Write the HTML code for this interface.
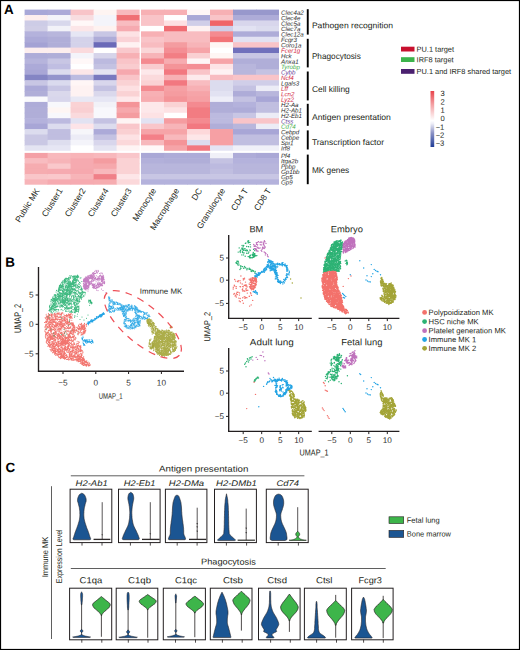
<!DOCTYPE html><html><head><meta charset="utf-8"><style>html,body{margin:0;padding:0;background:#fff;}svg{display:block;}</style></head><body><svg width="520" height="650" viewBox="0 0 520 650" font-family='"Liberation Sans", sans-serif' text-rendering="geometricPrecision">
<rect width="520" height="650" fill="#fff"/>
<g><rect x="24.60" y="9.60" width="23.60" height="6.03" fill="#a8a8d8"/>
<rect x="24.60" y="15.03" width="23.60" height="6.03" fill="#fdeeee"/>
<rect x="24.60" y="20.46" width="23.60" height="6.03" fill="#cdcce6"/>
<rect x="24.60" y="25.89" width="23.60" height="6.03" fill="#d0cee6"/>
<rect x="24.60" y="31.32" width="23.60" height="6.03" fill="#b4b2dc"/>
<rect x="24.60" y="36.75" width="23.60" height="6.03" fill="#acaad8"/>
<rect x="24.60" y="42.18" width="23.60" height="6.03" fill="#a4a2d4"/>
<rect x="24.60" y="47.61" width="23.60" height="6.03" fill="#fdeeee"/>
<rect x="24.60" y="53.04" width="23.60" height="6.03" fill="#aeacd8"/>
<rect x="24.60" y="58.47" width="23.60" height="6.03" fill="#b6b4dc"/>
<rect x="24.60" y="63.90" width="23.60" height="6.03" fill="#acaad8"/>
<rect x="24.60" y="69.33" width="23.60" height="6.03" fill="#a8a6d6"/>
<rect x="24.60" y="74.76" width="23.60" height="6.03" fill="#8485c4"/>
<rect x="24.60" y="80.19" width="23.60" height="6.03" fill="#c8c6e4"/>
<rect x="24.60" y="85.62" width="23.60" height="6.03" fill="#acaad8"/>
<rect x="24.60" y="91.05" width="23.60" height="6.03" fill="#b0aed8"/>
<rect x="24.60" y="96.48" width="23.60" height="6.03" fill="#fafafc"/>
<rect x="24.60" y="101.91" width="23.60" height="6.03" fill="#aeacd8"/>
<rect x="24.60" y="107.34" width="23.60" height="6.03" fill="#b0aed8"/>
<rect x="24.60" y="112.77" width="23.60" height="6.03" fill="#b0aed8"/>
<rect x="24.60" y="118.20" width="23.60" height="6.03" fill="#b4b2dc"/>
<rect x="24.60" y="123.63" width="23.60" height="6.03" fill="#a8a6d6"/>
<rect x="24.60" y="129.06" width="23.60" height="6.03" fill="#dcdcee"/>
<rect x="24.60" y="134.49" width="23.60" height="6.03" fill="#cac8e4"/>
<rect x="24.60" y="139.92" width="23.60" height="6.03" fill="#cac8e4"/>
<rect x="24.60" y="145.35" width="23.60" height="5.43" fill="#e4e4f2"/>
<rect x="24.60" y="152.90" width="23.60" height="5.90" fill="#f4a0a6"/>
<rect x="24.60" y="158.20" width="23.60" height="5.90" fill="#f8bcc0"/>
<rect x="24.60" y="163.50" width="23.60" height="5.90" fill="#f6acb0"/>
<rect x="24.60" y="168.80" width="23.60" height="5.90" fill="#f6acb0"/>
<rect x="24.60" y="174.10" width="23.60" height="5.90" fill="#f9c6c9"/>
<rect x="24.60" y="179.40" width="23.60" height="5.30" fill="#f7b4b8"/>
<rect x="47.60" y="9.60" width="23.60" height="6.03" fill="#acaad8"/>
<rect x="47.60" y="15.03" width="23.60" height="6.03" fill="#f4f4fa"/>
<rect x="47.60" y="20.46" width="23.60" height="6.03" fill="#d8d8ec"/>
<rect x="47.60" y="25.89" width="23.60" height="6.03" fill="#f2f2f8"/>
<rect x="47.60" y="31.32" width="23.60" height="6.03" fill="#b8b6dc"/>
<rect x="47.60" y="36.75" width="23.60" height="6.03" fill="#b0aed8"/>
<rect x="47.60" y="42.18" width="23.60" height="6.03" fill="#b0aed8"/>
<rect x="47.60" y="47.61" width="23.60" height="6.03" fill="#fdeeee"/>
<rect x="47.60" y="53.04" width="23.60" height="6.03" fill="#b0aed8"/>
<rect x="47.60" y="58.47" width="23.60" height="6.03" fill="#c8c6e4"/>
<rect x="47.60" y="63.90" width="23.60" height="6.03" fill="#c0bee2"/>
<rect x="47.60" y="69.33" width="23.60" height="6.03" fill="#dcdcee"/>
<rect x="47.60" y="74.76" width="23.60" height="6.03" fill="#9495cc"/>
<rect x="47.60" y="80.19" width="23.60" height="6.03" fill="#dadaee"/>
<rect x="47.60" y="85.62" width="23.60" height="6.03" fill="#c8c6e4"/>
<rect x="47.60" y="91.05" width="23.60" height="6.03" fill="#dad8ec"/>
<rect x="47.60" y="96.48" width="23.60" height="6.03" fill="#d8d6ec"/>
<rect x="47.60" y="101.91" width="23.60" height="6.03" fill="#f8f8fc"/>
<rect x="47.60" y="107.34" width="23.60" height="6.03" fill="#fef6f4"/>
<rect x="47.60" y="112.77" width="23.60" height="6.03" fill="#f8f8fc"/>
<rect x="47.60" y="118.20" width="23.60" height="6.03" fill="#bcbadf"/>
<rect x="47.60" y="123.63" width="23.60" height="6.03" fill="#dcdcee"/>
<rect x="47.60" y="129.06" width="23.60" height="6.03" fill="#c0bee0"/>
<rect x="47.60" y="134.49" width="23.60" height="6.03" fill="#c0bee0"/>
<rect x="47.60" y="139.92" width="23.60" height="6.03" fill="#dedeef"/>
<rect x="47.60" y="145.35" width="23.60" height="5.43" fill="#e6e6f4"/>
<rect x="47.60" y="152.90" width="23.60" height="5.90" fill="#f8b8bc"/>
<rect x="47.60" y="158.20" width="23.60" height="5.90" fill="#f7b4b8"/>
<rect x="47.60" y="163.50" width="23.60" height="5.90" fill="#fac8cb"/>
<rect x="47.60" y="168.80" width="23.60" height="5.90" fill="#f6aab0"/>
<rect x="47.60" y="174.10" width="23.60" height="5.90" fill="#fac8cb"/>
<rect x="47.60" y="179.40" width="23.60" height="5.30" fill="#f6aab0"/>
<rect x="70.60" y="9.60" width="23.60" height="6.03" fill="#f8c4c8"/>
<rect x="70.60" y="15.03" width="23.60" height="6.03" fill="#f8dde0"/>
<rect x="70.60" y="20.46" width="23.60" height="6.03" fill="#fff8f8"/>
<rect x="70.60" y="25.89" width="23.60" height="6.03" fill="#fce6e8"/>
<rect x="70.60" y="31.32" width="23.60" height="6.03" fill="#e6e6f4"/>
<rect x="70.60" y="36.75" width="23.60" height="6.03" fill="#d4d2ea"/>
<rect x="70.60" y="42.18" width="23.60" height="6.03" fill="#d4d2ea"/>
<rect x="70.60" y="47.61" width="23.60" height="6.03" fill="#fadadd"/>
<rect x="70.60" y="53.04" width="23.60" height="6.03" fill="#f4f4fa"/>
<rect x="70.60" y="58.47" width="23.60" height="6.03" fill="#fff8f8"/>
<rect x="70.60" y="63.90" width="23.60" height="6.03" fill="#ffffff"/>
<rect x="70.60" y="69.33" width="23.60" height="6.03" fill="#fce6e8"/>
<rect x="70.60" y="74.76" width="23.60" height="6.03" fill="#bcbbe0"/>
<rect x="70.60" y="80.19" width="23.60" height="6.03" fill="#fff6f6"/>
<rect x="70.60" y="85.62" width="23.60" height="6.03" fill="#fef2f2"/>
<rect x="70.60" y="91.05" width="23.60" height="6.03" fill="#fef2f2"/>
<rect x="70.60" y="96.48" width="23.60" height="6.03" fill="#e8e8f4"/>
<rect x="70.60" y="101.91" width="23.60" height="6.03" fill="#fad2d4"/>
<rect x="70.60" y="107.34" width="23.60" height="6.03" fill="#f9cfd2"/>
<rect x="70.60" y="112.77" width="23.60" height="6.03" fill="#fadadd"/>
<rect x="70.60" y="118.20" width="23.60" height="6.03" fill="#e2e2f2"/>
<rect x="70.60" y="123.63" width="23.60" height="6.03" fill="#fde4e8"/>
<rect x="70.60" y="129.06" width="23.60" height="6.03" fill="#f6f6fa"/>
<rect x="70.60" y="134.49" width="23.60" height="6.03" fill="#ececf6"/>
<rect x="70.60" y="139.92" width="23.60" height="6.03" fill="#f4f4fa"/>
<rect x="70.60" y="145.35" width="23.60" height="5.43" fill="#ffffff"/>
<rect x="70.60" y="152.90" width="23.60" height="5.90" fill="#f8b4b8"/>
<rect x="70.60" y="158.20" width="23.60" height="5.90" fill="#f6aab0"/>
<rect x="70.60" y="163.50" width="23.60" height="5.90" fill="#f6aab0"/>
<rect x="70.60" y="168.80" width="23.60" height="5.90" fill="#f6a8ae"/>
<rect x="70.60" y="174.10" width="23.60" height="5.90" fill="#f7b4b8"/>
<rect x="70.60" y="179.40" width="23.60" height="5.30" fill="#f6aab0"/>
<rect x="93.60" y="9.60" width="23.60" height="6.03" fill="#fef4f2"/>
<rect x="93.60" y="15.03" width="23.60" height="6.03" fill="#f4f4fa"/>
<rect x="93.60" y="20.46" width="23.60" height="6.03" fill="#f4f4fa"/>
<rect x="93.60" y="25.89" width="23.60" height="6.03" fill="#fef2f0"/>
<rect x="93.60" y="31.32" width="23.60" height="6.03" fill="#c8c6e4"/>
<rect x="93.60" y="36.75" width="23.60" height="6.03" fill="#aeacd8"/>
<rect x="93.60" y="42.18" width="23.60" height="6.03" fill="#6a6ab8"/>
<rect x="93.60" y="47.61" width="23.60" height="6.03" fill="#ffffff"/>
<rect x="93.60" y="53.04" width="23.60" height="6.03" fill="#d6d4ea"/>
<rect x="93.60" y="58.47" width="23.60" height="6.03" fill="#bcbadf"/>
<rect x="93.60" y="63.90" width="23.60" height="6.03" fill="#c4c2e2"/>
<rect x="93.60" y="69.33" width="23.60" height="6.03" fill="#e4e4f2"/>
<rect x="93.60" y="74.76" width="23.60" height="6.03" fill="#7879bf"/>
<rect x="93.60" y="80.19" width="23.60" height="6.03" fill="#d8d6ec"/>
<rect x="93.60" y="85.62" width="23.60" height="6.03" fill="#c4c2e2"/>
<rect x="93.60" y="91.05" width="23.60" height="6.03" fill="#dad8ec"/>
<rect x="93.60" y="96.48" width="23.60" height="6.03" fill="#e6e6f4"/>
<rect x="93.60" y="101.91" width="23.60" height="6.03" fill="#f2f2f8"/>
<rect x="93.60" y="107.34" width="23.60" height="6.03" fill="#f8f8fc"/>
<rect x="93.60" y="112.77" width="23.60" height="6.03" fill="#f8f8fc"/>
<rect x="93.60" y="118.20" width="23.60" height="6.03" fill="#c4c2e2"/>
<rect x="93.60" y="123.63" width="23.60" height="6.03" fill="#dcdcee"/>
<rect x="93.60" y="129.06" width="23.60" height="6.03" fill="#acaad8"/>
<rect x="93.60" y="134.49" width="23.60" height="6.03" fill="#c4c2e2"/>
<rect x="93.60" y="139.92" width="23.60" height="6.03" fill="#d8d6ec"/>
<rect x="93.60" y="145.35" width="23.60" height="5.43" fill="#e4e4f2"/>
<rect x="93.60" y="152.90" width="23.60" height="5.90" fill="#f8b8bc"/>
<rect x="93.60" y="158.20" width="23.60" height="5.90" fill="#f49ca0"/>
<rect x="93.60" y="163.50" width="23.60" height="5.90" fill="#f6a8ac"/>
<rect x="93.60" y="168.80" width="23.60" height="5.90" fill="#f8b8bc"/>
<rect x="93.60" y="174.10" width="23.60" height="5.90" fill="#f08088"/>
<rect x="93.60" y="179.40" width="23.60" height="5.30" fill="#f6acb0"/>
<rect x="116.60" y="9.60" width="23.00" height="6.03" fill="#f8b8bc"/>
<rect x="116.60" y="15.03" width="23.00" height="6.03" fill="#f07074"/>
<rect x="116.60" y="20.46" width="23.00" height="6.03" fill="#f8bcc0"/>
<rect x="116.60" y="25.89" width="23.00" height="6.03" fill="#f6aab0"/>
<rect x="116.60" y="31.32" width="23.00" height="6.03" fill="#fde2e4"/>
<rect x="116.60" y="36.75" width="23.00" height="6.03" fill="#fad2d6"/>
<rect x="116.60" y="42.18" width="23.00" height="6.03" fill="#fef2f2"/>
<rect x="116.60" y="47.61" width="23.00" height="6.03" fill="#f9c8cc"/>
<rect x="116.60" y="53.04" width="23.00" height="6.03" fill="#f7b0b4"/>
<rect x="116.60" y="58.47" width="23.00" height="6.03" fill="#f9c4c8"/>
<rect x="116.60" y="63.90" width="23.00" height="6.03" fill="#f9cccf"/>
<rect x="116.60" y="69.33" width="23.00" height="6.03" fill="#f6a8ae"/>
<rect x="116.60" y="74.76" width="23.00" height="6.03" fill="#f9c4c8"/>
<rect x="116.60" y="80.19" width="23.00" height="6.03" fill="#fad2d4"/>
<rect x="116.60" y="85.62" width="23.00" height="6.03" fill="#fde0e2"/>
<rect x="116.60" y="91.05" width="23.00" height="6.03" fill="#fad2d4"/>
<rect x="116.60" y="96.48" width="23.00" height="6.03" fill="#fee8ea"/>
<rect x="116.60" y="101.91" width="23.00" height="6.03" fill="#f49498"/>
<rect x="116.60" y="107.34" width="23.00" height="6.03" fill="#f6a8ac"/>
<rect x="116.60" y="112.77" width="23.00" height="6.03" fill="#f49ca0"/>
<rect x="116.60" y="118.20" width="23.00" height="6.03" fill="#fef4f4"/>
<rect x="116.60" y="123.63" width="23.00" height="6.03" fill="#f9c6ca"/>
<rect x="116.60" y="129.06" width="23.00" height="6.03" fill="#fad0d2"/>
<rect x="116.60" y="134.49" width="23.00" height="6.03" fill="#fde2e4"/>
<rect x="116.60" y="139.92" width="23.00" height="6.03" fill="#fbd8da"/>
<rect x="116.60" y="145.35" width="23.00" height="5.43" fill="#fef4f4"/>
<rect x="116.60" y="152.90" width="23.00" height="5.90" fill="#f9c6ca"/>
<rect x="116.60" y="158.20" width="23.00" height="5.90" fill="#fad2d4"/>
<rect x="116.60" y="163.50" width="23.00" height="5.90" fill="#fad2d4"/>
<rect x="116.60" y="168.80" width="23.00" height="5.90" fill="#fad2d4"/>
<rect x="116.60" y="174.10" width="23.00" height="5.90" fill="#fde6e8"/>
<rect x="116.60" y="179.40" width="23.00" height="5.30" fill="#fbd8da"/>
<rect x="141.00" y="9.60" width="23.60" height="6.03" fill="#f7b0b4"/>
<rect x="141.00" y="15.03" width="23.60" height="6.03" fill="#f9c4c8"/>
<rect x="141.00" y="20.46" width="23.60" height="6.03" fill="#f9c4c8"/>
<rect x="141.00" y="25.89" width="23.60" height="6.03" fill="#ffffff"/>
<rect x="141.00" y="31.32" width="23.60" height="6.03" fill="#f7b0b4"/>
<rect x="141.00" y="36.75" width="23.60" height="6.03" fill="#f9c4c8"/>
<rect x="141.00" y="42.18" width="23.60" height="6.03" fill="#f8bcc0"/>
<rect x="141.00" y="47.61" width="23.60" height="6.03" fill="#fad6d8"/>
<rect x="141.00" y="53.04" width="23.60" height="6.03" fill="#f7b4b8"/>
<rect x="141.00" y="58.47" width="23.60" height="6.03" fill="#f48a90"/>
<rect x="141.00" y="63.90" width="23.60" height="6.03" fill="#f9cccf"/>
<rect x="141.00" y="69.33" width="23.60" height="6.03" fill="#fde8ea"/>
<rect x="141.00" y="74.76" width="23.60" height="6.03" fill="#fbdadc"/>
<rect x="141.00" y="80.19" width="23.60" height="6.03" fill="#fad2d4"/>
<rect x="141.00" y="85.62" width="23.60" height="6.03" fill="#f48a90"/>
<rect x="141.00" y="91.05" width="23.60" height="6.03" fill="#f7b0b4"/>
<rect x="141.00" y="96.48" width="23.60" height="6.03" fill="#f7acb0"/>
<rect x="141.00" y="101.91" width="23.60" height="6.03" fill="#fde8ea"/>
<rect x="141.00" y="107.34" width="23.60" height="6.03" fill="#fde8ea"/>
<rect x="141.00" y="112.77" width="23.60" height="6.03" fill="#fde2e4"/>
<rect x="141.00" y="118.20" width="23.60" height="6.03" fill="#e2e2f2"/>
<rect x="141.00" y="123.63" width="23.60" height="6.03" fill="#f9c6ca"/>
<rect x="141.00" y="129.06" width="23.60" height="6.03" fill="#f6a4a8"/>
<rect x="141.00" y="134.49" width="23.60" height="6.03" fill="#f48088"/>
<rect x="141.00" y="139.92" width="23.60" height="6.03" fill="#f7b8bc"/>
<rect x="141.00" y="145.35" width="23.60" height="5.43" fill="#fff8f8"/>
<rect x="141.00" y="152.90" width="23.60" height="5.90" fill="#aaa8d6"/>
<rect x="141.00" y="158.20" width="23.60" height="5.90" fill="#b2b0da"/>
<rect x="141.00" y="163.50" width="23.60" height="5.90" fill="#b8b6dc"/>
<rect x="141.00" y="168.80" width="23.60" height="5.90" fill="#b8b6dc"/>
<rect x="141.00" y="174.10" width="23.60" height="5.90" fill="#c8c6e4"/>
<rect x="141.00" y="179.40" width="23.60" height="5.30" fill="#b4b2dc"/>
<rect x="164.00" y="9.60" width="23.60" height="6.03" fill="#f7b0b4"/>
<rect x="164.00" y="15.03" width="23.60" height="6.03" fill="#ffffff"/>
<rect x="164.00" y="20.46" width="23.60" height="6.03" fill="#fde0e2"/>
<rect x="164.00" y="25.89" width="23.60" height="6.03" fill="#f06c72"/>
<rect x="164.00" y="31.32" width="23.60" height="6.03" fill="#f8bcc0"/>
<rect x="164.00" y="36.75" width="23.60" height="6.03" fill="#f8bcc0"/>
<rect x="164.00" y="42.18" width="23.60" height="6.03" fill="#f49ca0"/>
<rect x="164.00" y="47.61" width="23.60" height="6.03" fill="#f48e94"/>
<rect x="164.00" y="53.04" width="23.60" height="6.03" fill="#f27e84"/>
<rect x="164.00" y="58.47" width="23.60" height="6.03" fill="#f7acb0"/>
<rect x="164.00" y="63.90" width="23.60" height="6.03" fill="#f49498"/>
<rect x="164.00" y="69.33" width="23.60" height="6.03" fill="#f27880"/>
<rect x="164.00" y="74.76" width="23.60" height="6.03" fill="#f7b0b4"/>
<rect x="164.00" y="80.19" width="23.60" height="6.03" fill="#f27880"/>
<rect x="164.00" y="85.62" width="23.60" height="6.03" fill="#f6a0a4"/>
<rect x="164.00" y="91.05" width="23.60" height="6.03" fill="#f59ca0"/>
<rect x="164.00" y="96.48" width="23.60" height="6.03" fill="#f49498"/>
<rect x="164.00" y="101.91" width="23.60" height="6.03" fill="#fad2d4"/>
<rect x="164.00" y="107.34" width="23.60" height="6.03" fill="#fde2e4"/>
<rect x="164.00" y="112.77" width="23.60" height="6.03" fill="#ffffff"/>
<rect x="164.00" y="118.20" width="23.60" height="6.03" fill="#f59ca0"/>
<rect x="164.00" y="123.63" width="23.60" height="6.03" fill="#f7b4b8"/>
<rect x="164.00" y="129.06" width="23.60" height="6.03" fill="#f6a4a8"/>
<rect x="164.00" y="134.49" width="23.60" height="6.03" fill="#f8b8bc"/>
<rect x="164.00" y="139.92" width="23.60" height="6.03" fill="#f49498"/>
<rect x="164.00" y="145.35" width="23.60" height="5.43" fill="#f6a4a8"/>
<rect x="164.00" y="152.90" width="23.60" height="5.90" fill="#aeacd8"/>
<rect x="164.00" y="158.20" width="23.60" height="5.90" fill="#b0aed8"/>
<rect x="164.00" y="163.50" width="23.60" height="5.90" fill="#b8b6dc"/>
<rect x="164.00" y="168.80" width="23.60" height="5.90" fill="#b8b6dc"/>
<rect x="164.00" y="174.10" width="23.60" height="5.90" fill="#c8c6e4"/>
<rect x="164.00" y="179.40" width="23.60" height="5.30" fill="#b4b2dc"/>
<rect x="187.00" y="9.60" width="23.60" height="6.03" fill="#fff6f6"/>
<rect x="187.00" y="15.03" width="23.60" height="6.03" fill="#aaa8d6"/>
<rect x="187.00" y="20.46" width="23.60" height="6.03" fill="#d0cee8"/>
<rect x="187.00" y="25.89" width="23.60" height="6.03" fill="#fef2f2"/>
<rect x="187.00" y="31.32" width="23.60" height="6.03" fill="#f8bcc0"/>
<rect x="187.00" y="36.75" width="23.60" height="6.03" fill="#f8bcc0"/>
<rect x="187.00" y="42.18" width="23.60" height="6.03" fill="#f7b4b8"/>
<rect x="187.00" y="47.61" width="23.60" height="6.03" fill="#f6a4a8"/>
<rect x="187.00" y="53.04" width="23.60" height="6.03" fill="#fad0d2"/>
<rect x="187.00" y="58.47" width="23.60" height="6.03" fill="#fef6f6"/>
<rect x="187.00" y="63.90" width="23.60" height="6.03" fill="#f48e94"/>
<rect x="187.00" y="69.33" width="23.60" height="6.03" fill="#f9c4c8"/>
<rect x="187.00" y="74.76" width="23.60" height="6.03" fill="#fdeaec"/>
<rect x="187.00" y="80.19" width="23.60" height="6.03" fill="#f8bcc0"/>
<rect x="187.00" y="85.62" width="23.60" height="6.03" fill="#f7b0b4"/>
<rect x="187.00" y="91.05" width="23.60" height="6.03" fill="#f6a4a8"/>
<rect x="187.00" y="96.48" width="23.60" height="6.03" fill="#f6a0a4"/>
<rect x="187.00" y="101.91" width="23.60" height="6.03" fill="#f48a90"/>
<rect x="187.00" y="107.34" width="23.60" height="6.03" fill="#f27c82"/>
<rect x="187.00" y="112.77" width="23.60" height="6.03" fill="#f27c82"/>
<rect x="187.00" y="118.20" width="23.60" height="6.03" fill="#f48a90"/>
<rect x="187.00" y="123.63" width="23.60" height="6.03" fill="#f27880"/>
<rect x="187.00" y="129.06" width="23.60" height="6.03" fill="#fdd8da"/>
<rect x="187.00" y="134.49" width="23.60" height="6.03" fill="#fde6e8"/>
<rect x="187.00" y="139.92" width="23.60" height="6.03" fill="#dcdcee"/>
<rect x="187.00" y="145.35" width="23.60" height="5.43" fill="#f27880"/>
<rect x="187.00" y="152.90" width="23.60" height="5.90" fill="#aeacd8"/>
<rect x="187.00" y="158.20" width="23.60" height="5.90" fill="#b0aed8"/>
<rect x="187.00" y="163.50" width="23.60" height="5.90" fill="#b8b6dc"/>
<rect x="187.00" y="168.80" width="23.60" height="5.90" fill="#b8b6dc"/>
<rect x="187.00" y="174.10" width="23.60" height="5.90" fill="#c8c6e4"/>
<rect x="187.00" y="179.40" width="23.60" height="5.30" fill="#b4b2dc"/>
<rect x="210.00" y="9.60" width="23.60" height="6.03" fill="#f7b0b4"/>
<rect x="210.00" y="15.03" width="23.60" height="6.03" fill="#f9c4c8"/>
<rect x="210.00" y="20.46" width="23.60" height="6.03" fill="#f06468"/>
<rect x="210.00" y="25.89" width="23.60" height="6.03" fill="#d0cee8"/>
<rect x="210.00" y="31.32" width="23.60" height="6.03" fill="#f48a90"/>
<rect x="210.00" y="36.75" width="23.60" height="6.03" fill="#f27478"/>
<rect x="210.00" y="42.18" width="23.60" height="6.03" fill="#fef6f4"/>
<rect x="210.00" y="47.61" width="23.60" height="6.03" fill="#ffffff"/>
<rect x="210.00" y="53.04" width="23.60" height="6.03" fill="#fef6f4"/>
<rect x="210.00" y="58.47" width="23.60" height="6.03" fill="#f6a4a8"/>
<rect x="210.00" y="63.90" width="23.60" height="6.03" fill="#fde4e6"/>
<rect x="210.00" y="69.33" width="23.60" height="6.03" fill="#fef2f2"/>
<rect x="210.00" y="74.76" width="23.60" height="6.03" fill="#f8bcc0"/>
<rect x="210.00" y="80.19" width="23.60" height="6.03" fill="#dcdcee"/>
<rect x="210.00" y="85.62" width="23.60" height="6.03" fill="#dcdcee"/>
<rect x="210.00" y="91.05" width="23.60" height="6.03" fill="#e2e2f2"/>
<rect x="210.00" y="96.48" width="23.60" height="6.03" fill="#eeeef8"/>
<rect x="210.00" y="101.91" width="23.60" height="6.03" fill="#b0aed8"/>
<rect x="210.00" y="107.34" width="23.60" height="6.03" fill="#b0aed8"/>
<rect x="210.00" y="112.77" width="23.60" height="6.03" fill="#bcbadf"/>
<rect x="210.00" y="118.20" width="23.60" height="6.03" fill="#bcbadf"/>
<rect x="210.00" y="123.63" width="23.60" height="6.03" fill="#b0aed8"/>
<rect x="210.00" y="129.06" width="23.60" height="6.03" fill="#f6a0a4"/>
<rect x="210.00" y="134.49" width="23.60" height="6.03" fill="#f6a0a4"/>
<rect x="210.00" y="139.92" width="23.60" height="6.03" fill="#f6a0a4"/>
<rect x="210.00" y="145.35" width="23.60" height="5.43" fill="#e4e4f4"/>
<rect x="210.00" y="152.90" width="23.60" height="5.90" fill="#f0f0f8"/>
<rect x="210.00" y="158.20" width="23.60" height="5.90" fill="#c4c2e2"/>
<rect x="210.00" y="163.50" width="23.60" height="5.90" fill="#bcbadf"/>
<rect x="210.00" y="168.80" width="23.60" height="5.90" fill="#c0bee0"/>
<rect x="210.00" y="174.10" width="23.60" height="5.90" fill="#c8c6e4"/>
<rect x="210.00" y="179.40" width="23.60" height="5.30" fill="#b4b2dc"/>
<rect x="233.00" y="9.60" width="23.60" height="6.03" fill="#9898cc"/>
<rect x="233.00" y="15.03" width="23.60" height="6.03" fill="#aeacd8"/>
<rect x="233.00" y="20.46" width="23.60" height="6.03" fill="#d8d6ec"/>
<rect x="233.00" y="25.89" width="23.60" height="6.03" fill="#e2e2f2"/>
<rect x="233.00" y="31.32" width="23.60" height="6.03" fill="#aeacd8"/>
<rect x="233.00" y="36.75" width="23.60" height="6.03" fill="#e2e2f2"/>
<rect x="233.00" y="42.18" width="23.60" height="6.03" fill="#f9c4c8"/>
<rect x="233.00" y="47.61" width="23.60" height="6.03" fill="#7070bc"/>
<rect x="233.00" y="53.04" width="23.60" height="6.03" fill="#c8c6e4"/>
<rect x="233.00" y="58.47" width="23.60" height="6.03" fill="#b0aed8"/>
<rect x="233.00" y="63.90" width="23.60" height="6.03" fill="#b8b6dc"/>
<rect x="233.00" y="69.33" width="23.60" height="6.03" fill="#b8b6dc"/>
<rect x="233.00" y="74.76" width="23.60" height="6.03" fill="#f9c4c8"/>
<rect x="233.00" y="80.19" width="23.60" height="6.03" fill="#d0cee8"/>
<rect x="233.00" y="85.62" width="23.60" height="6.03" fill="#c4c2e2"/>
<rect x="233.00" y="91.05" width="23.60" height="6.03" fill="#aeacd8"/>
<rect x="233.00" y="96.48" width="23.60" height="6.03" fill="#c4c2e2"/>
<rect x="233.00" y="101.91" width="23.60" height="6.03" fill="#b4b2dc"/>
<rect x="233.00" y="107.34" width="23.60" height="6.03" fill="#aeacd8"/>
<rect x="233.00" y="112.77" width="23.60" height="6.03" fill="#c8c6e4"/>
<rect x="233.00" y="118.20" width="23.60" height="6.03" fill="#f9c4c8"/>
<rect x="233.00" y="123.63" width="23.60" height="6.03" fill="#b8b6dc"/>
<rect x="233.00" y="129.06" width="23.60" height="6.03" fill="#a8a6d6"/>
<rect x="233.00" y="134.49" width="23.60" height="6.03" fill="#c0bee0"/>
<rect x="233.00" y="139.92" width="23.60" height="6.03" fill="#c0bee0"/>
<rect x="233.00" y="145.35" width="23.60" height="5.43" fill="#f0f0f8"/>
<rect x="233.00" y="152.90" width="23.60" height="5.90" fill="#aeacd8"/>
<rect x="233.00" y="158.20" width="23.60" height="5.90" fill="#b4b2dc"/>
<rect x="233.00" y="163.50" width="23.60" height="5.90" fill="#b8b6dc"/>
<rect x="233.00" y="168.80" width="23.60" height="5.90" fill="#b8b6dc"/>
<rect x="233.00" y="174.10" width="23.60" height="5.90" fill="#c8c6e4"/>
<rect x="233.00" y="179.40" width="23.60" height="5.30" fill="#b4b2dc"/>
<rect x="256.00" y="9.60" width="23.00" height="6.03" fill="#9898cc"/>
<rect x="256.00" y="15.03" width="23.00" height="6.03" fill="#aeacd8"/>
<rect x="256.00" y="20.46" width="23.00" height="6.03" fill="#d8d6ec"/>
<rect x="256.00" y="25.89" width="23.00" height="6.03" fill="#dcdcee"/>
<rect x="256.00" y="31.32" width="23.00" height="6.03" fill="#aeacd8"/>
<rect x="256.00" y="36.75" width="23.00" height="6.03" fill="#e2e2f2"/>
<rect x="256.00" y="42.18" width="23.00" height="6.03" fill="#f9c4c8"/>
<rect x="256.00" y="47.61" width="23.00" height="6.03" fill="#7070bc"/>
<rect x="256.00" y="53.04" width="23.00" height="6.03" fill="#c8c6e4"/>
<rect x="256.00" y="58.47" width="23.00" height="6.03" fill="#b0aed8"/>
<rect x="256.00" y="63.90" width="23.00" height="6.03" fill="#b0aed8"/>
<rect x="256.00" y="69.33" width="23.00" height="6.03" fill="#c4c2e2"/>
<rect x="256.00" y="74.76" width="23.00" height="6.03" fill="#f9c4c8"/>
<rect x="256.00" y="80.19" width="23.00" height="6.03" fill="#d0cee8"/>
<rect x="256.00" y="85.62" width="23.00" height="6.03" fill="#ececf6"/>
<rect x="256.00" y="91.05" width="23.00" height="6.03" fill="#b8b6dc"/>
<rect x="256.00" y="96.48" width="23.00" height="6.03" fill="#a8a6d6"/>
<rect x="256.00" y="101.91" width="23.00" height="6.03" fill="#c0bee0"/>
<rect x="256.00" y="107.34" width="23.00" height="6.03" fill="#c0bee0"/>
<rect x="256.00" y="112.77" width="23.00" height="6.03" fill="#ececf6"/>
<rect x="256.00" y="118.20" width="23.00" height="6.03" fill="#f9c4c8"/>
<rect x="256.00" y="123.63" width="23.00" height="6.03" fill="#ececf6"/>
<rect x="256.00" y="129.06" width="23.00" height="6.03" fill="#a8a6d6"/>
<rect x="256.00" y="134.49" width="23.00" height="6.03" fill="#c0bee0"/>
<rect x="256.00" y="139.92" width="23.00" height="6.03" fill="#c0bee0"/>
<rect x="256.00" y="145.35" width="23.00" height="5.43" fill="#f0f0f8"/>
<rect x="256.00" y="152.90" width="23.00" height="5.90" fill="#aaa8d6"/>
<rect x="256.00" y="158.20" width="23.00" height="5.90" fill="#b4b2dc"/>
<rect x="256.00" y="163.50" width="23.00" height="5.90" fill="#b8b6dc"/>
<rect x="256.00" y="168.80" width="23.00" height="5.90" fill="#b8b6dc"/>
<rect x="256.00" y="174.10" width="23.00" height="5.90" fill="#c8c6e4"/>
<rect x="256.00" y="179.40" width="23.00" height="5.30" fill="#b4b2dc"/></g>
<g font-size="6.2" font-style="italic" transform="rotate(0.05 292 97)"><text transform="rotate(0.05 281 14.81)" x="281" y="14.81" fill="#2a2a2a">Clec4a2</text><text transform="rotate(0.05 281 20.24)" x="281" y="20.24" fill="#2a2a2a">Clec4e</text><text transform="rotate(0.05 281 25.68)" x="281" y="25.68" fill="#2a2a2a">Clec5a</text><text transform="rotate(0.05 281 31.11)" x="281" y="31.11" fill="#2a2a2a">Clec7a</text><text transform="rotate(0.05 281 36.53)" x="281" y="36.53" fill="#2a2a2a">Clec12a</text><text transform="rotate(0.05 281 41.97)" x="281" y="41.97" fill="#2a2a2a">Fcgr3</text><text transform="rotate(0.05 281 47.39)" x="281" y="47.39" fill="#2a2a2a">Coro1a</text><text transform="rotate(0.05 281 52.83)" x="281" y="52.83" fill="#d2233c">Fcer1g</text><text transform="rotate(0.05 281 58.25)" x="281" y="58.25" fill="#2a2a2a">Hck</text><text transform="rotate(0.05 281 63.69)" x="281" y="63.69" fill="#2a2a2a">Anxa1</text><text transform="rotate(0.05 281 69.11)" x="281" y="69.11" fill="#3fae49">Tyrobp</text><text transform="rotate(0.05 281 74.55)" x="281" y="74.55" fill="#643c97">Cybb</text><text transform="rotate(0.05 281 79.97)" x="281" y="79.97" fill="#d2233c">Ncf4</text><text transform="rotate(0.05 281 85.41)" x="281" y="85.41" fill="#2a2a2a">Lgals3</text><text transform="rotate(0.05 281 90.83)" x="281" y="90.83" fill="#d2233c">Ltf</text><text transform="rotate(0.05 281 96.26)" x="281" y="96.26" fill="#d2233c">Lcn2</text><text transform="rotate(0.05 281 101.69)" x="281" y="101.69" fill="#d2233c">Lyz2</text><text transform="rotate(0.05 281 107.12)" x="281" y="107.12" fill="#2a2a2a">H2-Aa</text><text transform="rotate(0.05 281 112.55)" x="281" y="112.55" fill="#2a2a2a">H2-Ab1</text><text transform="rotate(0.05 281 117.98)" x="281" y="117.98" fill="#2a2a2a">H2-Eb1</text><text transform="rotate(0.05 281 123.41)" x="281" y="123.41" fill="#643c97">Ctss</text><text transform="rotate(0.05 281 128.84)" x="281" y="128.84" fill="#3fae49">Cd74</text><text transform="rotate(0.05 281 134.28)" x="281" y="134.28" fill="#2a2a2a">Cebpd</text><text transform="rotate(0.05 281 139.70)" x="281" y="139.70" fill="#2a2a2a">Cebpe</text><text transform="rotate(0.05 281 145.13)" x="281" y="145.13" fill="#2a2a2a">Spi1</text><text transform="rotate(0.05 281 150.56)" x="281" y="150.56" fill="#2a2a2a">Irf8</text><text transform="rotate(0.05 281 158.05)" x="281" y="158.05" fill="#2a2a2a">Pf4</text><text transform="rotate(0.05 281 163.35)" x="281" y="163.35" fill="#2a2a2a">Itga2b</text><text transform="rotate(0.05 281 168.65)" x="281" y="168.65" fill="#2a2a2a">Ppbp</text><text transform="rotate(0.05 281 173.95)" x="281" y="173.95" fill="#2a2a2a">Gp1bb</text><text transform="rotate(0.05 281 179.25)" x="281" y="179.25" fill="#2a2a2a">Gp5</text><text transform="rotate(0.05 281 184.55)" x="281" y="184.55" fill="#2a2a2a">Gp9</text></g>
<g font-size="8.3" fill="#231f20"><rect x="306.8" y="9.2" width="1.9" height="25.4" fill="#000"/><text transform="rotate(0.05 311.9 28.2)" x="311.9" y="28.2" textLength="81.2" lengthAdjust="spacingAndGlyphs">Pathogen recognition</text><rect x="306.8" y="38.8" width="1.9" height="28.6" fill="#000"/><text transform="rotate(0.05 311.9 58.9)" x="311.9" y="58.9" textLength="48.9" lengthAdjust="spacingAndGlyphs">Phagocytosis</text><rect x="306.8" y="71.5" width="1.9" height="28.9" fill="#000"/><text transform="rotate(0.05 311.9 91.9)" x="311.9" y="91.9" textLength="37.9" lengthAdjust="spacingAndGlyphs">Cell killing</text><rect x="306.8" y="103.8" width="1.9" height="22.0" fill="#000"/><text transform="rotate(0.05 311.9 119.9)" x="311.9" y="119.9" textLength="79.0" lengthAdjust="spacingAndGlyphs">Antigen presentation</text><rect x="306.8" y="130.4" width="1.9" height="19.1" fill="#000"/><text transform="rotate(0.05 311.9 145.0)" x="311.9" y="145.0" textLength="72.1" lengthAdjust="spacingAndGlyphs">Transcription factor</text><rect x="306.8" y="154.6" width="1.9" height="29.6" fill="#000"/><text transform="rotate(0.05 311.9 173.0)" x="311.9" y="173.0" textLength="37.3" lengthAdjust="spacingAndGlyphs">MK genes</text></g>
<rect x="401" y="46.7" width="13.5" height="4.8" fill="#c8102e"/>
<rect x="401" y="57.2" width="13.5" height="4.8" fill="#3cb44b"/>
<rect x="401" y="69" width="13.5" height="4.8" fill="#4b2170"/>
<g font-size="7.4" fill="#231f20"><text transform="rotate(0.05 416.6 51.8)" x="416.6" y="51.8">PU.1 target</text><text transform="rotate(0.05 416.6 62.3)" x="416.6" y="62.3">IRF8 target</text><text transform="rotate(0.05 416.6 74)" x="416.6" y="74">PU.1 and IRF8 shared target</text></g>
<defs><linearGradient id="cb" x1="0" y1="0" x2="0" y2="1">
<stop offset="0" stop-color="#e8434b"/><stop offset="0.25" stop-color="#f4a3a6"/><stop offset="0.49" stop-color="#fdf3f3"/>
<stop offset="0.53" stop-color="#ffffff"/><stop offset="0.58" stop-color="#eeeef7"/><stop offset="0.75" stop-color="#8c93c6"/><stop offset="1" stop-color="#1f3c96"/></linearGradient></defs>
<rect x="430.5" y="91" width="3.7" height="56" fill="url(#cb)"/>
<g font-size="7.6" fill="#231f20"><text transform="rotate(0.05 440.6 96.0)" x="440.6" y="96.0">3</text><text transform="rotate(0.05 440.6 104.6)" x="440.6" y="104.6">2</text><text transform="rotate(0.05 440.6 112.7)" x="440.6" y="112.7">1</text><text transform="rotate(0.05 440.6 121.0)" x="440.6" y="121.0">0</text><text transform="rotate(0.05 435.7 129.7)" x="435.7" y="129.7">−1</text><text transform="rotate(0.05 435.7 137.7)" x="435.7" y="137.7">−2</text><text transform="rotate(0.05 435.7 145.7)" x="435.7" y="145.7">−3</text></g>
<g font-size="8.5" fill="#231f20"><text transform="translate(40.1,190.6) rotate(-58)" text-anchor="end">Public MK</text><text transform="translate(63.1,190.6) rotate(-58)" text-anchor="end">Cluster1</text><text transform="translate(86.1,190.6) rotate(-58)" text-anchor="end">Cluster2</text><text transform="translate(109.1,190.6) rotate(-58)" text-anchor="end">Cluster4</text><text transform="translate(132.1,190.6) rotate(-58)" text-anchor="end">Cluster3</text><text transform="translate(156.5,190.6) rotate(-58)" text-anchor="end">Monocyte</text><text transform="translate(179.5,190.6) rotate(-58)" text-anchor="end">Macrophage</text><text transform="translate(202.5,190.6) rotate(-58)" text-anchor="end">DC</text><text transform="translate(225.5,190.6) rotate(-58)" text-anchor="end">Granulocyte</text><text transform="translate(248.5,190.6) rotate(-58)" text-anchor="end">CD4 T</text><text transform="translate(271.5,190.6) rotate(-58)" text-anchor="end">CD8 T</text></g>
<g font-size="13.4" font-weight="bold" fill="#000"><text transform="rotate(0.05 3.9 14.0)" x="3.9" y="14.0">A</text><text transform="rotate(0.05 5.3 266.8)" x="5.3" y="266.8">B</text><text transform="rotate(0.05 5.5 472.0)" x="5.5" y="472.0">C</text></g>
<g><path d="M59.0 312.5h0m3.7 0h0m-14.3 1.1h0m3.3 .1h0m2.6-.1h0m.1 .3h0m.3-.4h0m1.4 .3h0m.2 0h0m1.1-.7h0m.1 .4h0m.7 0h0m.8-.1h0m2.1-.3h0m.5 .9h0m.1-.9h0m.7 .1h0m1.4 .8h0m-17.6 .3h0m2.4-.2h0m.4 .5h0m.6 .1h0m1.2-.7h0m.5 .5h0m.8 .1h0m.7 .1h0m.6 .3h0m.9-.9h0m.2 .1h0m.4-.1h0m0 .3h0m.8 .5h0m.4-.3h0m1.5 .2h0m.7-.3h0m1.4 0h0m.3 .5h0m0-.9h0m.6 .7h0m.8-.6h0m.3-.2h0m4.9 .5h0m1.6 .5h0m-21.9 .8h0m2.6-.4h0m.4 .3h0m.7-.2h0m.9 .2h0m.5-.7h0m.6 .6h0m2.4 .4h0m.2-.5h0m0 .5h0m1.2-.6h0m.1 .2h0m.1-.2h0m5.3-.2h0m.1-.2h0m0 0h0m3 .3h0m.8 .6h0m.5-.3h0m.9-.3h0m0 .5h0m.3-.7h0m.6 .5h0m.6-.1h0m-21.7 .7h0m.3 .4h0m.3 .2h0m.6-.8h0m.2 .2h0m.5-.1h0m.1 .3h0m0-.1h0m.4 .4h0m.2-.1h0m2.6 0h0m.1-.6h0m1.1 .8h0m2.1 .1h0m0-.2h0m.5-.5h0m.3-.2h0m.5 .4h0m.2-.1h0m.4-.1h0m.8-.1h0m.1 .5h0m.2-.3h0m2.1 .6h0m1.7-.1h0m1.4-.4h0m1.1 .4h0m2.4-.4h0m.4-.3h0m.4 .8h0m1.3 0h0m-23.5 .7h0m1.2-.3h0m1 .3h0m.5 .3h0m.4-.8h0m.1 .5h0m.2 0h0m.2-.5h0m.6 .6h0m0-.2h0m.7 .3h0m1 .1h0m1.8-.5h0m.3 .3h0m2.1 .2h0m.8-.6h0m1.9 .4h0m.1 .2h0m.9-.7h0m.1 .2h0m.3-.4h0m.7 .3h0m.6-.2h0m.8 .3h0m.1 .2h0m.5 0h0m1 .3h0m1.1-.7h0m.3 .2h0m.3 .5h0m.6-.2h0m.6 .1h0m.2 .2h0m-20.8 .6h0m1.7 .2h0m0-.5h0m.5 .1h0m.4 .1h0m.4 .3h0m.7-.5h0m.1 .6h0m.1-.2h0m1.7-.3h0m1.4-.3h0m3 0h0m0 .6h0m.3-.7h0m.1 .9h0m.1-.8h0m.2 .7h0m.8-.1h0m4.5 0h0m.3 .1h0m2.2 .1h0m.1-.1h0m1 0h0m0-.3h0m0 .1h0m2.5 .3h0m-20.7 .2h0m.1 .2h0m.4 .2h0m.1 .4h0m0-.4h0m.5-.2h0m0 .7h0m1.7-.6h0m.2 .5h0m.2-.2h0m.6 .3h0m.7-.8h0m.5 .4h0m.4-.1h0m.6-.1h0m.1 .2h0m.7-.6h0m.2 .9h0m.5-.6h0m.3 .6h0m.2 0h0m.4 .1h0m.4-.5h0m0 .3h0m.7-.5h0m.8 .5h0m.8-.4h0m1.1-.2h0m.7 .3h0m.3 .1h0m.2-.2h0m.6-.2h0m.1 .6h0m.8-.8h0m1.4 .9h0m1.6-.3h0m1.4-.4h0m.2 0h0m.5 .1h0m.4-.3h0m.1 .1h0m.1 .3h0m0-.3h0m-21.1 1h0m3.7 .5h0m0-.1h0m.4-.3h0m.1 .4h0m.2-.3h0m.6-.2h0m.6 .2h0m.2-.3h0m.2 1h0m.3 0h0m1.1-1h0m.4 .3h0m3.3-.2h0m2.6 .1h0m2 .7h0m0-.8h0m.7 .3h0m.3 .5h0m1.1-.8h0m.3 .4h0m.1 0h0m.1 .4h0m.2-.5h0m.8 .5h0m.1-.7h0m.2 .8h0m1.4-.9h0m.5 .6h0m1.9-.2h0m.2-.4h0m-24.1 1.3h0m.6-.1h0m.6 .2h0m.2-.3h0m.1 0h0m.3-.2h0m1.3 .5h0m.2 0h0m.2 0h0m1.4 .4h0m.7-.2h0m1.4-.1h0m.2-.1h0m.2-.4h0m.6 .4h0m.3 .2h0m.3 .1h0m0 .2h0m.3-.8h0m1.1 .7h0m2.9-.1h0m0-.3h0m.3 .1h0m.3-.1h0m.3-.5h0m.9 .6h0m.8-.5h0m1.8 .7h0m1.8-.7h0m0 0h0m1.9 .2h0m.7 .1h0m.2 .3h0m1 .2h0m.8 0h0m-24.9 .6h0m.5-.1h0m1.1-.3h0m.2 .4h0m.5-.2h0m1.6 .2h0m.1 .2h0m.7-.2h0m.3 .4h0m.3-.1h0m.2-.6h0m.7 .8h0m.1-.7h0m.7-.1h0m.3 0h0m.9-.2h0m.4 .7h0m.7-.1h0m1.2-.1h0m.6 .3h0m.8-.8h0m1.2 .9h0m.1-.3h0m2.1 .2h0m.4-.6h0m.4-.1h0m.1 .5h0m.8-.4h0m.1-.1h0m.1 .4h0m3.4 .2h0m.4-.4h0m.1 .4h0m.2-.6h0m.1 0h0m.2 .4h0m.8 .2h0m.2 .1h0m.2-.8h0m.3 .8h0m.1-.2h0m.4 0h0m1 .1h0m.2-.5h0m0 .6h0m.1-.1h0m.1-.1h0m-22.3 1.1h0m.2 0h0m.9-.6h0m.7 .9h0m1.7-.7h0m.9-.2h0m.2 0h0m.6 .7h0m3.2-.2h0m1-.4h0m.6 0h0m.1-.2h0m0 .7h0m.4 0h0m.8-.4h0m.5-.1h0m.8 .4h0m.5-.1h0m1-.4h0m.1 .8h0m.1-.2h0m1.1-.5h0m.9 .5h0m.5-.5h0m.4 .8h0m.1 0h0m.6 0h0m1.2 0h0m.2-.7h0m.5 .6h0m.4-.3h0m.4-.1h0m.4 .3h0m1.6 .2h0m.1-.2h0m.3-.7h0m-24.6 1.8h0m.3-.9h0m.5 .7h0m1.3-.5h0m.5-.1h0m1.2 .1h0m.5 .3h0m.1 .1h0m.3 0h0m.2 0h0m0 0h0m.4-.2h0m1.5 .3h0m0 0h0m.2-.3h0m.8 .2h0m.3 .2h0m1.8-.6h0m.4 .7h0m.1-.4h0m.1 .1h0m.1 .1h0m.4-.2h0m.4-.3h0m.4 0h0m.5 .6h0m.2-.2h0m1 0h0m.7-.6h0m.9 .3h0m1.1 .1h0m.4-.3h0m.2 .9h0m.4-1h0m.8 1h0m.3-.7h0m.5-.2h0m3.5 0h0m.8 .2h0m.3 .1h0m.5 .4h0m.4-.3h0m-24.3 1.3h0m.8-.6h0m1.6 .7h0m.1-.4h0m1.2-.5h0m0 .9h0m0-.9h0m.1 .5h0m.1-.5h0m1.9 .1h0m.2 .1h0m.5 .5h0m1.9-.3h0m.1 .3h0m.4-.5h0m.4 .3h0m.8-.2h0m.9 .1h0m.5 .2h0m.6-.1h0m.1 .3h0m1.9-.4h0m.5-.4h0m1 .1h0m.9 .5h0m.6-.1h0m.4 .1h0m.2-.1h0m.2 .4h0m.8-.9h0m0 .3h0m.9 0h0m2.8 .1h0m3.1 .4h0m-26.6 1.2h0m.8-.1h0m1.4-.1h0m.6-.3h0m1.6-.2h0m.3 .1h0m.7 .4h0m.3-.1h0m.7 .1h0m.5 0h0m.3 .1h0m.5-.5h0m.6 .5h0m1.5-.6h0m.1 .2h0m.9 .4h0m0-.4h0m.1 .4h0m.4-.7h0m.2 .1h0m0 .5h0m.4-.2h0m.4 .1h0m1.8-.1h0m.6-.6h0m1.4 .4h0m0 .2h0m.1-.3h0m.6 .3h0m.4 .3h0m.6-.4h0m.4 .2h0m.1-.5h0m.1 .5h0m.1-.3h0m.3 .3h0m3.1-.2h0m1.8-.2h0m.2-.3h0m2.2 .2h0m-24.7 .9h0m1.6 .8h0m.1-.7h0m.2 0h0m.4 .3h0m.8-.3h0m1.2 .1h0m0 .4h0m.1-.4h0m.1 0h0m2.8-.1h0m.1 .2h0m.7 .5h0m.4 0h0m2.5-.1h0m.1-.3h0m1.8 .3h0m2.1-.3h0m.6 .2h0m.4-.2h0m1.8 .3h0m.8-.5h0m1 .6h0m1.7-.3h0m.2 .1h0m.7-.2h0m0-.4h0m1.4 .5h0m.4-.4h0m.7 .1h0m0 .7h0m-24.4 .6h0m0-.5h0m2.9 .7h0m.9-.7h0m.8 .6h0m.2-.3h0m.5 .3h0m2.5-.3h0m1.2 .5h0m1.7 0h0m1.4 0h0m.4-.2h0m.7-.5h0m.4 0h0m.4 .7h0m.3 0h0m.3-.8h0m1.1 .5h0m2.8 .1h0m.1-.6h0m1.2 .8h0m.9-.7h0m.8 .1h0m.3-.3h0m.2 .6h0m.5 .2h0m.8-.3h0m.1-.1h0m-24.4 .7h0m0 .4h0m.9 .3h0m0-.4h0m3.9 0h0m.7-.2h0m.4-.2h0m1.1 .4h0m.5-.2h0m0 0h0m.8 .5h0m.1-.3h0m.6 .5h0m1.2-.5h0m0-.3h0m1.8 .3h0m1.4 .2h0m.6-.5h0m.6 .1h0m.8 .4h0m0-.5h0m3.5 .1h0m0 0h0m7.6 .1h0m-26.9 1.5h0m3.5-.5h0m.1 .6h0m.7-.5h0m.8 .2h0m.4 0h0m0-.6h0m.1 .4h0m.8 .4h0m.1-.3h0m.7-.2h0m2.6 0h0m.2 .3h0m.9 .4h0m1.1-.3h0m.5 .2h0m1.3-.6h0m.2 .3h0m1.1-.4h0m1.8-.1h0m3.3 .1h0m1.3 .7h0m1.1 0h0m.9-.1h0m1.7 .1h0m.8-.1h0m.9-.3h0m.5 .4h0m-27.3 .7h0m.3 0h0m5-.5h0m.5 0h0m.4 .8h0m.2-.5h0m0 .1h0m4.1-.2h0m0 .4h0m.5 .2h0m.9-.9h0m1.8 .3h0m.7 .5h0m.5-.5h0m3.4 .4h0m1.2 .2h0m1.4-.6h0m.1-.1h0m1-.1h0m.8 0h0m.9 .7h0m1 .2h0m.5 0h0m.1-.5h0m.1 .5h0m.7-.7h0m.2 .1h0m-25.5 1.1h0m1 .4h0m.2-.1h0m.2-.6h0m.1-.2h0m.2 .3h0m.1 .4h0m.4 .2h0m.4-.5h0m2.4 .4h0m2.8 .1h0m.6-.6h0m.2-.3h0m1 .4h0m0-.1h0m.2-.1h0m.1-.1h0m.7 .1h0m2.6 .7h0m1.6-.3h0m.6 .2h0m.6-.7h0m.4 .8h0m2.2-.7h0m.4 .2h0m1.5 .4h0m3.9-.1h0m.6-.2h0m.8 .4h0m1.1 0h0m.6-.4h0m-27.6 1.2h0m.3-.1h0m.3-.1h0m.5 .4h0m.4-.5h0m1.1-.3h0m1 .8h0m.6 .1h0m1.8-.6h0m1.1 .2h0m.9-.1h0m.4-.3h0m.4 .1h0m.6 .4h0m.6 .1h0m.1-.3h0m1.1-.1h0m1.4 .3h0m.3-.2h0m.2 .2h0m1.7-.3h0m1.1 .1h0m1.4 .4h0m1.2-.3h0m.1-.4h0m.4 .7h0m2.4-.7h0m2.2 .5h0m.3 .2h0m.2-.7h0m.9-.1h0m0 .3h0m.6-.2h0m.2 .4h0m.5 .3h0m1.6 0h0m.2-.1h0m-28.2 .4h0m.1 .7h0m.1-.2h0m.8 .1h0m1.9 0h0m1.1-.5h0m.8 .5h0m.6 .1h0m1.1-.1h0m1.1-.3h0m.8 .5h0m.4-.1h0m.6-.7h0m.6-.1h0m.1 .6h0m1.1 .2h0m1-.4h0m.1 0h0m.1-.4h0m.3 .5h0m.1-.6h0m0 .5h0m.3 .1h0m.2-.1h0m.2 0h0m.1 0h0m.5 .1h0m2.1-.6h0m0 .2h0m1 .1h0m.1 .7h0m4.9-.6h0m.4-.1h0m1.3-.1h0m.2 .3h0m.1-.2h0m0-.2h0m2.1-.1h0m.5 .7h0m.6-.2h0m-27.7 1.5h0m2-.4h0m0-.3h0m.2 0h0m1.6-.2h0m.3 .6h0m.1-.2h0m.3 .3h0m1-.3h0m1.5 .1h0m1-.2h0m0-.2h0m.6 .8h0m.6-.5h0m0 .3h0m0-.6h0m2.7 .4h0m.1 .1h0m.5-.5h0m.3 .4h0m.4 .3h0m.7 0h0m.3-.3h0m0 0h0m0 0h0m0-.5h0m.2 .3h0m.4 .2h0m.2 0h0m1.9-.3h0m.5 .3h0m.7 .2h0m0-.7h0m.3 0h0m1.3 .6h0m.2 0h0m2.7 .1h0m.5-.3h0m0-.4h0m.2 .5h0m.4-.6h0m.2 .1h0m.5 .7h0m.7 .1h0m4-.6h0m-28.5 .9h0m2 .6h0m.9-.6h0m.9 .3h0m.8-.3h0m.2 .4h0m.3-.1h0m.1 0h0m.5-.3h0m.4-.1h0m.8 .6h0m.2 .1h0m.8 0h0m.4 .1h0m.8 0h0m.6-.3h0m1.8 .3h0m.4-.4h0m.4-.5h0m.4 .2h0m.2 .1h0m0-.2h0m.1 .3h0m.1 .1h0m.5-.3h0m.8 .6h0m.1-.5h0m.1-.3h0m1.1 0h0m.1 .6h0m0-.6h0m1.3 .2h0m.8 .3h0m1.4 .1h0m3.3-.1h0m0 .2h0m.3 .3h0m.6-.7h0m.2 .5h0m.1-.5h0m.8 .5h0m1.7 .1h0m.7-.6h0m.5-.1h0m.2-.1h0m.3 .5h0m.2-.2h0m.2 .3h0m0 0h0m-28.7 .6h0m.3 .7h0m2-.2h0m.2 .2h0m.2-.8h0m.4 .3h0m.8-.2h0m.3 .2h0m.1-.3h0m.7 .4h0m.1-.5h0m.4 .1h0m.6 .7h0m.1-.8h0m.3 .9h0m.7-.4h0m.3-.5h0m1.9 .6h0m.4-.3h0m1 .1h0m1.5-.2h0m1.3-.1h0m.3 .6h0m.1 .1h0m.2-.6h0m.7-.2h0m.5 .1h0m1.1 .2h0m.6 .4h0m1.6-.4h0m1.1 0h0m.4-.1h0m0 .3h0m0 .3h0m.4-.6h0m.2 .2h0m0 .3h0m.7 .1h0m.1-.6h0m.2 0h0m.2-.2h0m.2-.1h0m.2 .1h0m.4 .1h0m0 .4h0m1.2-.1h0m.4-.4h0m.8 .8h0m.2-.6h0m.1 .5h0m.4-.2h0m.4-.5h0m.9 .3h0m.4-.3h0m.3 .7h0m1.9-.5h0m.5 .6h0m-29.9 .4h0m1.2-.2h0m.3 0h0m1.2 .6h0m1.1-.4h0m.4 .1h0m.4 .2h0m.6 .2h0m.3-.1h0m.3-.5h0m.3 .8h0m.1-.5h0m.5-.1h0m.1 .5h0m0-.2h0m.3-.4h0m.4 0h0m.4 .5h0m.7 0h0m0-.2h0m2.2-.6h0m.2 1h0m.6-.8h0m.1 0h0m1 .5h0m.2 0h0m.6-.7h0m.4 .4h0m.4 .3h0m.1-.3h0m1 .3h0m.4-.2h0m.5-.4h0m0 .9h0m.4-.9h0m.3 .5h0m.5 0h0m1.3-.1h0m.4-.3h0m.4 .8h0m.4-.5h0m.1-.1h0m.7 .2h0m.4-.5h0m1-.1h0m0 .8h0m.6 .2h0m.1-.4h0m4.9 .4h0m.4-.8h0m1.3 0h0m.1 .1h0m.4 0h0m-29.1 .8h0m.1 .9h0m0-.8h0m.3 0h0m.1 .1h0m0 .1h0m0 .2h0m.1-.3h0m1.1 .1h0m.1 .2h0m.1 0h0m1.4-.2h0m.1-.1h0m.4-.3h0m.3 .6h0m.2-.2h0m1.4 0h0m1.4 .1h0m.1-.3h0m1.2 .1h0m.1-.1h0m.1 .5h0m2.8-.1h0m2.1 .3h0m.6-.2h0m.3-.2h0m.6 0h0m.8 0h0m.2-.2h0m.1 .5h0m.2-.3h0m.4 0h0m.1-.4h0m.2 .9h0m0-.6h0m.2 .5h0m.4 .1h0m.8-.2h0m.4-.4h0m1.9 .5h0m0-.1h0m0-.2h0m.1 .4h0m1.3-.7h0m.5 .4h0m.1-.5h0m1.5-.1h0m.3 .5h0m3.4 0h0m.7 .2h0m-29 .3h0m.3 .4h0m.9 .4h0m.3-.1h0m1-.8h0m.2 .4h0m.3 .1h0m.1-.4h0m.7 .2h0m3.5 .1h0m.1 .5h0m1-.7h0m0 .7h0m.2 0h0m0-.6h0m.6 0h0m2.1-.3h0m2.2 1h0m2.3-.8h0m.3 .8h0m.1-.7h0m.1 .6h0m0-.3h0m.3 .2h0m.6-.1h0m.1 .3h0m.4-.9h0m.1 .6h0m0 0h0m.3-.5h0m.1-.1h0m.5-.1h0m.1 0h0m0 0h0m0 .9h0m.2-.2h0m.5-.7h0m.3 .5h0m.1 0h0m.8 .5h0m.1-.4h0m.5 0h0m.1-.3h0m.1 .6h0m.4-.5h0m.2-.2h0m.4 .2h0m.1 .2h0m.4-.6h0m.7 .7h0m.6-.2h0m.3-.3h0m.1 .3h0m1-.2h0m.7 0h0m.9-.2h0m-27.6 1.6h0m.4-.1h0m1.3-.5h0m.5 .1h0m1.4 .2h0m2 .2h0m.6 .4h0m.2-.5h0m.1 0h0m.1 .4h0m.2-.5h0m1.3-.4h0m.7 .1h0m1 .9h0m1.6-.1h0m.6-.6h0m0 .1h0m.4 .2h0m.4-.2h0m2-.3h0m.4 0h0m.6 .3h0m.2 .4h0m.2-.2h0m.8 .3h0m.2-.7h0m.3 .3h0m.1 .4h0m0 0h0m0-.3h0m.2-.6h0m.2 .9h0m.6-.2h0m0-.1h0m.3 .1h0m.5-.2h0m.2 .4h0m.9-.5h0m.3-.4h0m.1 1h0m.3-.2h0m.4 .1h0m.5-.3h0m.2 0h0m3.1 .2h0m.9-.3h0m.8-.3h0m3.9 .1h0m1.6 .3h0m-32.6 .5h0m.2 .5h0m2.1-.3h0m.1 .1h0m.5 .1h0m.3 .2h0m.1 0h0m.1-.4h0m1.4 .3h0m1.7-.1h0m.3 .2h0m0 0h0m.2-.3h0m1.6 .2h0m.5-.3h0m1 0h0m1.2-.3h0m.5 1h0m.2-.4h0m.7-.3h0m1.8 .2h0m.6-.2h0m0 .2h0m.1-.4h0m.2-.1h0m.3 .5h0m.3 .2h0m.1-.5h0m.2 .2h0m.6 .5h0m.5-.8h0m.1 .2h0m.4 .4h0m.4 .2h0m.1-.8h0m.2 .3h0m.3-.2h0m0 .4h0m.6-.5h0m.2 .6h0m.3-.5h0m.4-.1h0m.2 .7h0m.3-.2h0m.1 .3h0m.3-.7h0m.7 .7h0m1.4-.5h0m1.6 .5h0m2.5 0h0m0-.1h0m.9 .2h0m4.6-.6h0m-32.1 1.2h0m.4-.4h0m1.8 .8h0m.3-.9h0m.2 .7h0m1.4 0h0m1-.3h0m1 .3h0m.1-.7h0m.2 .3h0m.6 .6h0m.3-.4h0m.1 .3h0m.2-.5h0m1.6 0h0m.3-.3h0m.5 .8h0m1.6-.5h0m.2-.3h0m.4 .4h0m.4 .5h0m.1 0h0m.2-.1h0m.2-.4h0m0 .1h0m0-.6h0m.3 .3h0m.5-.2h0m.4 .3h0m.3 .4h0m0-.3h0m.2-.4h0m.6 .9h0m.1-.2h0m.1-.3h0m.3 .4h0m0-.5h0m.3 .1h0m.1 .3h0m.7 0h0m.1-.6h0m.6 .2h0m.7 .3h0m.7-.5h0m.1-.1h0m.5 .5h0m.5 .2h0m.7-.2h0m.6 0h0m.2-.3h0m1.4 .4h0m.4-.3h0m1.3 .5h0m1.7-.6h0m3.3 .1h0m1-.2h0m.5 .1h0m.1 0h0m-30.3 .9h0m.2 .7h0m.1-.3h0m.1-.2h0m.3 .4h0m1.2 .2h0m.3-.3h0m.5-.7h0m.2 .4h0m.4 .3h0m.5-.4h0m.3-.3h0m1 .9h0m.2 0h0m.3-.2h0m1.2-.5h0m1.1 .1h0m.5 .7h0m0-.2h0m1-.2h0m.9-.5h0m1.4 .1h0m1-.2h0m.1 .1h0m.1 .1h0m.1 0h0m.4-.1h0m.1-.1h0m.4 .6h0m.1-.2h0m0-.4h0m.4 .2h0m.4 .7h0m.4-.1h0m1.4-.7h0m.6 .9h0m.2-.8h0m.1 .2h0m.4-.1h0m2.2 .5h0m.3 .2h0m.7-1h0m.1 .7h0m2.2 .1h0m0-.6h0m.7 .2h0m1.1 .4h0m.2-.1h0m.2-.1h0m.8-.5h0m.2 .3h0m1.7-.2h0m1.7 .7h0m-29.5 .5h0m.9 .3h0m.5 0h0m.5-.5h0m1.4 .7h0m.5-.7h0m.1 .7h0m1.3-.3h0m1.3 .3h0m.3-.2h0m.3 .1h0m.2-.7h0m.7 .3h0m.2 .1h0m1.3-.2h0m.5 .4h0m.6 .3h0m.7-.6h0m.2-.1h0m.2 .5h0m.7-.8h0m.8 .9h0m.2-.1h0m1.7-.1h0m.1-.3h0m.8-.4h0m.8 0h0m2.4 .8h0m.5-.3h0m.1 0h0m.9 .4h0m.1 .1h0m1-.1h0m1.5-.3h0m.2 .2h0m.9 .1h0m2.9 0h0m.1-.1h0m.9 .2h0m.7-.7h0m.5 .2h0m.5 .4h0m1.8-.1h0m.4-.1h0m-33.1 .5h0m1.2-.1h0m.2 .4h0m.1-.4h0m.9 .4h0m1.1 .5h0m1.4-.5h0m.6 .2h0m.2-.5h0m.1 .2h0m.2 0h0m.5 0h0m.4 .4h0m.2-.3h0m.7-.2h0m2-.1h0m.2 0h0m.1 .7h0m.2-.7h0m.5 .3h0m.2 .1h0m.7-.6h0m2.5 .2h0m3 0h0m0 .3h0m0 .3h0m.6-.2h0m1.7 0h0m1.1-.3h0m.1 .5h0m0-.2h0m.3-.3h0m2.3 .5h0m1.1-.8h0m1.2 .2h0m1.4 .7h0m.5-.3h0m1.4-.4h0m.9-.1h0m.2 .8h0m1.7-.5h0m.1-.3h0m.1 .3h0m.3 0h0m.5 0h0m0-.2h0m.3 .5h0m-31 .5h0m0-.1h0m1 .1h0m.4-.1h0m.8 .7h0m.7-.7h0m1 .8h0m.5-.2h0m1.7 .1h0m2.6-.6h0m1.7 .8h0m.7-.9h0m.2 0h0m.6 .2h0m.2 .4h0m.2-.2h0m2 .3h0m.7-.2h0m0-.2h0m.4-.1h0m.4 .6h0m1-.7h0m1 .6h0m.6-.8h0m.1 .4h0m.2 .6h0m1.9-.2h0m.1-.3h0m.1 0h0m.3-.5h0m.6 .2h0m.2 .2h0m0-.3h0m0 .5h0m.6-.5h0m0 .2h0m.9 .4h0m0-.5h0m.8 .7h0m.2-.7h0m.5-.1h0m.9 .5h0m.5-.1h0m1.1-.5h0m.4 .6h0m0-.3h0m.2-.2h0m.2 .8h0m1.9-.1h0m.1-.3h0m.9-.1h0m-29.1 .9h0m.2 .6h0m1.1-.7h0m.2 .4h0m.4-.1h0m.1 .3h0m.1 0h0m0 0h0m.4-.5h0m.1 .5h0m.3-.7h0m.1 0h0m.9 .4h0m.2 .3h0m.5-.8h0m1.8 .3h0m.8 .3h0m.6 .1h0m1.8-.7h0m1.1 .8h0m.2-.7h0m1 .8h0m.4-.9h0m.2 .4h0m.1 0h0m.4 0h0m.2-.3h0m.3 .5h0m.1 .3h0m.2-.7h0m1.4 .5h0m.4-.5h0m.2 .7h0m0-.3h0m.1-.1h0m.2 .2h0m.1 .1h0m0-.6h0m.6 0h0m.5 .4h0m2.9-.5h0m.5 .2h0m2.2 .5h0m2.1-.4h0m1.1 .5h0m.4-.7h0m.1 .5h0m.1-.1h0m1.6 .3h0m.4-.3h0m.3 .3h0m-30.7 .4h0m.8 .4h0m.7 .1h0m.1 .1h0m1-.5h0m.2 .4h0m1.9-.5h0m.8 .5h0m.8-.1h0m.6 .1h0m.6-.5h0m.1 .2h0m1 0h0m.1-.1h0m.4 .2h0m0-.3h0m1.1 .3h0m.2 .2h0m.6-.5h0m1.6 .3h0m.2 .3h0m.2-.2h0m.1-.6h0m.1 .2h0m1.3-.1h0m.2 .6h0m.5-.7h0m.4 .3h0m.3 .5h0m.4-.6h0m1 .2h0m.5 .3h0m1.3 .2h0m.1-.2h0m.1 .1h0m.6-.3h0m0-.5h0m2 .9h0m.9-.6h0m.2-.3h0m.3 0h0m2 .4h0m.1 .1h0m.3 .1h0m0-.6h0m.8 .7h0m.1-.2h0m1.9 0h0m.7-.3h0m1.3 .2h0m.5 .2h0m-30.2 .9h0m1.5 .2h0m.4-.1h0m.4-.3h0m.1 0h0m.2 .5h0m0-.7h0m.2 .5h0m.3-.1h0m.3 .3h0m.3-.9h0m.1 .4h0m0-.2h0m.6 .5h0m.2 .1h0m1.7 .1h0m.2-.7h0m.5 .1h0m.1 .5h0m0-.8h0m.6 .1h0m1.7 .2h0m.5 .7h0m.3-.4h0m.8-.5h0m.7 .3h0m.4-.1h0m1.2 .7h0m.2-.2h0m.4-.6h0m.9-.1h0m.9 0h0m1.2 .9h0m.2-.6h0m.1 .1h0m1.5-.2h0m2.3 .5h0m.6-.1h0m.3 .1h0m.5-.4h0m.5 .4h0m1.2-.7h0m1.8 .3h0m.3 .1h0m1.6 .2h0m.3 .3h0m.7 0h0m0-.5h0m.9-.1h0m.4 .4h0m.4-.6h0m.4 0h0m.7 .5h0m-31.2 .5h0m2.3 .3h0m0 .3h0m.9 .2h0m.4-.2h0m.1-.3h0m.1 0h0m.2 .1h0m.8-.2h0m.8 .2h0m1.2 .3h0m.4-.3h0m.5 .4h0m.3-1h0m0 .7h0m.2 .1h0m.1-.6h0m.5 .1h0m.6 .4h0m.3-.6h0m.3 .2h0m.9 .1h0m0 .3h0m.2-.5h0m.4 0h0m1 .3h0m0 .5h0m.4-.9h0m.3 .8h0m2-.8h0m2.4 .7h0m.2-.5h0m1.1 .4h0m.3-.5h0m.4 .7h0m0-.2h0m.7-.3h0m1.1 .2h0m.1-.1h0m1.6 .2h0m.9 .3h0m.5-.7h0m.9 .5h0m1-.8h0m.6 0h0m.3 .7h0m.4-.4h0m1.2 .5h0m.2 0h0m.2-.8h0m.4 .3h0m.4-.3h0m.2 0h0m1.3 .8h0m-30.4 1h0m.5-.2h0m1.2 .2h0m0-.5h0m1.3 .1h0m1.7 .6h0m1.1-.5h0m.4-.4h0m.2 .5h0m.1-.2h0m0 .6h0m.2-.9h0m.1 .7h0m.9 0h0m.9-.5h0m1.3-.1h0m1.3 .6h0m.5-.5h0m.6 .4h0m0-.5h0m2.3 .1h0m1.1 .1h0m1.2 .5h0m1.2-.2h0m.1 0h0m1.5-.4h0m.7-.2h0m1 .4h0m.9-.4h0m1.2-.1h0m.6 .5h0m.7-.2h0m.9 .4h0m4.7 .1h0m0-.2h0m-28.2 .6h0m.3 .1h0m.1 .7h0m.3-.6h0m.1 .6h0m0-.5h0m.1-.4h0m.7 .4h0m2.5-.1h0m.3 .5h0m1.1-.1h0m.6 .2h0m.2-.7h0m.4-.2h0m.5 .6h0m.1 .1h0m0-.7h0m1.1 .8h0m.8-.7h0m.3-.1h0m0 .5h0m.1 .1h0m.7-.2h0m0 .3h0m.4-.3h0m.4 .5h0m3.5-.4h0m.2 .3h0m.4-.1h0m.1-.6h0m1.5 .5h0m.3-.4h0m1 .6h0m2-.4h0m.6-.3h0m.3 0h0m.1-.2h0m.1 .5h0m.5 .4h0m.1-.6h0m.2 .1h0m.2-.2h0m0 .3h0m3.5 0h0m.1 .3h0m1.2-.5h0m.4 .5h0m-27.5 .5h0m2 .4h0m.1-.1h0m.9-.5h0m.4 .9h0m.1-.3h0m.5 .3h0m.1-.8h0m.1 .3h0m.5 .1h0m.9-.1h0m.6 0h0m.9 .4h0m.1 0h0m1.1 0h0m.6-.3h0m.4 .1h0m.5-.3h0m2.1 .3h0m2.6 .1h0m.4-.4h0m.3 .4h0m.3 0h0m1-.8h0m.1 .4h0m0-.1h0m.6 .3h0m2.8 .2h0m.5-.4h0m.1 0h0m2.5 .1h0m0 .5h0m1.1-.9h0m1 .4h0m1.6 .5h0m.2-.7h0m.4 .5h0m-26.3 .7h0m.5-.4h0m1.4 .5h0m3.2-.3h0m.2 .6h0m0-.5h0m.2-.2h0m.4-.2h0m0 .8h0m.5 .1h0m.9-.5h0m.1-.2h0m0 0h0m.6 .5h0m1 .2h0m.4-.3h0m1-.2h0m.6 0h0m.2-.1h0m.1-.2h0m2.2 .9h0m.4-.4h0m.1-.1h0m.2-.2h0m.2 .2h0m.7-.5h0m.5 .6h0m.7 .3h0m.4-.2h0m1.1-.2h0m.3-.2h0m1-.2h0m.2 .2h0m.1 .2h0m2.2 .1h0m.3 0h0m.3-.2h0m.3 .4h0m.2 .1h0m.2-.6h0m1.1 .4h0m.4 .2h0m1.3-.7h0m.6 .3h0m-23.4 .7h0m.3 .5h0m1.5-.2h0m.3 .4h0m0-.3h0m0-.3h0m.1 .1h0m.5 .4h0m.1-.5h0m0-.1h0m.1 .2h0m.3 .3h0m.7-.4h0m.3 .3h0m.7 0h0m0 .4h0m.1-.7h0m.8 .5h0m.6 .1h0m1.7-.6h0m.2 .4h0m.2 .2h0m.4-.3h0m.5 .4h0m1.9-.4h0m.4-.2h0m.4 .3h0m.6 0h0m.7 .2h0m.1-.6h0m.3-.1h0m0 .3h0m.8-.1h0m.4-.3h0m.6 0h0m.2 .7h0m.4-.2h0m.1 0h0m.2 .1h0m.7-.2h0m1 .1h0m.2-.1h0m.4-.4h0m.6 .1h0m1.2 .3h0m.2 .4h0m.1-.8h0m.3 .3h0m.3-.2h0m.7 .5h0m.1-.1h0m.5-.2h0m.1 .5h0m2.1 0h0m.1-.1h0m-24.7 .8h0m.4-.2h0m.9 .5h0m.6-.7h0m.2 .3h0m.2 .4h0m.1-.3h0m.1 .1h0m.3-.2h0m.2-.2h0m.4 .2h0m.3-.5h0m.6 .7h0m.6-.3h0m.7-.3h0m.5 .8h0m.9-.3h0m.3 .2h0m.1-.3h0m1.6-.3h0m1.1-.1h0m.6 .3h0m3-.4h0m.9 .9h0m.8-.9h0m.3 .2h0m.2 0h0m.7 .2h0m.6 .5h0m.1 0h0m.1-.4h0m.1 .1h0m.1 .3h0m.9-.6h0m1-.3h0m.4 .2h0m0 .4h0m.7-.4h0m1.1 .2h0m.5 .2h0m.6-.1h0m.6 .3h0m.2 0h0m.2 .2h0m-22.5 .3h0m.2 0h0m.1 .3h0m0-.3h0m2.4 0h0m.9 .2h0m.6-.4h0m.6 .5h0m.4 0h0m2.8-.3h0m0 .6h0m2-.5h0m.5 .1h0m.1-.5h0m.1 .7h0m.4 .1h0m.3 .1h0m.4-.6h0m.2-.1h0m.8 .1h0m2.8-.3h0m1.3 .4h0m.4 .3h0m.9-.4h0m.1 .6h0m.4-.1h0m0-.1h0m.2-.7h0m.5 .9h0m.7-.3h0m0-.5h0m.2 .9h0m1.7-.8h0m.2 .6h0m.4 .2h0m.1-.4h0m.6-.2h0m.3-.2h0m-19.2 1h0m1.8 .3h0m.9-.1h0m.8-.1h0m.5 .6h0m1.1-.4h0m0-.5h0m.3 .7h0m1.3-.2h0m.2-.3h0m.6 .1h0m1.5 .1h0m1.4 0h0m1.1-.2h0m.7 .5h0m.3-.3h0m.1-.2h0m.2 .4h0m.9-.2h0m.1 .2h0m0 .3h0m.2-.8h0m.2 .4h0m.3 0h0m.3 .1h0m.1-.5h0m.2 .6h0m1-.4h0m.6 .1h0m.5-.2h0m.1 .8h0m.1-.2h0m0-.4h0m0-.3h0m.2 .6h0m1.1-.5h0m.1 .6h0m.2-.1h0m.1-.2h0m.6-.1h0m-12.7 .8h0m.1-.1h0m1 .1h0m.9 .1h0m.6-.2h0m1.6 0h0m.9 .8h0m.9-.3h0m.4-.2h0m.2 .5h0m1.5-.2h0m.3-.1h0m.1 0h0m.1-.2h0m.5-.1h0m1.1 .1h0m.2-.1h0m.5 0h0m.4 .3h0m0-.2h0m.3-.3h0m.6 .5h0m0 .2h0m.2-.6h0m.7 .6h0m2 0h0m-8.6 .2h0m0 .8h0m.1-.7h0m0-.1h0m.5 .5h0m.4-.3h0m.8 .3h0m.7 .4h0m.4-.6h0m1 .5h0m.4-.7h0m.8-.1h0m1.1 .2h0m.2 .8h0m.5-.1h0m.1-.1h0m.8 .1h0m0-.8h0m.4 .4h0m-5.2 1.1h0m.8-.3h0m0 0h0m.5 .6h0m.2-.9h0m.7 .5h0m1.7-.2h0m.8 .6h0m.6-.5h0m1 .1h0m.6-.5h0m1 1h0m.1-.1h0m-8.9 .5h0m1.3-.1h0m.3 .2h0m.8-.3h0m.2 .7h0m.2-.6h0m.5 .3h0m.9-.5h0m2.8 .8h0m.5-.4h0m1.4 .5h0m-7.3 .4h0m.1 .1h0m.7-.4h0m1.5 .8h0m.3-.8h0m.8 .3h0m.6 .4h0m.3-.6h0m0 0h0m.4 .2h0m.4-.3h0m.1 .6h0m.4 .3h0m0-.3h0m.6 0h0m.4-.5h0m.7-.2h0m.3 0h0m.5 .3h0m-7.1 .7h0m.6 .4h0m.7 0h0m1.3-.2h0m.7 .7h0m.2-.3h0m.2 .3h0m1.6-.8h0m.4 .3h0m.6 .1h0m.1 .1h0m.9-.5h0m-3.8 1h0m2.4 0h0" stroke="#f1665f" stroke-width="1.10" stroke-linecap="round" fill="none" opacity="0.9"/><path d="M49.3 314.6h0m28.3-.4h0m-2.7 1.3h0m-27.1 1.4h0m12.8 0h0m9.9 0h0m4.4-.3h0m2.3-.2h0m-2.8 1h0m-24.9 .6h0m12.7 .7h0m7.2 1.1h0m.2 1.7h0m.9 2.3h0m-2.1 1.5h0m-21.7 3.8h0m4.5 .4h0m12.8-.1h0m10.2 0h0m-2.2 1.3h0m4.1-.5h0m-10.7 1.4h0m-12 1.6h0m11 .1h0m13.5-.2h0m-16.2 1.5h0m4.6-.3h0m-12.6 1.5h0m.8 .1h0m10.5-.1h0" stroke="#2cb274" stroke-width="1.00" stroke-linecap="round" fill="none" opacity="0.9"/><path d="M68.8 313.9h0m2.2-.2h0m.2-.5h0m-2.8 1.3h0m.4 .3h0m.4-.5h0m.3 .4h0m.2 0h0m.2-.2h0m.4-.2h0m.5 .2h0m1.5 .4h0m-3.2 .6h0m.6 0h0m1 .4h0m-1 .4h0m.1 .5h0m.2 .1h0m.6 0h0m1.1-.4h0m-2.3 1h0m.1-.3h0m0 .7h0m.7-.3h0m0-.6h0m.1 .6h0m1.2 0h0m-1 .7h0m1.3 0h0m.4-.2h0m-.4 2.2h0m-.7 2.4h0m.4 .1h0m1-.1h0m.6 .2h0m-2 .3h0m.4 .7h0m.8-.4h0m.6 .4h0m0-.1h0m.3-.5h0m.1 .5h0m0-.1h0m7.9 0h0m.4 .2h0m0-.6h0m2.9 .1h0m-12.7 1h0m.9-.2h0m.5 0h0m.1-.2h0m0 .3h0m.1 .1h0m.3 .1h0m6.1-.4h0m.4 .6h0m.3-.1h0m1.2-.1h0m2.3-.3h0m1.9 .6h0m.5-.8h0m.2 .9h0m-14.1 .1h0m0 .2h0m0 .6h0m.6 0h0m.2 0h0m.2-.4h0m.2 0h0m.5 .3h0m.2-.1h0m4.1-.1h0m0 .2h0m.1-.4h0m0-.3h0m2.7 .5h0m0 .3h0m1-.6h0m.7 .5h0m.1-.1h0m.1-.6h0m.2 .7h0m.1 .3h0m.6-.3h0m.5-.2h0m0-.4h0m-10.7 1.4h0m.1-.1h0m.9 .4h0m3.3-.5h0m1.1 .2h0m.2 .2h0m1.4-.2h0m.3-.2h0m.1 0h0m0 .5h0m.3-.1h0m.1-.5h0m.7 .3h0m.3-.4h0m.2 .8h0m1.1-.2h0m0 .1h0m.6-.4h0m.1 .6h0m1.7-.8h0m-13.5 .9h0m.3 0h0m.4 .8h0m.1 0h0m.3-.3h0m.5-.3h0m.1 0h0m.5 .6h0m1.6-.7h0m.2 .4h0m2.4 .3h0m1.7-.3h0m.1-.6h0m.7 .5h0m.2 .3h0m.2-.7h0m.1 .8h0m.2-.8h0m.7 .2h0m.5 .5h0m.1 .2h0m.1 0h0m.2-.2h0m.7-.5h0m-12.5 1h0m.5 .6h0m.7-.9h0m1.3 .3h0m2.7-.3h0m.3 .8h0m.1-.8h0m.2 0h0m.1 .3h0m.3 0h0m.2 .4h0m.1-.1h0m.3-.5h0m0 .5h0m.7 .1h0m0-.6h0m.2 0h0m.4 .3h0m.2 0h0m.2 .1h0m.1 0h0m.3 0h0m.3 .3h0m.5-.4h0m0-.3h0m.1 .1h0m.1-.1h0m.7 0h0m.1 .6h0m1.3-.5h0m.1 .4h0m.2-.2h0m.1 .2h0m.4-.2h0m.1 0h0m.1-.1h0m.1-.2h0m.4 .9h0m-13.5 .9h0m0-.9h0m1 .6h0m.8-.4h0m.1 .2h0m1.9 .2h0m.1 0h0m2.2 .2h0m.7-.7h0m.2 .3h0m1.5 .4h0m0-.4h0m.3 .4h0m.6-.7h0m.4 0h0m1 .4h0m.4 0h0m.5 .4h0m0-.6h0m.5 .1h0m.2 .3h0m-12.2 1h0m.4-.3h0m.1 .4h0m.7 .1h0m.5-.9h0m.2 .5h0m.4-.1h0m1.2 0h0m0 .1h0m.6 .4h0m.3-.6h0m.1 .2h0m3.1 .3h0m.7-.8h0m.4 .3h0m3.9 .1h0m.2 .3h0m.5-.1h0m-12.5 1.3h0m.3-.6h0m.8-.1h0m.8 .7h0m2.5-.4h0m.8-.2h0m1.8 0h0m3.3-.3h0m.1 .6h0m.5 0h0m.4-.6h0m.1 .5h0m.5-.3h0m.4 .1h0m-11.8 .8h0m1.2 .4h0m.2 0h0m.1 .1h0m3.3 .3h0m.3-.5h0m1 .5h0m.4-.8h0m1.3 .4h0m1.2-.5h0m.4 .7h0m.4-.7h0m.6 .2h0m.1 .8h0m.3-1h0m.6 .7h0m-7.1 1.2h0m3.3-.8h0m1.2 .8h0m.7-.3h0m.3 .3h0m.4-.2h0m.3-.5h0m-6.8 .8h0m.7 .7h0m2.9 0h0m.4-.2h0m.8-.1h0m-1.2 .8h0" stroke="#f1665f" stroke-width="1.10" stroke-linecap="round" fill="none" opacity="0.9"/><path d="M69.7 275.8h0m1.5-.2h0m3.8 .1h0m.2 0h0m2.2-.5h0m.2 0h0m.3 .1h0m-7.2 1h0m1.6 .2h0m.9-.5h0m.7 .7h0m.2-.6h0m.5 .6h0m1.1-.3h0m.7-.3h0m0 .1h0m0 .2h0m.5 .2h0m.6-.2h0m.2-.1h0m0 .6h0m.4-.5h0m.6 .5h0m-10.2 .3h0m1.3 .2h0m.8 .5h0m.2-.2h0m2-.7h0m.3 .4h0m.2-.2h0m1.1 .8h0m.2-.3h0m.4 .3h0m.1 0h0m.4 0h0m.6-.7h0m.3 0h0m.3 0h0m.1 .2h0m.1-.2h0m.8 .1h0m.4-.4h0m.2 .2h0m2.7 .6h0m-15.8 .9h0m.6-.3h0m.1 0h0m0 .3h0m.4-.5h0m.2 .1h0m0 .6h0m.5-.4h0m.9 .1h0m.1 0h0m.8-.1h0m.1-.3h0m.2 .6h0m.2 .1h0m1.2-.7h0m2.4 .5h0m.4 .2h0m.8-.2h0m.1 .2h0m.6-.5h0m.5-.1h0m.3-.2h0m0 .2h0m.1 .1h0m.3 .5h0m1.4-.2h0m2.8-.6h0m-15.9 1.7h0m.2-.6h0m.1 .4h0m.3 .2h0m.7-.1h0m.2-.1h0m.6-.5h0m1.3 .4h0m.6-.2h0m.5-.1h0m.2 .7h0m4.5-.4h0m.5 0h0m.1-.3h0m.3 .5h0m.1-.1h0m0-.3h0m1.1 .1h0m0-.3h0m.2 .3h0m.5-.2h0m.1 .6h0m.6 0h0m.4-.7h0m-14.5 1.7h0m1-.1h0m.2 .2h0m.3-.1h0m0 .1h0m.2-.7h0m.4 0h0m.2 .8h0m.3-.6h0m.3 .1h0m.2 .2h0m1.3-.3h0m5.2 .4h0m.7-.4h0m.2 0h0m1.2 0h0m.1-.3h0m.8 .5h0m.6-.2h0m0 0h0m.8-.3h0m.4 .6h0m1-.5h0m-16.3 1.8h0m.3 0h0m.1-.3h0m1.6-.2h0m.4-.5h0m.4 .5h0m.3-.2h0m.2 .3h0m.3-.5h0m.9 .6h0m.4-.2h0m1.1 .3h0m.5-.7h0m.8 0h0m.8 .9h0m0-.5h0m.3-.3h0m2 .3h0m.5 0h0m.4 .4h0m.3-.8h0m2.3 0h0m.2 .3h0m.4 .3h0m2.1-.5h0m3.2 .3h0m-20.1 .9h0m.1 .2h0m1.2-.4h0m.2 .7h0m1.2-.4h0m.8-.4h0m0 0h0m.8 0h0m1.8 .4h0m.4 0h0m.7 .1h0m.9 0h0m.2-.5h0m0 .9h0m0-.2h0m.6-.1h0m.3 .3h0m.9-.2h0m.3-.5h0m.2 .7h0m.2-.4h0m.4-.4h0m.7 .5h0m.6-.3h0m.4 .4h0m0-.4h0m.1-.2h0m0 .4h0m.4-.5h0m0 .7h0m.8-.4h0m3.6-.2h0m0 .4h0m-17.5 1.1h0m.1 0h0m2.5-.5h0m1.5 0h0m.1 .6h0m1.2-.1h0m.2-.2h0m.3 0h0m.1 0h0m.6-.2h0m.9-.2h0m.3 .1h0m.1 .7h0m.3-.6h0m.1 .6h0m.6-.8h0m.5 .8h0m.6 .1h0m0-.7h0m.4 .6h0m.4-.5h0m.3 .2h0m.8-.2h0m0-.3h0m.6 .2h0m0-.1h0m4.1 .8h0m0-.2h0m1.6-.7h0m-19.8 1h0m.4 .6h0m1.8-.6h0m.1 .4h0m.3 0h0m.3 .1h0m1.8 .2h0m2.6 .2h0m.5-.1h0m.1-.3h0m.7-.4h0m.3 .3h0m.5 .4h0m.2-.4h0m.1-.1h0m.3-.2h0m.2 .3h0m.6 .3h0m.1-.5h0m.4 .5h0m.2-.1h0m.3-.2h0m.4-.2h0m.1-.1h0m.2-.1h0m.4 0h0m.2 .2h0m1.5 .3h0m.6-.6h0m.6 0h0m.7 .2h0m2.3 .2h0m-19.8 1.5h0m.1-.4h0m.1 0h0m.5-.2h0m.1 .5h0m0-.8h0m1 .2h0m0 .3h0m.4 .4h0m.6-.2h0m.1 .1h0m0-.7h0m.3 .5h0m1.2 .1h0m2.5-.3h0m.1 .6h0m.2-.6h0m1.8 .3h0m.3 .1h0m.3-.6h0m.2 0h0m.3 .3h0m1-.3h0m.5 0h0m.3-.2h0m1.9 .1h0m.2 0h0m.6 0h0m.2 .8h0m.2-.8h0m.5 .8h0m.4 .1h0m.5-.6h0m1.5 .4h0m.5-.6h0m2.7 .6h0m-21.4 1.2h0m.7-.1h0m.4-.4h0m.4 .2h0m.5 0h0m.9 .1h0m.5-.3h0m.4 .1h0m.5-.4h0m1.8 .7h0m.2-.9h0m1.7 .1h0m.2 .2h0m.1 .2h0m.8 .4h0m.1 0h0m.6-.2h0m.3 .2h0m.5-.4h0m.4 .4h0m.1 .1h0m0-.7h0m.2 .3h0m.6-.3h0m.1-.3h0m.8 .4h0m.6-.1h0m.6 .6h0m.5-.6h0m.4-.1h0m2.2-.1h0m1.7 .8h0m.1-.5h0m.8 .2h0m.5-.2h0m0 .2h0m1.8 .1h0m-22.4 1.3h0m.8-.6h0m.4 .6h0m.6-.6h0m.7 .2h0m.2-.5h0m.1 .2h0m.7 .5h0m1.5-.7h0m1.8 .5h0m.2 .4h0m.2-.9h0m.8 0h0m.7 .5h0m.7-.5h0m.3 .4h0m1-.4h0m1.7 .6h0m.1-.4h0m.2-.2h0m.1 .8h0m4-.8h0m0-.1h0m.3 .3h0m.1 0h0m.9 .6h0m.5-.2h0m.7 .1h0m1.6-.4h0m1.7 .4h0m-22.5 .4h0m.9 .2h0m1.4 .5h0m1.7-.5h0m.7-.1h0m1.2 .7h0m.9-.7h0m1.9 0h0m0 .5h0m1.3-.4h0m.2 .3h0m0-.3h0m.2-.1h0m.4-.2h0m.7 .9h0m.3-.2h0m.8-.8h0m.8 .4h0m.5 .3h0m.8 .2h0m.3 0h0m.4-.3h0m.8 .4h0m.2-.1h0m3.3 0h0m2.7-.1h0m.3-.5h0m.1 .5h0m.1 .1h0m.1-.6h0m-23.4 1.5h0m.2-.8h0m.8 1h0m0-.7h0m.2 0h0m.1 .1h0m.1 .2h0m1.3 .2h0m1.8-.8h0m.2 .1h0m.2 .5h0m0 .1h0m.4 0h0m.6-.2h0m.1-.4h0m.2 .5h0m.3 .2h0m.3-.2h0m.7 .1h0m.6 0h0m0-.2h0m.1-.5h0m.4 .1h0m.1 0h0m.1 .3h0m.1 .1h0m.4 0h0m.9 .1h0m1 .2h0m.7 0h0m0-.7h0m.4 0h0m.9-.1h0m.2 .6h0m.3 0h0m.3-.4h0m0 .1h0m.1-.3h0m.7 .1h0m.4 .6h0m.4-.6h0m.3 .4h0m.1 .1h0m5.6-.3h0m.9 .5h0m.2 .1h0m1.2-.6h0m-25.8 1.1h0m2 .4h0m.1 .1h0m.2 0h0m.9-.7h0m.6 .1h0m.1 .2h0m1.2-.3h0m.2 .1h0m.6 .6h0m.1-.3h0m0-.3h0m.5 .2h0m.2 .4h0m1.6-.3h0m.1 .2h0m1.2-.4h0m.1-.3h0m0 .6h0m0-.6h0m.1 .1h0m.5 0h0m.2-.2h0m.2 .1h0m.4 .1h0m.2-.2h0m.7 .4h0m.7 .4h0m0-.2h0m.8 .3h0m.7-.7h0m.5 .7h0m1.6-.8h0m.2 .6h0m2.1-.7h0m.5 .5h0m.1-.5h0m.8 .7h0m1 0h0m.2 .1h0m.5 0h0m3.7-.7h0m-25.8 1.9h0m1.7-.9h0m.7 .6h0m.5 .1h0m3.5-.2h0m.5 .3h0m.1-.7h0m.2 .7h0m.3-.3h0m.6-.3h0m2.1 .5h0m.7-.6h0m.1 .1h0m.2-.1h0m.5 .4h0m.1-.2h0m.1 0h0m1.2 .3h0m.1-.1h0m.3 .2h0m0-.1h0m.5-.5h0m1 .5h0m.1-.5h0m.3 .6h0m.5-.4h0m.8-.3h0m2 0h0m2 .6h0m1.9-.4h0m3.4-.1h0m0-.1h0m.2 0h0m0 .4h0m.6-.1h0m1.9 .6h0m-25.8 .1h0m1 .1h0m1 .6h0m.3 .2h0m1.8-.8h0m.3 .6h0m.6-.3h0m.4 .3h0m.6-.1h0m.3 0h0m.2-.1h0m.7 .3h0m.4-.6h0m1.2 0h0m1.1 .1h0m.1 .3h0m.6 .3h0m.2-.8h0m0 0h0m.7 0h0m0 .1h0m.1 .4h0m.9 0h0m.5-.5h0m.1 .5h0m1.4 .1h0m.1-.2h0m.5-.2h0m.9 .1h0m.7-.3h0m2.8 .5h0m.3-.6h0m.5 .7h0m.6 0h0m1-.3h0m.3-.2h0m.8 .6h0m.4-.2h0m.3-.5h0m.3-.1h0m.1 .2h0m0 .6h0m.1-.9h0m.1 .3h0m.3 .2h0m1 .1h0m.9 .4h0m0-.1h0m-28.2 .3h0m1.3 .7h0m.9-.8h0m.4 .5h0m.7-.2h0m.1 .6h0m.3-1h0m0 .7h0m.5 .1h0m.8-.5h0m.1 .1h0m.2-.3h0m1.1 .4h0m.5-.3h0m.2 .6h0m0-.3h0m.8-.3h0m.3 .2h0m.2-.1h0m.1 .6h0m.4-.3h0m.8 .3h0m.1-.4h0m0 0h0m.5 .4h0m.2-.9h0m.4 .9h0m1.3-.2h0m.4-.5h0m.7 .5h0m.5 0h0m1-.6h0m2.1 .7h0m.1-.7h0m1-.1h0m.5 .2h0m.1 .2h0m.6 .3h0m.1 .3h0m1.3-.3h0m1.6 .3h0m.1-.2h0m.3-.2h0m0-.3h0m.2-.1h0m.3 .1h0m.3 .3h0m1.3 0h0m-27.6 1h0m1.1-.1h0m.3 .4h0m1.5-.3h0m.5-.4h0m.1 .5h0m.1 0h0m.5-.6h0m0 .7h0m.9-.1h0m0 .1h0m.4 .2h0m1-.2h0m0-.1h0m1.3-.1h0m.3-.3h0m.2-.1h0m.6 .1h0m.5 .5h0m1-.2h0m.2 .2h0m.4-.6h0m.6 .5h0m.6-.2h0m.2 .1h0m0-.5h0m.2 .1h0m0 .2h0m.1-.4h0m0 .2h0m.3 .8h0m.3-.4h0m.4 .1h0m.7-.2h0m.1-.5h0m.4 .4h0m.2 0h0m0 .4h0m.2-.3h0m.3-.2h0m.5 .3h0m4.7 .4h0m.7-.9h0m1.7 .4h0m3.7-.1h0m.5 0h0m.2-.1h0m.7-.1h0m-28.4 .8h0m.4 .6h0m.3 .3h0m.3-.3h0m.5 .1h0m.2-.4h0m.3 .3h0m2.6-.3h0m0-.2h0m.1-.1h0m.3 .8h0m.5-.3h0m.2-.3h0m.1 .5h0m.9 0h0m.6 0h0m.8-.7h0m.2 .4h0m.3 .2h0m1-.1h0m.1 .1h0m.1-.1h0m.1 .3h0m2.2-.2h0m.1-.2h0m0-.2h0m.9-.2h0m2.2 .2h0m.8-.1h0m1.7 0h0m.1 .8h0m1.2-.3h0m1-.6h0m1.2 .9h0m2.9-.3h0m.2 0h0m1.2 .4h0m.9-.7h0m.3 .3h0m.5-.5h0m-28.4 1.2h0m1.9 .5h0m.3-.4h0m1.8 0h0m.1-.3h0m.7 .1h0m.5 .6h0m0-.7h0m.6 .5h0m.1-.2h0m.2 .3h0m.4 .2h0m.1-.6h0m.5 .5h0m.3-.5h0m.1 .7h0m.5-.5h0m.7-.4h0m.2 .3h0m.1 .6h0m.1-.6h0m.2-.1h0m.1-.1h0m.4 .5h0m1.6 .1h0m1.2-.2h0m.3 .1h0m.6-.5h0m0 .1h0m.3-.3h0m.4 0h0m2.1 .6h0m1.9 0h0m2-.4h0m.1 .5h0m0 0h0m1.8-.1h0m.9 .3h0m1.2 0h0m.8-.1h0m.6-.1h0m.2 0h0m.7-.4h0m.4 .3h0m0-.4h0m.9 .7h0m-28.5 .9h0m2.8-.1h0m.3-.1h0m.3-.4h0m.5 .3h0m2.1-.2h0m.3 .1h0m0 .4h0m.1-.5h0m1.2 .3h0m.1-.5h0m1.8 .7h0m.4 .1h0m0 .1h0m.9-.9h0m.4 .5h0m1.6 .3h0m1.2-.9h0m.1 .8h0m.5-.1h0m4.4 .1h0m2.1-.6h0m.8-.1h0m6 .1h0m-27.8 1.6h0m.3-.2h0m.1-.5h0m.1 .2h0m.4 .5h0m.1-.7h0m.4 .7h0m.2 0h0m.1-.6h0m.1 .1h0m.3 .6h0m1-.6h0m.4-.2h0m.7 .8h0m.8-.2h0m0-.7h0m.9 .5h0m.8 .3h0m.5 .1h0m.2-.1h0m.5 0h0m.7 .2h0m1.1-.4h0m.4 0h0m1.8-.4h0m.1 .1h0m.5-.3h0m.1 .4h0m.8-.4h0m.1 .7h0m.9-.7h0m.1 0h0m.3 .1h0m.4 .5h0m.5-.5h0m1.5 0h0m.1 .6h0m1.1-.4h0m2.4-.2h0m.4 .2h0m2.2 .7h0m.2-1h0m1.2 .5h0m1.3 .4h0m-27.6 .9h0m.1-.2h0m.6-.2h0m.4 .3h0m1.2-.7h0m.1 .3h0m.5 .3h0m.1-.2h0m.6-.4h0m.1 .7h0m.3 0h0m.3-.1h0m.2 0h0m.1-.5h0m.1 .5h0m.2-.2h0m.1 .2h0m.5-.1h0m.4 0h0m0 .5h0m.3-.3h0m0-.1h0m.7-.3h0m1 .4h0m.1-.3h0m.2-.3h0m.3 .2h0m1.3 .6h0m.1-.3h0m1.3-.2h0m.1 .3h0m.2 .1h0m0 .1h0m.2-.2h0m.1-.1h0m.2 0h0m.8-.2h0m.1 0h0m1 .3h0m.2 .2h0m.1-.2h0m.4-.6h0m.1 .1h0m1.2 .7h0m.2-.6h0m.9-.1h0m.1-.1h0m1.1 .2h0m1.3 .3h0m1.5 .1h0m.8-.1h0m1-.5h0m.1 .1h0m.1-.1h0m0 .7h0m.2-.2h0m1.8-.5h0m.5 0h0m0-.1h0m.4 .6h0m-24.9 .8h0m.7 .4h0m.3-.4h0m1.1 .6h0m.1-.6h0m.7-.1h0m0 .4h0m.5 .2h0m.2-.4h0m.8-.1h0m.4 .5h0m.2-.3h0m.1 .3h0m0-.6h0m2.1 .2h0m.1 0h0m1.2 .5h0m.1-1h0m.4 0h0m.8 .5h0m.9 .2h0m.5-.4h0m.9 0h0m.2-.2h0m.3 .3h0m.2-.2h0m.1 .6h0m.6-.1h0m.4-.6h0m.2 .1h0m.1-.1h0m.2 .2h0m.4 .5h0m0-.8h0m.1 .5h0m.3 .1h0m.3-.2h0m.7 .4h0m.5-.5h0m.9-.1h0m1.3 .4h0m.3-.6h0m.3 .8h0m2.5 0h0m1.4 0h0m.5-.7h0m.7 .6h0m1-.1h0m.3-.4h0m-27.1 1.6h0m.1-.7h0m2.4 .4h0m.3-.3h0m1.2 .4h0m.4-.2h0m0 .2h0m.1-.2h0m.1 .3h0m0 .2h0m2.1-.8h0m.1 .4h0m.5-.4h0m1.8 .7h0m.4-.6h0m0-.1h0m1.3 0h0m.4 .3h0m.1 .3h0m.2 .3h0m.2-.3h0m.2-.4h0m.4 .2h0m.1-.3h0m.4 .7h0m0-.1h0m.2-.7h0m.4 .2h0m.4 .3h0m.1 .3h0m0-.3h0m.3-.1h0m.1-.5h0m.3 .4h0m2.4 .1h0m0 .5h0m0-.7h0m.6-.1h0m.1 .1h0m.2 .4h0m1-.5h0m.7-.1h0m1.1 .2h0m.9 0h0m.5-.2h0m3.2 .9h0m-24 0h0m.5 .6h0m1.2 .4h0m.3-.1h0m.7-.1h0m.1-.4h0m1.2 .4h0m1.9 0h0m.1-.6h0m2.2-.1h0m0 .1h0m.1 .7h0m.2-.7h0m.1 .2h0m.2 .2h0m.3-.4h0m.3 .1h0m.8 0h0m0-.2h0m.1 .7h0m.2-.3h0m0-.2h0m1 .5h0m.2-.7h0m0 .6h0m0 .1h0m.1-.6h0m.5 0h0m.2 .3h0m.7-.3h0m.2-.1h0m.1 0h0m.3 .3h0m.7-.2h0m1 .3h0m.4-.4h0m2 .8h0m1.2-.1h0m2.4-.4h0m.4 .3h0m.1 .2h0m.2-.9h0m.8 .4h0m-24.5 1.6h0m.7 0h0m1.5-.2h0m.7-.4h0m.2 .2h0m.1-.4h0m.5 .7h0m.1-.1h0m.9 .1h0m.9-.7h0m1.8-.1h0m.6 .6h0m.5-.5h0m.1-.2h0m.9 .1h0m2 .7h0m1.3-.8h0m.4 .3h0m.1 .4h0m.5-.7h0m.3 .2h0m.1 .1h0m1.4 .1h0m1.3 .1h0m1.1 .4h0m.2-.5h0m.4 .2h0m.2-.5h0m.1 .8h0m.8-.2h0m.1-.4h0m.1 .6h0m.9-.6h0m1.8 .7h0m.4-.7h0m.5 .4h0m.7 .1h0m1.5-.3h0m.6 .2h0m-23.6 1.3h0m.1-.7h0m.2-.2h0m.3 .3h0m.5-.2h0m1.2 .7h0m.9-.9h0m2.4 .2h0m1.3 .8h0m.9-.2h0m2.2-.4h0m1.4-.2h0m.1-.1h0m.5 .5h0m.5-.4h0m2.5 .2h0m.4 .5h0m.1-.4h0m.4 .4h0m2.5-.3h0m2.8-.4h0m1.4 .4h0m.4 .3h0m.7-.3h0m-27.3 1.1h0m0-.4h0m.1 .4h0m.2-.2h0m1.9-.2h0m.1 .1h0m.2 .4h0m.1 0h0m0-.5h0m0-.1h0m.1-.2h0m.1 .5h0m.2 .4h0m1-.6h0m.6 .2h0m.4 0h0m.1-.3h0m.8 0h0m1.5-.1h0m2.7 .1h0m1.2 .6h0m.3-.5h0m.6 0h0m.6 .4h0m.4-.7h0m1.6 .2h0m.3 .3h0m.7 .1h0m.7 .2h0m.9-.7h0m4.3-.1h0m3.2 .2h0m.7 .4h0m-25.9 .7h0m0 .4h0m2-.1h0m.6 0h0m.4-.2h0m.2 .4h0m.2-.7h0m.3 .4h0m.5 .1h0m1.1 .1h0m.8-.2h0m.1 .3h0m.8-.3h0m.1-.2h0m.6 .2h0m.3 .3h0m.6-.5h0m0-.2h0m1.4 .6h0m1.6-.1h0m.8-.5h0m.6 .9h0m.5-.5h0m.5 .1h0m3.1 .2h0m.2 .1h0m.4-.7h0m3.8 .3h0m.8 .2h0m1.1-.2h0m2.4 .2h0m-25.5 1.1h0m.1-.3h0m.1 0h0m1-.2h0m.5 .6h0m0-.7h0m.1 .3h0m.4 0h0m.1-.2h0m.1-.1h0m1.5 .1h0m.2 .6h0m.7-.6h0m.4 .3h0m.3-.6h0m.1 .5h0m.3 0h0m.1 .1h0m.2 0h0m.1-.2h0m4-.2h0m.1-.1h0m4.3 .5h0m.7 .1h0m.7 .2h0m.4-.5h0m.1 .6h0m1-.1h0m.9 0h0m.3 .1h0m.1-.2h0m1-.5h0m1.2 .3h0m.4 .2h0m.1 0h0m1.4-.7h0m2.9 .4h0m.5 .4h0m-26.2 .2h0m.1 .1h0m.8 .7h0m.3-.2h0m.3-.3h0m.3 .2h0m.4-.5h0m.1 .4h0m.1-.2h0m.8 .6h0m.1-.1h0m.1 .1h0m.4-.6h0m.1 .6h0m11.4-.2h0m0-.3h0m.4-.2h0m2.1 .7h0m.5-.5h0m.5 .4h0m.2 .2h0m.7-.5h0m.6-.2h0m.7-.2h0m.5 .4h0m3 .1h0m.3-.1h0m1.7-.4h0m.4 0h0m-27 1.2h0m.1-.1h0m1.6 .4h0m0 .3h0m.3-.6h0m.4 .7h0m1.6-.1h0m.1-.3h0m.2 0h0m.5-.1h0m.1-.1h0m.4-.2h0m.2 .3h0m1 .3h0m.1-.6h0m1.3 .4h0m.8-.1h0m2.3 .3h0m.9-.6h0m2.8 0h0m2.2 0h0m.1-.1h0m5.9 .2h0m.9 .4h0m1.2 .1h0m.1 .2h0m.4-.3h0m.8 .1h0m0-.6h0m.1-.2h0m-27.4 1.5h0m.5-.4h0m0 .8h0m.6-.6h0m.5-.2h0m3.4-.1h0m.5 .3h0m.6-.1h0m.7 0h0m2.9 .6h0m0 0h0m4.4-.2h0m2.8-.4h0m2.5 .8h0m3.3-.8h0m0 .7h0m4.2-.1h0m.2-.3h0m-25.1 .8h0m.6 .5h0m2-.6h0m1.6 .8h0m1.8-.2h0m0-.1h0m8.6-.4h0m1.1 0h0m1.4-.1h0m1.8-.2h0m.9 .2h0m.5 .7h0m.5 .1h0m1.2-.3h0m1.7 .1h0m.4 0h0m-24 .3h0m.4 .1h0m1.3 .6h0m17-.5h0m1.2 .2h0m1.6-.2h0m1.7-.1h0m.8 .6h0m.4 0h0m-22.9 .2h0" stroke="#2cb274" stroke-width="1.10" stroke-linecap="round" fill="none" opacity="0.9"/><path d="M85.0 294.7h0m-3.2 1.2h0m1.6 0h0m.4-.3h0m-3.1 1.2h0m3.2-.2h0m-4.7 1h0m.9 .4h0m.3-.9h0m1 .6h0m.5-.2h0m.2-.1h0m0-.3h0m-2.4 1.2h0m1.5 .1h0m.1-.1h0m-4.3 1.4h0m.1-.7h0m2.4 .6h0m1.9-.4h0m-5 .9h0m1.2 .1h0m1.6 .4h0m-2.1 1.3h0m.3-.5h0m.5-.2h0m.9-.1h0m.8 .6h0m.3-.5h0m-2.7 .8h0m1.8 .2h0m-1.3 1.6h0m.3-.5h0m.2 .4h0m.1-.4h0m-3.7 1.8h0m3.1 .9h0m-2.4 .8h0m1.2 0h0m.6-.1h0m.3 .2h0m.6 0h0m.1-.5h0m0 0h0m.5 .4h0m.4-.7h0m-4.4 1.4h0m1.6 .1h0m1.7-.3h0m1-.1h0m-4.1 .9h0m.4 .7h0m.6-.1h0m3.1-.4h0m-4.6 1.6h0m1.1-.8h0m.3 .8h0m1.2-.5h0m.1 .3h0m1-.1h0m.5-.2h0m.2-.1h0m.2-.3h0m-3.2 1.2h0m.3 .5h0m.9 0h0m1.7-.6h0m.2 0h0m-3.2 1.4h0m.8 .1h0m1-.4h0m.6 .1h0m.3-.2h0m.2 .8h0m-3.8 .3h0" stroke="#2cb274" stroke-width="1.10" stroke-linecap="round" fill="none" opacity="0.9"/><path d="M88.8 300.6h0m0-.2h0m.1-.4h0m1 .3h0m.3 .3h0m.1 .1h0m.1 .1h0m.1 .2h0m.1-1h0m0 .9h0m-2 1h0m1.3-.9h0m0 .5h0m.4-.2h0m.4-.2h0m.3 .7h0m-.9 .9h0m.3 .2h0m.3-.4h0m.7-.1h0m.4-.2h0m0 .7h0m.1 0h0m-2.1 .2h0m1.6 .7h0m.2-.1h0m.2-.2h0m-2.2 1.8h0" stroke="#2cb274" stroke-width="1.10" stroke-linecap="round" fill="none" opacity="1.0"/><path d="M88.0 315.0h0m-6 2h0m4.5 1.2h0m-6.5 1.3h0m4 .5h0" stroke="#2cb274" stroke-width="1.10" stroke-linecap="round" fill="none" opacity="1.0"/><path d="M96.0 270.4h0m.4 .3h0m1.6-.4h0m.2 .3h0m-3.4 .8h0m.1 .4h0m1.8 .1h0m0-.5h0m0 .2h0m.1-.1h0m.1 .3h0m0-.2h0m1.6 0h0m-5.4 1h0m.1 .1h0m.2 .2h0m0-.4h0m3.3 .3h0m.5 .2h0m.1-.5h0m.1 .5h0m-5 .4h0m1.9 0h0m.6 0h0m.7 .1h0m4 0h0m1.2-.4h0m1.1 0h0m.1 0h0m.4 .6h0m-10.5 .8h0m1.2 .1h0m.5-.5h0m.1 .3h0m1 .6h0m-6.5 .9h0m.1 0h0m1.3-.1h0m.1-.4h0m.8-.3h0m.1 0h0m.1 .6h0m.1 .2h0m0-.5h0m.4 .3h0m.1-.6h0m.1 .8h0m.1-.5h0m.5 .2h0m.2 .1h0m.3 .2h0m.3-.1h0m.7-.3h0m2.9 .3h0m3.3-.3h0m.5-.3h0m.3-.1h0m.4 .8h0m1.9-.7h0m.6 .1h0m-17.5 1.6h0m.1-.1h0m1.7-.4h0m0-.4h0m.1 .8h0m.4-.4h0m.1 .1h0m.3-.4h0m1.3 .6h0m.2-.1h0m.2 0h0m.1-.2h0m.2 0h0m.9 .2h0m.3 .2h0m.3-.1h0m0 .2h0m.4-.3h0m.1-.2h0m.4 .3h0m.7 .2h0m.3-.7h0m.2-.2h0m.1 .2h0m.1 .4h0m3.6-.1h0m1.2 .2h0m.2-.4h0m1.6 .2h0m.4-.4h0m.7 .9h0m.2-.5h0m.2 .1h0m.5 .2h0m.2-.5h0m-17.4 1.3h0m0 .1h0m.6-.3h0m.3 .5h0m0-.6h0m.8 .7h0m.3-.2h0m0-.6h0m.1 .4h0m.8-.2h0m.4 .3h0m.3-.1h0m.4-.4h0m.1 .4h0m1-.2h0m0 .4h0m0-.1h0m.2-.7h0m.9 .6h0m0-.3h0m.8 .5h0m0 .1h0m.5-.5h0m.2 .1h0m1.9-.1h0m.1 .3h0m2.6 .1h0m.8-.3h0m.1 .4h0m0-.2h0m2.2-.6h0m0 .5h0m.7 .3h0m.1-.2h0m.1 .1h0m.2-.7h0m.1 .3h0m0-.3h0m0 .6h0m.1-.1h0m.1-.2h0m0-.1h0m.1 .6h0m.3-.3h0m.2 .3h0m0-.4h0m.2 .2h0m.2 0h0m.2-.6h0m-19.8 1.8h0m.2-.2h0m.8-.6h0m.2 .3h0m.2-.3h0m0 .2h0m.3 0h0m1-.1h0m.1 .3h0m.2-.4h0m.1 .5h0m.7-.4h0m.1 .4h0m.6-.4h0m.3 0h0m.6 .2h0m0-.3h0m.6 .3h0m.6-.2h0m.6 .6h0m.1-.4h0m.3 .1h0m.6 0h0m1-.3h0m1.1 .8h0m0-.7h0m.4-.2h0m.2 .5h0m.2-.1h0m0-.5h0m.6 .6h0m.3-.6h0m1.5 .4h0m.1-.1h0m.1 .4h0m.3 .1h0m0-.6h0m.1 .3h0m.2-.1h0m.5 .1h0m.6 .4h0m.2-.5h0m1.4 0h0m.4 0h0m.2-.1h0m0 .1h0m.4-.3h0m.3 .6h0m.6-.5h0m.4 .5h0m.2-.1h0m.1 0h0m-20.1 1.1h0m0 0h0m0 .1h0m.3-.4h0m.1 0h0m.2-.3h0m.2 0h0m.2 .2h0m0 .4h0m0 .3h0m.2-.6h0m.2 .1h0m0 0h0m.1 0h0m.5-.3h0m0 0h0m.3 .5h0m0-.3h0m.1 .1h0m.2 .3h0m.5-.8h0m.2 .6h0m.2-.5h0m.1 .6h0m.4 .2h0m.1 .1h0m.1-.4h0m.3-.2h0m.9 .1h0m0 .3h0m3.7-.2h0m.1-.3h0m.2 .6h0m1-.2h0m2.2-.6h0m.2 .2h0m.2 .4h0m0-.1h0m.9-.2h0m.1-.2h0m.1 0h0m.1 .5h0m.8-.4h0m.2 0h0m.6 0h0m.3-.1h0m1-.2h0m.5 .7h0m0-.5h0m.2-.1h0m.1 .1h0m.2 0h0m.4 .2h0m.2 .5h0m0-.3h0m0 .3h0m.4-.5h0m.4 .2h0m.9-.2h0m.3-.1h0m-20.7 1.2h0m.1-.1h0m1-.4h0m0 .5h0m0-.1h0m.3 .5h0m0-.8h0m.1 0h0m.1 .7h0m.1 .2h0m0-.9h0m0 .2h0m0 .6h0m.6-.2h0m0-.5h0m.4 0h0m.6 .5h0m.2-.1h0m.4 .2h0m.2-.6h0m0 .4h0m0-.3h0m.6 .1h0m0 .4h0m3.4-.2h0m.2-.6h0m.1 .1h0m1.8 .5h0m.3-.3h0m0-.3h0m.1 .1h0m.1 .1h0m1.1-.2h0m2.5 .2h0m1.3 .3h0m2.1-.3h0m.5 .1h0m0 .2h0m.4-.4h0m.6 .3h0m.2-.4h0m1.1 .7h0m-20.7 .7h0m.4-.1h0m.4 0h0m.1 .4h0m.1-.3h0m.2 0h0m.2 .6h0m.2-.8h0m.2 .3h0m.4 .1h0m.1 .1h0m.6-.5h0m.3-.1h0m0 .1h0m.1 0h0m0 .3h0m.2-.2h0m0 .3h0m.1-.5h0m.7 .3h0m0 .2h0m.2-.1h0m.1-.3h0m.2 .2h0m.1 .4h0m.1-.2h0m.5-.2h0m.1-.1h0m.1-.1h0m1.1 .2h0m0 .3h0m1.5 .1h0m.1 .1h0m1.2-.5h0m3.2 .3h0m5.3-.3h0m.1 0h0m.6 .5h0m.2-.9h0m.1 1h0m.2-.1h0m1.4-.8h0m.3 .8h0m.3 0h0m-20.7 .9h0m1.8-.3h0m.1 .4h0m.5 0h0m.6-.2h0m1-.4h0m.2-.1h0m0 .3h0m.1-.2h0m.2 .1h0m.2 .4h0m.2-.5h0m.6 .7h0m.2-.7h0m1.1-.3h0m.4 .3h0m0-.2h0m6.8 .2h0m.5-.2h0m1.5 .3h0m3 .5h0m0-.2h0m.2-.3h0m.1-.3h0m.9 .2h0m.2-.2h0m.3 .5h0m.1 .1h0m-21.3 .5h0m.4 .2h0m.4 .3h0m1.2-.5h0m.2-.1h0m.4 .8h0m.9-.7h0m1.2 .5h0m1-.2h0m.2 .4h0m.1-.8h0m0 .9h0m.2-.9h0m.3 .7h0m.1-.2h0m.2-.3h0m.2 .6h0m1.1-.6h0m.2 .2h0m.5 .5h0m.8-.3h0m2.2 0h0m2.2-.1h0m.7 0h0m1.1-.1h0m.4 .2h0m0-.6h0m.9 .9h0m.2-.7h0m0-.1h0m0 .4h0m1 .1h0m.7 .2h0m0-.4h0m.7-.2h0m1.1 .2h0m.1 .2h0m0-.5h0m.2 .2h0m-20.7 .9h0m0 .6h0m.4-.9h0m.3 .8h0m.5-.5h0m.1 .6h0m.4 0h0m.3-.4h0m.1-.1h0m.4 .5h0m0-.3h0m.4-.1h0m0-.4h0m1.9 0h0m.2 .1h0m0 .7h0m.8-.1h0m.1-.8h0m1.2 .2h0m2-.1h0m.8 .4h0m.1-.1h0m0 .3h0m.2 0h0m.5 .2h0m0-.7h0m.4 .6h0m2.1 0h0m.4-.7h0m0 .7h0m.2 0h0m.2-.4h0m0 .6h0m.6-.2h0m.1-.6h0m.8-.1h0m.3 .7h0m.1-.2h0m.2-.4h0m.1 .8h0m.1-.2h0m.9-.4h0m.1 .4h0m.5 .1h0m-18 .6h0m0 .3h0m.2-.5h0m.1 .5h0m.4 .1h0m0 0h0m.7-.6h0m.3-.3h0m0 .8h0m.3-.7h0m.2 .6h0m.2-.5h0m.2 .2h0m.5 .6h0m.1-.5h0m.1-.3h0m.4 .8h0m.2-.5h0m0 .3h0m.1-.2h0m.3 .2h0m0-.2h0m.9-.2h0m.2 .1h0m3.1-.3h0m.3 0h0m.1 .2h0m.1-.1h0m.1-.1h0m.7 .3h0m0-.3h0m.1 .3h0m.2-.4h0m0 .5h0m.1-.1h0m.3-.1h0m1.2 .6h0m.2-.3h0m.5 .3h0m.5-.6h0m1.6-.2h0m.3 .2h0m1.5 .2h0m.1 .4h0m.2-.1h0m.4-.5h0m.1 0h0m.5-.2h0m.2 .5h0m1.2 0h0m0-.4h0m-19.2 1h0m1.1 .7h0m.7-1h0m.1 .5h0m0 .3h0m.2-.5h0m.3 0h0m0 .4h0m.1 .1h0m.1 0h0m.7-.2h0m.1 .1h0m.2-.2h0m0-.1h0m.1-.1h0m.5 .4h0m.4 0h0m.1-.6h0m.2 .8h0m.7-.7h0m3.8 .6h0m.4-.1h0m.1-.5h0m.4 .1h0m.4 .4h0m.2-.3h0m.6 .4h0m1.5 .1h0m1.2 .1h0m.6-1h0m.8 .8h0m.1 .1h0m.6-.6h0m-15.9 1.6h0m.1-.8h0m0 .4h0m.8 .1h0m.1 .1h0m.4-.4h0m.2 0h0m0-.1h0m.2 .7h0m.1-.1h0m0-.2h0m.1-.4h0m.1 .6h0m0-.3h0m.2-.4h0m.4 .7h0m.4 .1h0m1-.1h0m.3-.3h0m.4-.2h0m.3 .5h0m3.6-.6h0m.7 .6h0m.5-.2h0m.3 .1h0m.2-.3h0m.1 .2h0m.2-.1h0m.1-.5h0m.4 .7h0m1.4 0h0m.2-.3h0m.2 .5h0m.4-.8h0m.6 .7h0m.3-.5h0m.1-.1h0m-14.4 1h0m.2 0h0m.2 .1h0m.2-.1h0m.2 .1h0m0 .5h0m.5-.5h0m0 .4h0m.9-.2h0m.1-.3h0m.1-.2h0m0 .5h0m.3 .3h0m.3-.4h0m.9 .1h0m.1 .4h0m5.9-.7h0m.2-.2h0m.8 .1h0m.9 .4h0m.6-.3h0m-11.5 .8h0m.5 .5h0m.7 .3h0m.1 .1h0m2.2-.8h0" stroke="#bf71bc" stroke-width="1.10" stroke-linecap="round" fill="none" opacity="0.9"/><path d="M101.5 289.0h0m-5 1h0m1.5 .6h0m5-.1h0m-15 .5h0m18 1.5h0" stroke="#bf71bc" stroke-width="1.10" stroke-linecap="round" fill="none" opacity="1.0"/><path d="M102.9 313.4h0m.2-.2h0m.8 .7h0m.2-.2h0m-3.6 1.1h0m.8-.1h0m.4-.2h0m.1 .1h0m.5-.2h0m.1 .3h0m.2-.5h0m0 .5h0m.7-.5h0m.3 .1h0m.4 .1h0m-4.9 1.4h0m.3-.2h0m.2-.6h0m0 .3h0m.2 .4h0m1.3-.4h0m.2 .5h0m.3-.8h0m.1 .1h0m.2 .5h0m.2 0h0m.1-.5h0m-5.8 1.4h0m.9 .5h0m.8-.8h0m0 .5h0m.8 .3h0m0-.6h0m.1-.1h0m.5 .1h0m.2-.1h0m.4 .2h0m.2 .2h0m.5-.1h0m1-.3h0m-5.3 1.4h0m.2-.6h0m.6 .6h0m1.2-.1h0m-3.8 .6h0m0 .8h0m.9-.8h0m.4 .4h0m.1-.4h0m.1 0h0m.3-.1h0m.4 .5h0m-6 1.4h0m.4-.1h0m.1 0h0m.7-.1h0m1.2 .1h0m1.3-.6h0m.3 0h0m0 .6h0m.4-.8h0m.1 .2h0m.3 0h0m-5.2 1.4h0m0 0h0m.1 .2h0m.6 0h0m.2-.4h0m1.1 .4h0m0-.5h0m0 .2h0m.5 .2h0m.4-.3h0m.2-.1h0m.3 .1h0m0-.2h0m-5.8 1.5h0m1.5-.1h0m.1 .2h0m.6-.7h0m.5 .2h0m.1-.4h0m0 .8h0m.2 .1h0m.2-.9h0m.1 .2h0m.1 .6h0m.1-.6h0m.1-.2h0m.2 .7h0m.8 .2h0m.1-.7h0m-5.5 1.8h0m1.2-.9h0m.1-.1h0m.2 .5h0m.1-.2h0m.3 .1h0m.3 .2h0m.8-.6h0m-2.6 1.2h0m0 .3h0m.2-.5h0m.1 .9h0m.1-.7h0m.3 .1h0m.1 .1h0m.2-.1h0m1.2 0h0m-1.4 1.5h0" stroke="#24a4e4" stroke-width="1.10" stroke-linecap="round" fill="none" opacity="1.0"/><path d="M82.9 336.0h0m-1.1 2h0m1.4-.8h0m-1.3 .9h0m.3 .8h0m0-.4h0m.2-.5h0m-.1 1.6h0m.5-.5h0m1.7 .8h0m.4 0h0m1.4 0h0m1.5-.1h0m1.4-.3h0m2 .3h0m.9 .2h0m-9 .6h0m0 .4h0m.5-.1h0m1.8-.5h0m.8-.3h0m.6 .1h0m.3 .5h0m0-.2h0m2.1-.2h0m3 .7h0m.4-.1h0m0-.1h0m-8.7 .2h0m.9 .1h0m.1 .2h0m0 0h0m.5 .1h0m.4 .6h0m.1-.8h0m.8 .1h0m.8 .5h0m.1 .2h0m.1-.4h0m.6-.1h0m1-.2h0m.3 .7h0m.4-.3h0m1-.1h0m.3 0h0m.6-.1h0m.4 .3h0m.5 0h0m0-.3h0m-7.1 1.1h0m1.4 .1h0m.5-.4h0m1.3 .1h0m1-.4h0m.6 .6h0m2.2 0h0m.2-.1h0m.2 .3h0m-6.4 .3h0m4.8 .1h0" stroke="#24a4e4" stroke-width="1.10" stroke-linecap="round" fill="none" opacity="1.0"/><path d="M83.0 342.8h0m.4 .6h0m.2 .2h0m-.1 1.2h0m.8-.3h0m.1-.2h0m-.6 .9h0m0 .1h0m.7-.3h0m.4 .3h0" stroke="#24a4e4" stroke-width="1.10" stroke-linecap="round" fill="none" opacity="1.0"/><path d="M108.9 296.6h0m-.2 1.4h0m0-.6h0m1.1 .1h0m-.8 .6h0m0 .5h0m.3-.5h0m.4 .3h0m-.8 1.2h0m.8 .1h0m1.8 .3h0m.6-.1h0m-2.9 .7h0m0 .3h0m.2-.6h0m.3 .3h0m.4-.6h0m.4 .1h0m0 .2h0m1.8-.2h0m-1.8 1.5h0m1 .3h0m.1-.4h0m.4-.1h0m.1-.4h0m.1 .5h0m1 .5h0m.5-.4h0m.7 .4h0m1.7-.3h0m-6.6 1.1h0m.9 .1h0m1.9-.8h0m1.1 .1h0m.4 .3h0m.5 .3h0m.6-.3h0m1.3-.2h0m.3 .2h0m.8 .4h0m.5-.2h0m.1-.2h0m-8.7 1.1h0m3.6-.1h0m.7 .4h0m.7-.5h0m.3 .2h0m.3-.1h0m.3 0h0m.2 .2h0m.2 .2h0m1.9-.7h0m.7 .6h0m1.2-.5h0m.1 .6h0m1.1-.1h0m-11.5 .6h0m4 .3h0m.6-.4h0m.3-.3h0m.9 .6h0m.9-.6h0m1.4 .4h0m.3-.3h0m.1 .1h0m.3 .3h0m1.2-.2h0m.1 .4h0m2-.3h0m.2 .5h0m6.8-.3h0m.6 .2h0m.6-.2h0m2.5 .4h0m-23.1 .8h0m.8-.4h0m.1 .5h0m0 0h0m.4 .1h0m2.9-.3h0m7.6-.6h0m1.3 .5h0m.9-.6h0m1 .5h0m.2 .5h0m.9-.3h0m.4 .2h0m.8-.8h0m.8 .6h0m1.2 0h0m.5-.2h0m.2-.1h0m.8-.4h0m2.7 .9h0m2.2-.1h0m.4 0h0m.1 .1h0m.1 .1h0m-26.2 .3h0m.1 .2h0m.1-.4h0m.1 .1h0m.9 .2h0m.2 .3h0m.6-.5h0m.1 .1h0m.5 .5h0m.5-.4h0m1.5 .4h0m7.8-.1h0m.3-.6h0m.7 .8h0m.1 0h0m.3-.3h0m.5-.1h0m.1 .4h0m.3 .1h0m0-.9h0m.5 .3h0m0-.1h0m.2 .5h0m.1 0h0m0-.5h0m.3 .4h0m1.3 0h0m.7 .1h0m.4-.5h0m.2-.2h0m.3 .6h0m.3-.1h0m1.7 .2h0m1.2-.5h0m.1-.2h0m.4 .5h0m.5-.6h0m.3 .6h0m2 .4h0m1.2-.1h0m.1-.4h0m.1-.1h0m.8 .3h0m-27.6 1.1h0m.4-.3h0m1.6-.4h0m.5 .2h0m.4 .5h0m.2-.8h0m0 1h0m.3-.1h0m1.4 0h0m.2-.7h0m.2 .7h0m3.1 .1h0m.7-.1h0m0-.1h0m1.6-.1h0m.4 .1h0m.1 .2h0m.7-.6h0m1 .3h0m.5-.1h0m.1 .2h0m.3-.6h0m.2 .7h0m.7-.1h0m.2-.7h0m0 .2h0m1-.1h0m.3 .6h0m1.6-.7h0m1.5 .7h0m.3-.7h0m.3 .7h0m1.3-.7h0m.4 .9h0m1-.9h0m.7 .1h0m.2 .6h0m.1 .2h0m.3-.4h0m2.8-.1h0m.6-.3h0m.7 .3h0m.1 .2h0m.7 .1h0m-28.1 .4h0m1 .3h0m.3 0h0m.1 0h0m0 .5h0m.4-.6h0m.8-.3h0m.7 .1h0m.1 .6h0m.3 0h0m.2-.7h0m1.9 .8h0m.3-.4h0m2-.2h0m.1-.2h0m.5 .4h0m.6 0h0m.6-.5h0m0 .7h0m1.2 .2h0m.1-.1h0m.2 .1h0m.1-.2h0m1.3-.2h0m0 .1h0m.1-.3h0m.1 0h0m.1 .1h0m0 0h0m.7 .4h0m.4-.4h0m.7 .2h0m1.3 .2h0m.7 .2h0m.1 0h0m.3-.3h0m1.9-.6h0m0 0h0m.7 .7h0m.2-.2h0m.1 .1h0m0-.5h0m.3 .5h0m.5-.3h0m.8 0h0m.5-.3h0m.8 .6h0m.1-.6h0m.7 .1h0m.5 .1h0m0-.1h0m.2 .4h0m.8 .3h0m.2 0h0m.4-.2h0m.5-.3h0m.1 .4h0m.3-.7h0m.2 .4h0m1.4 .4h0m-30 .8h0m1.2-.3h0m.6-.1h0m0-.2h0m1.2 .3h0m.3 .1h0m3.8 .1h0m1.9 0h0m1.8 .3h0m.1-.3h0m.9 .4h0m.9-.2h0m.1-.1h0m.4-.4h0m.1 .2h0m0 .3h0m.5-.4h0m0 .1h0m0-.5h0m.6 .8h0m.2-.1h0m.5-.7h0m.1 .2h0m.2 .8h0m.1-.7h0m.6 0h0m.7 .7h0m.7-.2h0m.9-.5h0m1.4 .3h0m.9 .2h0m.1-.4h0m.2 .4h0m.1 .1h0m.5-.9h0m.5 .5h0m.3-.4h0m.4 .8h0m1.7-.4h0m.7-.4h0m2.2 .8h0m.8-.1h0m.6-.2h0m.2-.5h0m.4 .2h0m.8 0h0m-30 .8h0m.5 .1h0m.1-.1h0m.2 .1h0m.2 .5h0m.6-.1h0m2.8 .2h0m.4 .1h0m1.3-.3h0m.2-.1h0m.8-.1h0m2.2-.1h0m0-.2h0m.1 0h0m3.5 0h0m1.1 .6h0m2.3-.6h0m1.2-.1h0m.6 .2h0m.1 .4h0m0-.4h0m.4 .7h0m.7-.1h0m.2-.3h0m.4-.5h0m0 .3h0m.4-.3h0m1.7 .1h0m2.2 .1h0m.2 .4h0m2.2-.5h0m.7 .2h0m.5 0h0m.2 0h0m.1 0h0m1.4 0h0m.3-.1h0m.3 .1h0m.1 .1h0m.4 .4h0m.1-.4h0m.3 .4h0m.3-.5h0m.8 .3h0m0-.3h0m-32.2 1h0m1.8 .3h0m.6 0h0m.1 .3h0m.1-.7h0m.2 .5h0m1.7-.5h0m1 .6h0m.8 0h0m.4-.5h0m7.5 .2h0m.1 .3h0m.3-.7h0m.3 .1h0m.5 .7h0m0-.7h0m.1 .5h0m.7-.1h0m.2-.6h0m.6 .4h0m.2 .1h0m1.8-.3h0m1.2-.2h0m7.2 .4h0m1.6-.1h0m.2 0h0m1.3-.3h0m.6 .8h0m.2 .1h0m.5-.7h0m.1 .2h0m.4-.3h0m.1 .2h0m.4-.1h0m.9 .6h0m.1-.3h0m.2-.1h0m1.1 .1h0m-33.1 .9h0m1.7-.2h0m12.3 .3h0m1.3 .2h0m.7 .3h0m.3-.8h0m8.8 .2h0m.5-.2h0m.1 .3h0m0 .1h0m0-.5h0m.2 .5h0m0 .4h0m.7 0h0m1.4-.5h0m.1-.4h0m.3 0h0m2.2 0h0m1.1 .2h0m.2-.2h0m1.8 .1h0m.2-.2h0m0 .6h0m.5-.1h0m.7 .2h0m.3 .2h0m1.3-.1h0m1 0h0m-24.9 .9h0m.2-.3h0m.9-.3h0m.4 .2h0m.7 .2h0m1.3-.3h0m.4-.1h0m0 0h0m9 .6h0m.3-.4h0m.3 .6h0m.4 0h0m7.8-.4h0m.4 .3h0m.4-.3h0m.1-.2h0m1.3 .6h0m-23.6 .2h0m.4 .7h0m1.1-.6h0m.1 .5h0m0 0h0m.8 .1h0m.7 0h0m0-.5h0m10.8-.2h0m.2 .5h0m.9 .4h0m1.1 0h0m4.5-.1h0m.8-.4h0m.9-.4h0m3.7 .2h0m-25.5 1.4h0m.1 .2h0m.5-.8h0m.3 .1h0m.4 .3h0m.5 .1h0m11-.3h0m1 .5h0m1-.2h0m.5 .2h0m.8-.1h0m3.8-.5h0m.1-.1h0m3.6-.1h0m.8 .4h0m.4 .1h0m.1 .5h0m.9-.5h0m-25.5 1h0m.8-.4h0m1.6 .1h0m.1 0h0m.1 .5h0m9.4-.2h0m.2-.5h0m.1 .8h0m0-.2h0m1.5 .3h0m.7-.2h0m.4 .2h0m.5-.7h0m.2 .3h0m.3 .2h0m.2-.3h0m.7-.2h0m.5 .2h0m2.6 .1h0m.1 0h0m.4 .3h0m4.1-.7h0m.5-.1h0m.2 .6h0m1 0h0m-24.6 1h0m.4-.6h0m.3 .2h0m0-.2h0m8.4 1h0m3-.5h0m.1 .1h0m.6-.3h0m1.5 .4h0m.1-.1h0m1.8 .1h0m.3 .3h0m.2-.9h0m0 0h0m1 .7h0m.1-.2h0m.3-.5h0m.1 .2h0m1 .3h0m.6-.6h0m2.5 .4h0m-21.4 .7h0m.6 .3h0m1 .3h0m.1-.3h0m0 .1h0m.7 .2h0m.4 0h0m4.9-.4h0m1.6 .5h0m.1-.4h0m.2 .5h0m.2-.6h0m.3 .6h0m.6-.5h0m.5 .4h0m1-.7h0m0 .8h0m.1-.2h0m1.3-.6h0m.4 .3h0m2.3-.2h0m.1 .5h0m.9 0h0m1.3 .2h0m.3-.2h0m.3 0h0m.1-.6h0m.2 .6h0m.1-.4h0m.1-.2h0m.6 .3h0m.7 .1h0m.6-.5h0m-23.4 1.8h0m.2-.2h0m.1-.2h0m.5 0h0m.4 .4h0m.6-.2h0m3-.6h0m1.5 .8h0m2.4-.7h0m1 .3h0m2.8-.1h0m.4 .5h0m.7-.3h0m2.2 .5h0m1.8-.9h0m.1 0h0m2.5 .1h0m-20.6 1.8h0m.5 0h0m1-.1h0m0 0h0m1.1-.8h0m.9 .7h0m.6 0h0m.4-.4h0m1 .2h0m.6-.5h0m.1 .4h0m.4 0h0m.1-.2h0m.8 .4h0m.9-.6h0m.5 .6h0m.9-.2h0m.2 0h0m.5 .2h0m.1-.2h0m.6 .4h0m1.1-.2h0m.8-.4h0m1.1 .3h0m1.7-.2h0m.4 0h0m-14.4 .8h0m2.6-.1h0m1.5-.1h0m.5 .2h0m.1 .5h0m.3-.1h0m.7-.5h0m2.1 .4h0m.1-.2h0m3.3-.3h0m.1 .7h0m.6-.1h0m1-.1h0m.8 .1h0m.1 .1h0m.3-.6h0m.3 .1h0m-16.4 1.3h0m.1 .1h0m.4-.5h0m6.4 .4h0m1.8-.4h0m1.7 .3h0m.1 .5h0m.3-.5h0m.4 .4h0m.6-.3h0m1.3 .3h0m0-.5h0m.7 .7h0m.2-.3h0m.1-.3h0m.6 0h0m0-.3h0m1 .8h0m.7 0h0m-16.6 .2h0m.4 .7h0m.8-.4h0m.3 .2h0m.2 0h0m6 .3h0m0-.1h0m.6-.2h0m.3-.2h0m.3 0h0m.3 .2h0m.7 .4h0m.3-.9h0m.1 .8h0m.2-.1h0m.6-.6h0m.2 0h0m2.8 .7h0m.9-.7h0m.2 0h0m-14 1h0m1.3 .7h0m4.3 0h0m.8-.2h0m.5-.4h0m1.5 .5h0m.1-.3h0m.7 0h0m0-.4h0m.2 .8h0m3.8-.4h0m.2 .2h0m.1-.3h0m.3-.1h0m.3 0h0m.5 .3h0m-13.8 .8h0m.2 .4h0m0-.3h0m.3 .1h0m.7-.1h0m1.8 .4h0m1.6-.6h0m.3 .2h0m.1-.2h0m.4 .3h0m.1-.3h0m0 .4h0m.7-.3h0m.2-.1h0m1.8-.3h0m.1 .4h0m.1 .4h0m1.1-.7h0m1.3 .5h0m0-.1h0m.2-.5h0m.3 .6h0m2.1-.4h0m.1 .3h0m.5 .5h0m.2-.3h0m.1-.6h0m-15.7 .9h0m.7 .4h0m0 .2h0m.6 .1h0m0 .2h0m.4-.3h0m.1-.2h0m.4-.3h0m.1 .3h0m.7-.4h0m2.3 .6h0m.7 .2h0m.8-.6h0m.3-.1h0m1.2 .8h0m1.7-.4h0m1.2-.2h0m.9 .4h0m1.3-.4h0m.6 .2h0m-11.6 1.1h0m.9 .3h0m.1-.2h0m.2-.2h0m.3 .3h0m.2 0h0m.9 0h0m1.1-.6h0m.4 .2h0m1.8 .5h0m.3-.7h0m.5 .7h0m1.2-.4h0m.6-.2h0m.1-.1h0m.5 .6h0m-8.9 .4h0m1.4 .1h0m.9 .4h0m1.5 .2h0m.8-.8h0m.1-.1h0m.8 .7h0m.5-.2h0m.2-.2h0m1.3 .4h0" stroke="#24a4e4" stroke-width="1.10" stroke-linecap="round" fill="none" opacity="0.9"/><path d="M103.4 312.9h0m.2 0h0m-1.5 1h0m.8 0h0m.4-.4h0m.9 .2h0m-4.1 1.1h0m.8 0h0m.2 .2h0m.6-.7h0m0 .7h0m.4 0h0m.2-.4h0m.5-.2h0m.6-.2h0m.1-.2h0m.4 0h0m-4.2 1.4h0m.2-.1h0m.2 0h0m.4 .3h0m.5-.2h0m.1 0h0m0 .7h0m-.1 .9h0" stroke="#24a4e4" stroke-width="1.10" stroke-linecap="round" fill="none" opacity="1.0"/><path d="M149.3 322.5h0m.7 .1h0m-1.6 .9h0m.3-.3h0m1.5 .2h0m.6 .6h0m-.6 .3h0m.1 0h0m1.4 .1h0m.6 1.3h0m2.3 0h0m-4.2 .8h0m6.1 .2h0m-5 1h0m1.1-.1h0m.3-.5h0m1.4 .5h0m-3.2 1h0m1.6-.1h0m.7-.1h0m.3-.2h0m1.6 0h0m.3 .2h0m.3 0h0m.3 0h0m.9 .2h0m.8 .2h0m-4.6 .2h0m2.2 0h0m.2 .8h0m1.4-.6h0m.2 .7h0m.3 0h0m.1-.6h0m.2 .1h0m.3 .3h0m-3.9 .4h0m.8 .6h0m3.1 0h0m.1-.3h0m.1 .3h0m.2 0h0m.1 .3h0m.1-.1h0m.1-.5h0m.7 0h0m.2 .5h0m0-.5h0m1.9-.3h0m.4 .2h0m.3 .5h0m.1-.6h0m.2 .2h0m.1 .5h0m1.1-.2h0m.4 .2h0m1.4 0h0m.7 .1h0m.2-1h0m.2 .1h0m1.1 .5h0m.2 0h0m.3-.2h0m.4 0h0m.1-.1h0m.5 .2h0m-17.7 1h0m4.9 .5h0m0-.1h0m.2-.2h0m.4-.2h0m.1 .4h0m.1-.9h0m.3 0h0m.6 .4h0m.2 .2h0m.1-.3h0m.6-.1h0m.2 .6h0m.2-.5h0m.1 .6h0m.3-.4h0m.1 .1h0m0-.1h0m.1 .4h0m0-.5h0m.1-.2h0m.4 .4h0m0 0h0m.3-.3h0m.5 .1h0m0 0h0m.2 .5h0m1.5-.3h0m.5 .3h0m.2-.7h0m.7-.1h0m.1 .4h0m.3-.5h0m.7 0h0m.6 .7h0m.4 .2h0m.9 0h0m0-.4h0m.7 .5h0m.4-.2h0m.6-.7h0m.9 .7h0m1.8 .1h0m-16.4 .7h0m.7-.2h0m.5 .1h0m.1-.3h0m.3 .5h0m.5-.3h0m0-.1h0m.4 .4h0m.2-.4h0m.7 .4h0m.1-.3h0m0 0h0m.1 .6h0m.1-.5h0m.2 .1h0m0-.5h0m.6 .7h0m.3-.4h0m.7 .5h0m.1-.4h0m.1 0h0m.1-.4h0m.1 .2h0m.1 .4h0m.8-.1h0m.3 .2h0m.4 0h0m.3 0h0m.3-.1h0m.1-.7h0m.4 1h0m.2-.1h0m.6-.5h0m.2 .2h0m.4-.2h0m.7 .5h0m.4-.3h0m.2-.4h0m.1 .4h0m.7 .3h0m.8-.8h0m.4 .7h0m.1-.1h0m.9-.3h0m0 .1h0m.8 .2h0m.6-.3h0m.3-.1h0m.3 .4h0m1.4 .3h0m-18.2 .6h0m.1 .2h0m0 0h0m.3-.4h0m.1 .5h0m.2 .1h0m.2-.3h0m.1-.6h0m0 .3h0m.2-.2h0m.5 .5h0m.2-.1h0m0 0h0m.1-.6h0m.2 .6h0m.6-.1h0m.4 .5h0m1.3-1h0m.1 .9h0m.2-.4h0m0 0h0m.5-.3h0m.9 .3h0m.4 .3h0m.3-.6h0m.1 0h0m0 .4h0m.3 .3h0m.2-.6h0m0-.1h0m.1 .5h0m0 .3h0m.1-.9h0m.1 .2h0m.5 .3h0m.2-.2h0m.1 .1h0m0 0h0m0-.3h0m.1 .2h0m.5 .5h0m.3-.3h0m.5-.3h0m.5 .4h0m.2-.7h0m.1 .3h0m2 0h0m.1 .7h0m.3-.4h0m.3-.4h0m.1 .3h0m1.2-.3h0m.4 0h0m.1 .7h0m.5-.1h0m.3 0h0m1.1-.7h0m.4 .9h0m.8-.5h0m0-.1h0m.2-.1h0m.3 .3h0m.4 .3h0m-22.2 .2h0m3.3 .8h0m.6-.8h0m0 .2h0m.1 .3h0m.2-.6h0m.1 .8h0m.4-.4h0m0 .6h0m.2-.8h0m.8 .4h0m.1 0h0m.5-.2h0m0-.3h0m.3 .3h0m0 .1h0m.3 .3h0m.2-.5h0m0 0h0m.2 .1h0m.1 .4h0m.3-.1h0m.3 0h0m1.6-.6h0m.1 0h0m.1 .7h0m.2-.4h0m.2 .1h0m.2 .3h0m.4-.2h0m.3-.4h0m0 .2h0m.1 .1h0m0-.4h0m.3 .4h0m.7-.3h0m.1-.1h0m.7 .2h0m1.1 0h0m.1 .2h0m.3 0h0m.3 .4h0m.8-.1h0m.3-.2h0m0-.3h0m.2 .1h0m.2 .5h0m.1-.8h0m.4 .6h0m0-.3h0m.5-.3h0m.6 .8h0m0-.7h0m.5 .1h0m.3 .7h0m.6-.2h0m.1-.1h0m.1-.2h0m.3 .2h0m.3 0h0m0 .1h0m.3 0h0m0-.6h0m.2 .4h0m.3 .2h0m.2-.5h0m.1-.1h0m.6 .7h0m.1-.7h0m-17.7 1.3h0m.1-.3h0m0 .2h0m.4-.4h0m.1 1h0m0-.9h0m.1 .2h0m.3 .2h0m0-.4h0m0 .5h0m0 .1h0m.3-.2h0m.3 0h0m.5 .2h0m.8 .3h0m.8-.7h0m.1-.1h0m.2 .3h0m.1-.2h0m.2 .4h0m.1-.6h0m.1 .8h0m.5-.6h0m.1 .3h0m0 .2h0m.4-.6h0m.3 .1h0m.2 .6h0m0-.1h0m.3-.5h0m.1-.3h0m.2 .4h0m.4-.4h0m.5 .7h0m.1 0h0m.2-.1h0m0 .1h0m.1-.6h0m.1 .3h0m.2-.1h0m.1 0h0m.5 .1h0m1.5-.1h0m.1 .2h0m0-.2h0m.2-.2h0m.1 .7h0m0 .2h0m.5-.6h0m.5 .3h0m.3 0h0m.6-.5h0m1.2-.2h0m.5 .9h0m.1-.8h0m.8 .2h0m.4 .5h0m0-.6h0m.3 .4h0m.6 .2h0m.2-.6h0m.9 .3h0m.4 .4h0m.3-.5h0m.3 0h0m-20.5 .8h0m.1 .6h0m.9-.4h0m.6 .5h0m.6-.4h0m.1-.1h0m.1 .4h0m.1-.1h0m0-.5h0m.2 .2h0m0 .5h0m0-.4h0m.7-.1h0m0-.4h0m.1 .4h0m.1-.4h0m.3 .1h0m.3 .5h0m0-.4h0m0 .5h0m.5-.6h0m0 0h0m0 0h0m.1 .7h0m0-.1h0m.3-.1h0m.3 .2h0m.3-.5h0m.3-.2h0m.2 .4h0m.4 .2h0m.2-.1h0m.1-.1h0m.2 .1h0m.1-.5h0m0 .1h0m.1 .2h0m.2 0h0m.2 .3h0m0-.6h0m.2 .1h0m0 .1h0m.1 .7h0m.5-.7h0m.1 .7h0m.3-.2h0m.2-.7h0m.6 .8h0m.2-.7h0m0 .5h0m.1 .3h0m1.5-.2h0m0-.6h0m.1 .7h0m.1-.4h0m.2 .2h0m.1-.4h0m.4 .6h0m1.6-.3h0m0-.1h0m.1 .3h0m0 .1h0m.3-.4h0m.3 0h0m.4-.3h0m0 .7h0m.4-.6h0m1 .5h0m0 .1h0m.6-.2h0m.4 .2h0m.1-.2h0m.1 .2h0m0-.4h0m0 0h0m.3-.1h0m0 .3h0m.4 .1h0m0-.4h0m.1 .4h0m.1-.5h0m.4 .7h0m.2-.1h0m.1 0h0m.6-.4h0m.1 0h0m.6 .2h0m-20.8 .3h0m.4 .8h0m.1-.1h0m.6 .2h0m.3-.5h0m.3 .2h0m.1-.5h0m.1-.1h0m.1 .8h0m0-.2h0m0-.3h0m.6-.1h0m.5 .1h0m.2 .5h0m.2-.6h0m.1 .7h0m.2-.6h0m.2-.1h0m.1 .2h0m.2 .1h0m.1-.3h0m.1 .6h0m.1-.5h0m.2 .4h0m.9-.3h0m0 .6h0m.8-.1h0m.2-.6h0m.1-.1h0m0-.1h0m.5 0h0m0 .7h0m.2-.4h0m.1-.1h0m.2 .3h0m0-.1h0m0 .3h0m.2-.7h0m0 .5h0m.3-.4h0m.2-.1h0m.1 .6h0m.5-.5h0m.3 .3h0m0 .4h0m.8 0h0m.1 .1h0m.2-.3h0m.6 .2h0m0-.4h0m.5-.1h0m.1 .2h0m0 0h0m.1-.3h0m.6 0h0m.7 .5h0m0-.4h0m.6 .5h0m.4 0h0m.3-.1h0m.2-.4h0m.4 .5h0m.3-.5h0m.1 .4h0m.1 0h0m.1-.2h0m.5-.1h0m.4-.2h0m.1-.3h0m.5 .3h0m.3-.1h0m.1 .5h0m.4 .1h0m.1 0h0m0-.6h0m.4 .3h0m.4-.1h0m.5 .5h0m0-.3h0m0-.1h0m.1 .2h0m.1-.4h0m0 .4h0m0-.7h0m.2 .7h0m0-.3h0m.4 .2h0m.5-.2h0m.4 .2h0m-21.2 .7h0m.5 .6h0m.4-.2h0m.1-.1h0m.4-.4h0m1 0h0m1.2 .8h0m0-.8h0m0 .3h0m.2-.4h0m.2 0h0m.2 .6h0m.3 .3h0m0-.3h0m0 .1h0m0-.2h0m.2-.1h0m.3 .1h0m.8 .2h0m.2 .2h0m0-.7h0m.2-.1h0m.5 .1h0m0 .6h0m.1-.3h0m.3-.2h0m.3 .1h0m.1 .3h0m.1-.7h0m.1 .3h0m.2 .3h0m0 .3h0m.1-.8h0m.1 .6h0m.1-.2h0m0-.1h0m.5 .4h0m0-.8h0m.1 .9h0m.1-.9h0m.2 .7h0m.3-.4h0m.2 .2h0m.7 .1h0m.3-.5h0m.5 .1h0m.1-.3h0m.3 .1h0m.2 .4h0m1-.1h0m0-.3h0m.2 .8h0m0-.8h0m.7 .6h0m.2 0h0m.3-.3h0m.2 .4h0m0-.6h0m.4 .1h0m.2 .2h0m.3 .5h0m.4-1h0m.1 0h0m.7 .4h0m.2 .6h0m.9 0h0m.4-.8h0m.1 .4h0m.3-.2h0m.1-.4h0m.4 .6h0m.4-.4h0m.1 .1h0m.4 0h0m.2 .4h0m0-.6h0m.1 .8h0m.8-.4h0m.1 .1h0m-21.4 1.4h0m1-1h0m.3 .1h0m.1 .1h0m.8 .4h0m.3-.1h0m.2-.1h0m.3 0h0m.2 .4h0m.1-.7h0m0 .1h0m.1 .8h0m.4-.3h0m.3-.6h0m1.9 0h0m.7 .1h0m.1 .2h0m.3 0h0m.2-.1h0m.3-.2h0m.4 .6h0m.1 .2h0m.1-.9h0m.1 .5h0m0 .5h0m.7-.7h0m1.1-.1h0m.4 0h0m.2 .8h0m.6-.5h0m1.1 .4h0m.4-.4h0m.5 0h0m.2-.1h0m.2 .3h0m.2-.4h0m.1 0h0m.1 .7h0m.2-.2h0m0-.2h0m.1 .4h0m.3-.3h0m0 0h0m0 .1h0m.5-.1h0m.5-.7h0m.2 .5h0m0-.3h0m.1-.1h0m0 .5h0m0-.2h0m.3 .2h0m0-.4h0m.3 .3h0m.3-.3h0m.3 .2h0m.4 .5h0m.1-.8h0m.2 .7h0m.6-.7h0m.2 .5h0m.2 0h0m.1-.1h0m.6-.4h0m.1 .7h0m.6 0h0m.6-.3h0m-20.2 .8h0m.2 .1h0m.1 .5h0m.1 0h0m0-.5h0m.1 .5h0m.3 0h0m.5-.5h0m.2 .2h0m.3-.3h0m.3 .5h0m.2 0h0m.6-.4h0m.4-.2h0m.5 0h0m.4-.1h0m.1 .1h0m.1 .1h0m.1-.2h0m.4 .4h0m.1 .1h0m0 0h0m.2-.3h0m.3 .7h0m1 0h0m.5 0h0m.7-.5h0m.3-.5h0m.2 .9h0m.6-.5h0m0-.3h0m2.3 .2h0m.3 .6h0m1.1 0h0m.3 .1h0m.3-.1h0m.1-.6h0m.6 .2h0m.3 .2h0m.2 0h0m.1 .1h0m.3-.3h0m.3 .4h0m.5-.2h0m.1 0h0m.3 0h0m.5-.3h0m.4 .4h0m.1-.4h0m.4 .6h0m.2-.7h0m0 .3h0m.2 0h0m.1-.1h0m.3 .2h0m2.4-.2h0m.6 .4h0m0-.4h0m-22 1.1h0m.2-.5h0m.9 .7h0m.1 0h0m.1-.5h0m.2 .2h0m0-.4h0m0 .4h0m.4-.2h0m.2 0h0m.1 .3h0m.2 .1h0m0-.1h0m.3-.3h0m.7-.1h0m1 .5h0m.5-.3h0m0 .2h0m.1 .3h0m.2 0h0m.2-.6h0m.2 .1h0m.1 .1h0m.4-.2h0m.2 .1h0m.3 .4h0m0-.5h0m.1 .3h0m.4 0h0m0 0h0m.6-.3h0m.7 .5h0m.4-.5h0m.2 .6h0m0-.8h0m.1 .2h0m.5 .1h0m.4 .2h0m.1-.1h0m.3-.3h0m0 .3h0m.7 .5h0m.1-.7h0m.1 0h0m.1 .2h0m.1 .1h0m.1-.5h0m.2 .6h0m0-.5h0m.1 0h0m.7 .7h0m.3-.5h0m.1 0h0m.6 0h0m.4 .4h0m0 .1h0m0-.1h0m.1-.3h0m0-.4h0m.5 0h0m.7 .1h0m.2 .7h0m.4 .1h0m.1-.6h0m.3 .4h0m.4-.1h0m.2-.6h0m.4 .1h0m0 .6h0m.1-.4h0m.1 .3h0m0-.5h0m.2 .4h0m0-.2h0m.3 .3h0m.2-.3h0m.2-.1h0m.7 .2h0m.9 .1h0m.3-.1h0m.1 .2h0m.1-.6h0m.1 .2h0m.5 .1h0m.2 .5h0m.9-.4h0m.5-.4h0m0 .4h0m.3 .4h0m-22.7 .9h0m.2-.5h0m.2 .5h0m.2-.8h0m.2 .7h0m.5 .2h0m.8-.5h0m.2-.2h0m.4 .5h0m0 0h0m.2-.3h0m.1-.3h0m.3 .3h0m0 .4h0m.4-.8h0m.2 .9h0m1.4-.4h0m.1-.4h0m.3-.1h0m.1 .9h0m.3-.8h0m.1 .7h0m.3-.8h0m.8 .5h0m.2-.4h0m.2 .4h0m.1-.2h0m.3 .6h0m.7 0h0m.3-.8h0m.3 .4h0m.1 .4h0m1.5 0h0m.1-.8h0m1.2 .2h0m.3-.3h0m.7 .6h0m.3 .1h0m.1 .2h0m.2-.7h0m0 .8h0m0-.3h0m.1-.1h0m.8 0h0m.1-.1h0m.5 .4h0m1.5-.5h0m.2-.2h0m1.1 .1h0m.2 .3h0m0 0h0m.1-.5h0m.4 .7h0m.1-.8h0m.1 .3h0m.2 .6h0m.6-.2h0m.5-.2h0m.5 .2h0m0-.4h0m.2-.3h0m0 .5h0m.2-.2h0m.3 0h0m0 .5h0m-22.1 .5h0m.1 .3h0m.8-.3h0m0 .1h0m.3-.2h0m0 0h0m.3 .3h0m.2 .4h0m.5-.6h0m.2 .6h0m.2-.4h0m.2-.4h0m.2 .5h0m0 0h0m.3-.6h0m.3 .3h0m.2 .2h0m0 .5h0m.3-.6h0m.1 .4h0m.2 0h0m.2 .1h0m0-.5h0m.3 .1h0m.1-.4h0m.2 .5h0m0 .3h0m.1-.4h0m.2 .4h0m.3-.1h0m.5-.7h0m.7 .2h0m.3 .4h0m1.3-.5h0m.4 .4h0m.6-.4h0m.5 .4h0m.1 0h0m0 .3h0m.1-.7h0m.8 0h0m.2 .6h0m.8-.5h0m.2-.1h0m0 .1h0m.4 0h0m.7 .3h0m.3-.1h0m.2 0h0m.2 .2h0m.1-.5h0m0 .1h0m.1-.1h0m.8 .7h0m.5-.4h0m.3 .1h0m.3-.3h0m.1 .5h0m.6-.7h0m.9 0h0m.1 .1h0m1.6-.1h0m1.5 .6h0m.6-.6h0m.8-.1h0m.4 .9h0m-23.7 1h0m.1 .1h0m.2-.6h0m.2 .2h0m.5-.1h0m.8 .3h0m.2 0h0m.1-.2h0m.1-.5h0m.1 0h0m.4 .4h0m.4 .2h0m.1-.4h0m.1 .3h0m.2 .3h0m.2 .1h0m.1-.9h0m.4 .8h0m.3-.5h0m.1 .6h0m.2-.8h0m.1 .5h0m.2-.2h0m.1 .4h0m.2-.1h0m.1-.7h0m.4 0h0m.2 .8h0m.4-.2h0m.1-.7h0m.4 .5h0m.3 .4h0m.6-.4h0m.6-.5h0m.7 .8h0m.3-.2h0m.5 .2h0m.1 0h0m.2-.7h0m.1 .2h0m.5-.2h0m.7 .1h0m.4 0h0m.4 .3h0m1 0h0m1 .2h0m.5-.3h0m.1 .2h0m.5-.1h0m.1-.4h0m0 .1h0m.9 .5h0m0-.2h0m.4-.2h0m.9 .7h0m.2-.4h0m.2-.3h0m.1 .7h0m.4-.2h0m.5 .1h0m.3-.2h0m.7-.5h0m.3 .6h0m.1-.5h0m.1 .2h0m0-.1h0m.1-.1h0m.6 .2h0m.1 .4h0m.1 .1h0m.1 0h0m.2-.2h0m.2 0h0m.4-.5h0m.3 .6h0m.5 .1h0m.2-.2h0m-23.7 .6h0m.3 .3h0m.3-.5h0m0 .2h0m.2 0h0m.2 .3h0m.1 .2h0m.6-.5h0m.1-.2h0m.6 0h0m.1 .7h0m.2-.5h0m.4-.4h0m.2 .7h0m.2-.6h0m.3 .3h0m.1 .4h0m.1 0h0m.1 .2h0m.1 0h0m.1-.8h0m0-.2h0m.4 .1h0m0 .6h0m.8-.5h0m.1 .1h0m.1-.3h0m0 .2h0m0 .4h0m.1 .2h0m.2 .2h0m.3-.8h0m.2 .8h0m.5-.1h0m.2-.2h0m0-.1h0m.2-.4h0m.2 .4h0m0-.3h0m0 .5h0m.1 .1h0m.9 0h0m.2-.1h0m.1 .2h0m.6-.6h0m.1 .4h0m.1-.4h0m0-.2h0m.1 .5h0m.6 .1h0m.3-.3h0m.1-.2h0m.4-.1h0m.1 .6h0m.6-.3h0m.4 .1h0m.5 .1h0m.1-.6h0m1 .7h0m.1 0h0m.4-.8h0m.1 .3h0m.4 .2h0m.1 .1h0m.3 0h0m.1-.3h0m.1 .3h0m0-.1h0m0-.1h0m.1 .3h0m.8 0h0m.5 .2h0m.1-.3h0m.8-.3h0m.1 .6h0m.3 0h0m.2-.8h0m.4 .8h0m.4-.2h0m.9-.6h0m.4-.1h0m.4 1h0m.1-.5h0m0 0h0m.3-.5h0m.3 .6h0m0-.3h0m.2-.2h0m.4 .2h0m0-.2h0m.1 .7h0m.5-.4h0m.1 .2h0m.6 .2h0m0-.2h0m.5 .2h0m-24.3 .9h0m.6-.1h0m.5-.6h0m0 .4h0m.2 .3h0m.5-.3h0m.6-.3h0m.5 .2h0m.2 .4h0m0-.7h0m.3 .5h0m.1 .2h0m.1-.4h0m.4 .5h0m0 .2h0m.2-.2h0m.1 .2h0m.1 0h0m.1-.7h0m.3 0h0m0-.1h0m.4 0h0m.1 .2h0m0-.4h0m.2 .9h0m.1 0h0m.1 0h0m0-.4h0m.5 .3h0m0-.7h0m.2 .5h0m0 .3h0m.2-.4h0m.1-.5h0m.4 .8h0m.2-.6h0m.4 .1h0m.1 .5h0m.3-.2h0m.6-.3h0m.5-.2h0m.1 .2h0m.3 .3h0m3 0h0m.3-.3h0m1.2 .1h0m.3-.3h0m.3 .7h0m.2-.3h0m1.4-.1h0m.1 0h0m0 0h0m0-.2h0m.1 .7h0m0-.8h0m.4 .5h0m.7-.3h0m.3-.3h0m.3 .6h0m2.1-.2h0m.4-.3h0m.5-.1h0m.1 .4h0m0 .2h0m.9-.2h0m1.3 .6h0m1.8-.3h0m-25.4 .8h0m.2-.5h0m.3 .5h0m.2 .2h0m.1-.3h0m.1 .4h0m.1-.1h0m.3-.6h0m0 .4h0m0 .4h0m.6-.1h0m.1-.6h0m1.4 .1h0m0 0h0m.1-.1h0m.5 .6h0m.1-.4h0m0-.3h0m.3 .2h0m.1-.1h0m.1-.2h0m.2 .7h0m.2 .3h0m.5-.8h0m.2 .2h0m.1 .3h0m.5 .1h0m.1-.3h0m.1-.3h0m.1 .4h0m0 .2h0m.1-.2h0m.3-.4h0m.1 .3h0m1.5 .2h0m.2-.1h0m1.1 .2h0m.3-.7h0m.4 .2h0m.6 0h0m.4-.2h0m.4 .2h0m.7-.2h0m.2 .3h0m.1-.1h0m1-.1h0m.1-.2h0m1.1 .3h0m.1 .1h0m.6 .1h0m.3 .2h0m0 .2h0m.1-.4h0m1-.5h0m.9 .7h0m0 .1h0m.6-.5h0m.4 .2h0m.2-.2h0m1.5 .2h0m.1-.1h0m1.5-.1h0m.1 .2h0m.4 .2h0m1-.6h0m.6 .3h0m-24.6 1.2h0m1.1-.5h0m.5 .6h0m1.8-.5h0m1.3 .6h0m0-.3h0m0 .5h0m.2-.6h0m.1 .5h0m.6-.5h0m.1-.1h0m0 0h0m.2 .5h0m.2-.7h0m.2 .7h0m.1-.8h0m.1 .9h0m.9 0h0m.5-.8h0m1.4 .5h0m.2 .4h0m.1-.3h0m.2-.4h0m1.1 .2h0m.6-.1h0m.4 0h0m.1 .5h0m.3-.9h0m.4 .8h0m.1-.4h0m.1 .5h0m.2-.5h0m.1 .2h0m.5-.5h0m.4 .2h0m1-.2h0m.1 .3h0m1 .2h0m0 .1h0m.2-.5h0m.8 .6h0m.9-.4h0m2.7-.1h0m1.8-.3h0m.1 .7h0m.5-.2h0m0-.1h0m.6-.1h0m.1-.3h0m.4 .5h0m0-.2h0m.4-.1h0m-22.5 1.1h0m1.4 0h0m.7 .4h0m.1 .1h0m.2-.2h0m.2-.4h0m.2 .1h0m.3 .1h0m.1 .4h0m.1 0h0m.2-.1h0m.1 .1h0m.3-.2h0m.4 .2h0m.1 .1h0m0 .1h0m.1-.3h0m.5 0h0m.1 .1h0m.5 0h0m.1-.2h0m2.3 .2h0m.9-.1h0m1-.1h0m.1-.3h0m.6 .4h0m.1-.6h0m0 0h0m.6 .2h0m0 .2h0m.1 0h0m0-.4h0m.2 .6h0m.3-.6h0m.1 .8h0m.4-.5h0m.5-.1h0m.2 .1h0m.3 .4h0m1.1-.3h0m.3 .3h0m.8 0h0m.1-.4h0m.1 0h0m.3-.2h0m2.3-.1h0m0 .2h0m1 .1h0m.7-.3h0m.4 .5h0m.6 0h0m.3-.1h0m.2-.2h0m.1 0h0m0-.2h0m-22.1 1.5h0m1.6-.1h0m2-.4h0m.3 .7h0m.3-.1h0m.4 0h0m.1-.7h0m.4 .2h0m.2 .6h0m0-.3h0m1.2-.1h0m0 .4h0m.1 .2h0m.1-.1h0m.1-.6h0m0 .4h0m1.2-.3h0m.9 .2h0m.5 .3h0m0-.6h0m.4 .4h0m.4 0h0m.3-.6h0m.4 0h0m.4 .4h0m.2 .1h0m.3-.2h0m0 .5h0m.2-.8h0m.4 .4h0m.2 .4h0m.2-.6h0m.8-.2h0m.2 .5h0m.6 .4h0m.2-.6h0m.3 .3h0m.1 0h0m.5-.4h0m.7 0h0m.3 .3h0m.5 .4h0m.1-.1h0m2.2-.7h0m.1 .7h0m.2 0h0m.2-.2h0m.1-.5h0m.2 .5h0m.2-.5h0m.8 0h0m.8 .2h0m-19.9 .8h0m.5 .2h0m0-.1h0m.6-.2h0m.1 .1h0m.3 .2h0m.2 .4h0m.3-.7h0m1.3 .8h0m0-.8h0m.1 .3h0m0 .5h0m.1-.5h0m.2 0h0m.2-.1h0m.4-.3h0m.3 .1h0m.3 .9h0m.9-.2h0m.2 .1h0m0-.6h0m.6 .1h0m0 .4h0m.2-.7h0m1.6 .5h0m.1-.4h0m.4 .2h0m.5 .5h0m.1-.1h0m.1-.7h0m.2 .9h0m.3 0h0m0-.1h0m.3-.3h0m0-.4h0m.2 .8h0m.1-.9h0m.5 .8h0m.6-.5h0m.3-.2h0m.1 0h0m.8 .3h0m.5-.5h0m1.4 1h0m.1-.4h0m.3-.4h0m0 .8h0m1.4-.5h0m1.3 .2h0m.8-.2h0m.1-.1h0m-17.8 1h0m.1 .4h0m.2 .1h0m.2-.5h0m.2-.1h0m.2 .5h0m0-.4h0m.2 .2h0m.1-.1h0m.9 .3h0m.2 .1h0m.2-.5h0m.1 .5h0m.2 0h0m.4-.2h0m.3 .2h0m0-.8h0m.1 .6h0m.1-.6h0m.5 .1h0m.5 .3h0m.1 .2h0m.2-.1h0m1.3-.4h0m.1-.1h0m.2 .7h0m.4-.1h0m.1-.5h0m0 .2h0m0 .1h0m.3 .4h0m.8-.3h0m.2-.3h0m.7 .4h0m0 0h0m.6-.3h0m.9-.1h0m.5 .2h0m0-.1h0m.4-.1h0m.2 .6h0m0-.7h0m2.3 .5h0m.1-.2h0m.2 0h0m1 .2h0m-14.6 .6h0m.5 0h0m0-.1h0m.2-.1h0m0 .2h0m.1 .3h0m.1-.5h0m.1 .5h0m.6 .3h0m.1-.8h0m.1 .4h0m.2 .5h0m0-.9h0m.1 .8h0m0-.5h0m.3-.3h0m.5 .6h0m.2-.3h0m.2-.2h0m.2 .1h0m.3 .3h0m0 .3h0m0-.2h0m.6 .1h0m.3 .1h0m0-.5h0m.3 0h0m.1 .3h0m.1-.2h0m.2 .5h0m.1-.9h0m.2 .2h0m.2 .7h0m0-.8h0m.1 0h0m.3 .7h0m.2 .1h0m.1-.6h0m.4 .5h0m.1-.6h0m.3 .3h0m0 .3h0m.3-.5h0m.2 .2h0m.6 .1h0m0-.3h0m0-.1h0m.1 .1h0m0 .1h0m.4-.1h0m.3-.4h0m.1 .9h0m.3-.3h0m.7 .4h0m0-.4h0m.5-.1h0m1 .4h0m.4-.4h0m1.3 .1h0m-13.1 .9h0m.1-.1h0m2.1-.1h0m.3 .1h0m.1-.1h0m0 .2h0m.4 .1h0m.2-.3h0m1 .6h0m.7-.2h0m.2-.4h0m.7 .1h0m0 .5h0m.8-.6h0m.1 .1h0m.1-.3h0m.8 .5h0m.3-.1h0m.2-.1h0m.3 .4h0m.3-.4h0m.6 .4h0m.8-.4h0m0 .3h0m.3-.5h0m.4 .4h0m0-.4h0m1 0h0m.1 .3h0m.2-.4h0m0 0h0m.7 .1h0m-11.1 1.2h0m1.9 0h0m.1 .1h0m.9-.1h0m.1 .3h0m.1 .3h0m0-.1h0m.6-.2h0m.1-.2h0m.5-.3h0m.8-.1h0m.3 .4h0m0 .2h0m.6-.7h0m.1 0h0m.5 .3h0m.3 .1h0m.7-.2h0m1.1 .2h0m-5.8 .6h0m2.1 .3h0" stroke="#a3a436" stroke-width="1.10" stroke-linecap="round" fill="none" opacity="0.9"/><path d="M170.5 325.5h0m.5 .9h0m.1-.1h0m.4 .4h0m.8 .3h0m0 0h0m-2.1 .4h0m.1-.3h0m0 0h0m.3 .7h0m.6-.5h0m-.9 .7h0" stroke="#a3a436" stroke-width="1.10" stroke-linecap="round" fill="none" opacity="1.0"/><path d="M148.5 319.0h0m.9-.2h0m-2.4 .8h0m.1 .2h0m.4-.2h0m.1-.1h0m0-.2h0m.5 .5h0m1.4-.3h0m.3-.2h0m0 0h0m.4 .6h0m.4 0h0m.3 0h0m.2 .1h0m-4.3 .6h0m.3 0h0m.1 0h0m.3 0h0m.4-.5h0m.2 .5h0m0-.2h0m.2 0h0m.2 .4h0m.1-.7h0m0 .7h0m.7-.1h0m.6 .1h0m.1-.5h0m0 .5h0m.2-.7h0m.2 .6h0m0-.1h0m.2-.3h0m1-.2h0m.6 .9h0m-5.4 .3h0m.2 .4h0m.1-.1h0m.1-.5h0m.1 .8h0m.2-.1h0m.1-.2h0m.1-.4h0m.1 .3h0m0 .3h0m.4 .1h0m.1-.8h0m.3 .2h0m.2 .6h0m.1-.5h0m0 0h0m.5 .1h0m.6-.4h0m.8 .3h0m.2-.2h0m.5 .7h0m-4.4 .4h0m.3 .2h0m.2-.4h0m.1 .5h0m.2-.3h0m0 .2h0m.3 .5h0m.3-.3h0m.3-.1h0m.9 .1h0m.6 .2h0m.1-.4h0m2.2-.1h0m.4-.2h0m.5 .3h0m0 0h0m-6.1 .9h0m.2-.2h0m.2-.1h0m.7 .8h0m.4-.6h0m.3 .7h0m0-.6h0m.1 .5h0m.1-.6h0m.1 .3h0m.1 .2h0m.1-.4h0m.2 0h0m.2 .1h0m.2-.1h0m.4 .4h0m.5-.3h0m.8-.1h0m.3 .4h0m.2-.2h0m.7 .3h0m.1-.2h0m.2-.6h0m.6 .3h0m0-.1h0m.3 .5h0m-5.9 1h0m.3-.5h0m.7 .6h0m.1-.1h0m.4 0h0m.6 0h0m.6 .2h0m.1-.6h0m.3 .6h0m.2-1h0m.4 .3h0m1.2 .2h0m.2 .2h0m.3 0h0m.1-.6h0m-5.8 .9h0m.7 .3h0m.6-.2h0m.1 0h0m.4 .2h0m.1-.1h0m1.4 0h0m0 .6h0m.1-.1h0m.3-.5h0m.3 .7h0m1.1-.1h0m.1 .2h0m.6-.8h0m.1 .1h0m-5.5 .8h0m1.4 .8h0m.2-.9h0m.1 .3h0m0 .3h0m.2-.1h0m.7-.2h0m1.1 .1h0m.1-.3h0m.2 .6h0m.1-.7h0m1.2 .1h0m.2 0h0m1.4 .3h0m-3.2 1.6h0m3-.1h0m0-.4h0m-3.2 1.9h0m1.3 0h0m.3-.1h0m.1 .4h0m1.3-.6h0m-3.9 1h0m1.4 .6h0m.1-.2h0m.8 0h0m.1 .4h0m2.3-.8h0m-3.7 1.7h0m.6-.5h0m2.1 .3h0m.9-.5h0m-3.8 1.5h0m.3 0h0m0 .2h0m0-.7h0m.5 .4h0m1-.3h0m-.7 .9h0m.3 0h0m.6 .2h0" stroke="#a3a436" stroke-width="1.10" stroke-linecap="round" fill="none" opacity="0.9"/><path d="M149.5 339.7h0m1 .3h0m.5-.9h0m-1.4 1.7h0m.1-.2h0m.8-.5h0m-.7 1h0m2.8 .6h0m-3.5 1.3h0m.5-.9h0m2.4 .3h0m.3 .5h0m0-.4h0m.5-.1h0m-3.8 .7h0m.4 .6h0m.6-.2h0m1 0h0m1.2-.4h0m.4 .7h0m0-.6h0m.4 .4h0m-4 1.3h0m.5-.7h0m.6 .1h0m.2 .4h0m.8-.7h0m.9 0h0m1.2 1h0m.5-.5h0m-3 .6h0m2 .8h0m.1-.9h0m.1 .8h0m.2-.5h0m.3-.1h0m-4.7 1h0m1 .7h0m1-.4h0m1.2-.5h0m.3 .7h0m.4-.3h0m.1 0h0m.1 .1h0m.6-.2h0m-3.1 1.3h0m.3-.1h0m.1 .3h0m0 0h0m1.2-.6h0m.1 .2h0m.1 .2h0m0-.5h0m.4 .1h0m-2.4 1.6h0m.1-.5h0m.4 .3h0m.6 .2h0m.2-.5h0m0 .7h0" stroke="#a3a436" stroke-width="1.10" stroke-linecap="round" fill="none" opacity="0.9"/></g>
<ellipse cx="142.8" cy="324.5" rx="47.8" ry="18.9" transform="rotate(40 142.8 324.5)" fill="none" stroke="#ee5058" stroke-width="1.25" stroke-dasharray="7 6"/>
<text transform="rotate(0.05 139.8 293.8)" x="139.8" y="293.8" font-size="7.6" fill="#231f20" textLength="42.4" lengthAdjust="spacingAndGlyphs">Immune MK</text>
<path d="M38.5 267V371.2H184" fill="none" stroke="#231f20" stroke-width="1.35"/><path d="M35.6 295H38.5" stroke="#231f20" stroke-width="1"/><path d="M35.6 324.3H38.5" stroke="#231f20" stroke-width="1"/><path d="M35.6 353.8H38.5" stroke="#231f20" stroke-width="1"/><path d="M63 371.2V374" stroke="#231f20" stroke-width="1"/><path d="M95.8 371.2V374" stroke="#231f20" stroke-width="1"/><path d="M128.6 371.2V374" stroke="#231f20" stroke-width="1"/><path d="M161.4 371.2V374" stroke="#231f20" stroke-width="1"/>
<g font-size="8.2" fill="#333"><text transform="rotate(0.05 33.5 297.6)" x="33.5" y="297.6" text-anchor="end">5</text><text transform="rotate(0.05 33.5 326.9)" x="33.5" y="326.9" text-anchor="end">0</text><text transform="rotate(0.05 33.5 356.4)" x="33.5" y="356.4" text-anchor="end">−5</text><text transform="rotate(0.05 63 385.6)" x="63" y="385.6" text-anchor="middle">−5</text><text transform="rotate(0.05 95.8 385.6)" x="95.8" y="385.6" text-anchor="middle">0</text><text transform="rotate(0.05 128.6 385.6)" x="128.6" y="385.6" text-anchor="middle">5</text><text transform="rotate(0.05 161.4 385.6)" x="161.4" y="385.6" text-anchor="middle">10</text></g>
<g fill="#231f20"><text transform="rotate(0.05 98.7 398.8)" x="98.7" y="398.8" font-size="8" textLength="23.9" lengthAdjust="spacingAndGlyphs">UMAP_1</text><text transform="translate(21.1,332.9) rotate(-89.95)" font-size="9.6" textLength="28.9" lengthAdjust="spacingAndGlyphs">UMAP_2</text></g>
<path d="M228.7 235.1V318.3H311.8" fill="none" stroke="#231f20" stroke-width="1.35"/><path d="M226 258.0H228.7" stroke="#231f20" stroke-width="1"/><path d="M226 280.2H228.7" stroke="#231f20" stroke-width="1"/><path d="M226 303.4H228.7" stroke="#231f20" stroke-width="1"/><path d="M243.2 318.3V321.1" stroke="#231f20" stroke-width="1"/><path d="M261.7 318.3V321.1" stroke="#231f20" stroke-width="1"/><path d="M280.2 318.3V321.1" stroke="#231f20" stroke-width="1"/><path d="M298.7 318.3V321.1" stroke="#231f20" stroke-width="1"/><g font-size="8.2" fill="#333"><text transform="rotate(0.05 243.2 330.0)" x="243.2" y="330.0" text-anchor="middle">−5</text><text transform="rotate(0.05 261.7 330.0)" x="261.7" y="330.0" text-anchor="middle">0</text><text transform="rotate(0.05 280.2 330.0)" x="280.2" y="330.0" text-anchor="middle">5</text><text transform="rotate(0.05 298.7 330.0)" x="298.7" y="330.0" text-anchor="middle">10</text></g><g font-size="8.2" fill="#333"><text transform="rotate(0.05 224 260.6)" x="224" y="260.6" text-anchor="end">5</text><text transform="rotate(0.05 224 282.8)" x="224" y="282.8" text-anchor="end">0</text><text transform="rotate(0.05 224 306.0)" x="224" y="306.0" text-anchor="end">−5</text></g><text transform="rotate(0.05 249.4 232.2)" x="249.4" y="232.2" font-size="9.2" fill="#231f20" textLength="13.8" lengthAdjust="spacingAndGlyphs">BM</text>
<path d="M318.6 318.3H399.4" stroke="#231f20" stroke-width="1.35"/><path d="M331.8 318.3V321.1" stroke="#231f20" stroke-width="1"/><path d="M350.3 318.3V321.1" stroke="#231f20" stroke-width="1"/><path d="M368.8 318.3V321.1" stroke="#231f20" stroke-width="1"/><path d="M387.3 318.3V321.1" stroke="#231f20" stroke-width="1"/><g font-size="8.2" fill="#333"><text transform="rotate(0.05 331.8 330.0)" x="331.8" y="330.0" text-anchor="middle">−5</text><text transform="rotate(0.05 350.3 330.0)" x="350.3" y="330.0" text-anchor="middle">0</text><text transform="rotate(0.05 368.8 330.0)" x="368.8" y="330.0" text-anchor="middle">5</text><text transform="rotate(0.05 387.3 330.0)" x="387.3" y="330.0" text-anchor="middle">10</text></g><text transform="rotate(0.05 330.7 232.2)" x="330.7" y="232.2" font-size="9.2" fill="#231f20" textLength="32.3" lengthAdjust="spacingAndGlyphs">Embryo</text>
<path d="M228.7 348.1V431.3H311.8" fill="none" stroke="#231f20" stroke-width="1.35"/><path d="M226 371.0H228.7" stroke="#231f20" stroke-width="1"/><path d="M226 393.2H228.7" stroke="#231f20" stroke-width="1"/><path d="M226 416.4H228.7" stroke="#231f20" stroke-width="1"/><path d="M243.2 431.3V434.1" stroke="#231f20" stroke-width="1"/><path d="M261.7 431.3V434.1" stroke="#231f20" stroke-width="1"/><path d="M280.2 431.3V434.1" stroke="#231f20" stroke-width="1"/><path d="M298.7 431.3V434.1" stroke="#231f20" stroke-width="1"/><g font-size="8.2" fill="#333"><text transform="rotate(0.05 243.2 443.0)" x="243.2" y="443.0" text-anchor="middle">−5</text><text transform="rotate(0.05 261.7 443.0)" x="261.7" y="443.0" text-anchor="middle">0</text><text transform="rotate(0.05 280.2 443.0)" x="280.2" y="443.0" text-anchor="middle">5</text><text transform="rotate(0.05 298.7 443.0)" x="298.7" y="443.0" text-anchor="middle">10</text></g><g font-size="8.2" fill="#333"><text transform="rotate(0.05 224 373.6)" x="224" y="373.6" text-anchor="end">5</text><text transform="rotate(0.05 224 395.8)" x="224" y="395.8" text-anchor="end">0</text><text transform="rotate(0.05 224 419.0)" x="224" y="419.0" text-anchor="end">−5</text></g><text transform="rotate(0.05 249.8 345.2)" x="249.8" y="345.2" font-size="9.2" fill="#231f20" textLength="44.1" lengthAdjust="spacingAndGlyphs">Adult lung</text>
<path d="M318.6 431.3H399.4" stroke="#231f20" stroke-width="1.35"/><path d="M331.8 431.3V434.1" stroke="#231f20" stroke-width="1"/><path d="M350.3 431.3V434.1" stroke="#231f20" stroke-width="1"/><path d="M368.8 431.3V434.1" stroke="#231f20" stroke-width="1"/><path d="M387.3 431.3V434.1" stroke="#231f20" stroke-width="1"/><g font-size="8.2" fill="#333"><text transform="rotate(0.05 331.8 443.0)" x="331.8" y="443.0" text-anchor="middle">−5</text><text transform="rotate(0.05 350.3 443.0)" x="350.3" y="443.0" text-anchor="middle">0</text><text transform="rotate(0.05 368.8 443.0)" x="368.8" y="443.0" text-anchor="middle">5</text><text transform="rotate(0.05 387.3 443.0)" x="387.3" y="443.0" text-anchor="middle">10</text></g><text transform="rotate(0.05 341.3 345.2)" x="341.3" y="345.2" font-size="9.2" fill="#231f20" textLength="41.2" lengthAdjust="spacingAndGlyphs">Fetal lung</text>
<g fill="#231f20"><text transform="rotate(0.05 299.6 455.4)" x="299.6" y="455.4" font-size="8.6" textLength="28.9" lengthAdjust="spacingAndGlyphs">UMAP_1</text><text transform="translate(210.2,341.5) rotate(-89.95)" font-size="8.8" textLength="29.5" lengthAdjust="spacingAndGlyphs">UMAP_2</text></g>
<g><path d="M248.6 240.8h0m-1 .3h0m.5 .5h0m.1 0h0m-2.3 1.4h0m2.2-.2h0m.5 0h0m.6-.4h0m.7 0h0m-4.5 1h0m4.8 1.2h0m-8.1 .9h0m1.6 0h0m-.5 1.2h0m3.5-.2h0m1.8 .1h0m.1 .2h0m1.9 .1h0m-11.3 1h0m2.6 .4h0m.7-.1h0m.5 .7h0m1.3 0h0m.7-.2h0m-2.8 .8h0m7.7 .4h0m3.7-.5h0m-13.1 1.4h0m.2-.7h0m2.3 0h0m.8 .3h0m1.6 .1h0m1-.4h0m.3-.1h0m.7 .5h0m2.8 0h0m4.5 .1h0m-14.7 .7h0m.1 .3h0m2.4 .2h0m4.5-.7h0m1.9 .9h0m-10.7 .1h0m2.1 .5h0m2.1-.3h0m.7 .4h0m1 .2h0m9.2-.5h0m-6.6 .9h0m1.5 0h0m4.8 .7h0m.6 0h0m.1-.1h0m.4 0h0m.1-.2h0m.2 .1h0m.6 .1h0m-13.2 1h0m1.7 0h0m8.8-.4h0m.3-.4h0m0 0h0m0 .8h0m.3-.6h0m.2 0h0m.3 .3h0m.2-.6h0m.2 .5h0m.2-.3h0m1-.2h0m-5.1 1.4h0m.4 .2h0m.4-.4h0m2 .3h0m.4 .2h0m.4-.7h0m.5 .3h0m.4-.3h0m.4 .6h0m.2-.1h0m.6 .4h0m.3-.1h0m1-.2h0m-11.7 .6h0m2.9 .4h0m1.1 0h0m.6-.2h0m3.2-.3h0m.7 .1h0m.4 .5h0m.3-.7h0m0 .7h0m0-.3h0m-4.9 1.1h0m.5 0h0m.3-.1h0m.9 .3h0m1.2 .1h0m1-.5h0m-3.4 .7h0m-13.1 3.3h0m1 0h0m.1 0h0m.3 .5h0m-2.3 .9h0m.8 0h0m-.4 .5h0m.5-.1h0m.4 .7h0m1.4-.7h0m-.8 1.8h0m1.1 0h0m-.5 .2h0m2.3 .6h0m0 .7h0m1.5 .2h0m.3 0h0m2-.1h0m-3.9 1.4h0m3.4 0h0m1.5-.2h0m-4.9 .4h0m.1 0h0m.1 .3h0m2.7-.2h0m3.5 .2h0m0 .4h0m2 .1h0m.1-.7h0m-9.2 1.3h0m6.9 .2h0m2.2-.5h0m.7 .1h0m.7 0h0m.5 .6h0m1.3 .4h0m1.2 .5h0m-2.4 .5h0m.8 .3h0m1.5-.4h0m1.5 .7h0m.3-.4h0m-.2 1.7h0" stroke="#2cb274" stroke-width="1.44" stroke-linecap="round" fill="none" opacity="1.0"/><path d="M264.4 240.8h0m-6.1 .9h0m.3-.1h0m2.4 .1h0m3.1 .2h0m.9-.1h0m-8.7 .8h0m1 0h0m2.6 0h0m1.3-.1h0m1.8-.4h0m-6.5 1h0m6.9 .9h0m.1-.9h0m.4 .8h0m2.1-.5h0m-12.3 1h0m.3 .5h0m2.4-.6h0m1.2 .5h0m2.7 0h0m1.3 .1h0m1.9-.5h0m-8.3 1.2h0m2.3-.5h0m6.6 .4h0m.1 .5h0m-10 .4h0m.8 0h0m1.2 .2h0m9 .4h0m-7.9 .9h0m.5-.7h0m2.3 .7h0m2.5-.7h0m2.2 .5h0m-10.6 .9h0m.4 0h0m.6 0h0m.6 0h0m3-.2h0m0-.1h0m3.7-.2h0m1-.1h0m.6 .6h0m-8.6 .8h0m.3 .4h0m.4-.3h0m5.9-.2h0m-5.8 1.6h0m.6-.4h0m4.3-.1h0m-4 .7h0m1 0h0m3.6 .2h0m2.4 .6h0m.9 .8h0m.2 .4h0m.6 .3h0m-.5 1.5h0m2-.3h0m.1 1.4h0m.7 .8h0" stroke="#bf71bc" stroke-width="1.44" stroke-linecap="round" fill="none" opacity="1.0"/><path d="M268.4 259.8h0m1.4 .4h0m1.1 .7h0m-2.9 .5h0m.3 .1h0m.2-.2h0m.5 .5h0m0 0h0m.1-.5h0m1.1 .3h0m.1-.4h0m1.1 .6h0m.2-.6h0m1.1 .4h0m-5 .7h0m.5-.3h0m1.2 .2h0m.4 .5h0m.1-.7h0m1 .1h0m.1 .6h0m.1-.3h0m.3 .6h0m.3-.1h0m.9-.2h0m.4-.7h0m9.1 .8h0m.9-.2h0m-11.2 1.2h0m1.5-.2h0m.3 0h0m.4 .2h0m2.2 .1h0m1.5-.7h0m1.3 .8h0m.3-.2h0m.3-.1h0m1.9 .2h0m.9-.1h0m2.7 .1h0m-17.9 .7h0m1.2-.6h0m1.9 .9h0m.3-.7h0m.1 .4h0m.2-.5h0m.1 .3h0m.2-.2h0m1.6 .5h0m2.5-.4h0m1.5-.2h0m0 .2h0m.8 .2h0m0 0h0m1.2-.2h0m.5 .3h0m.1-.4h0m.1-.1h0m.5 .9h0m.5-.5h0m1.5 .4h0m.7-.6h0m.1 0h0m1 .4h0m-16.5 .9h0m.2 0h0m.2-.2h0m.4-.3h0m0 .4h0m.5-.1h0m.1 .2h0m.5 .4h0m1.3-.9h0m1.2 .8h0m.4 0h0m.2-.2h0m1.1-.4h0m.1 .2h0m.9-.5h0m0 .9h0m.6 0h0m.2-.3h0m6.7-.3h0m.5 .4h0m1.9-.7h0m.4 .8h0m.4-.4h0m.2-.3h0m.6 .9h0m.2-.4h0m0 .3h0m.2 .1h0m.8-.5h0m-20.7 1h0m.4 .2h0m.9-.7h0m.8 .5h0m1.8 .1h0m.2 0h0m.2-.4h0m.3-.1h0m.1 .8h0m.1 0h0m.1-.6h0m1.1 .3h0m.9 .2h0m.3 .1h0m.1-.4h0m.3-.3h0m.1 .5h0m.6-.5h0m.1-.1h0m.3 .7h0m.2-.5h0m.5-.1h0m.2 0h0m.1 .3h0m1.7-.4h0m8.3 .5h0m.7-.4h0m-21.5 1.6h0m1.5-.1h0m.6-.4h0m.3-.2h0m1.3 .7h0m.5-.1h0m1-.6h0m1 .7h0m2.5-.7h0m1.3 .3h0m.9-.4h0m1.3 .1h0m8.9 .4h0m.5 0h0m0 .4h0m.4-.1h0m-23.1 .8h0m.2-.2h0m.4 .4h0m.1-.7h0m.4-.1h0m1.2 .3h0m3.4 .5h0m.7-.7h0m.4 .2h0m.5 .1h0m.6 0h0m.1 .3h0m.1-.7h0m1 .5h0m.8-.1h0m1.7-.2h0m.1 0h0m11.9 .8h0m-24.2 .8h0m.4-.4h0m.2 .2h0m1.7-.4h0m.7 .6h0m4.5-.6h0m.1 .5h0m2-.5h0m.3 .6h0m.3-.7h0m.5 .2h0m0-.1h0m1 0h0m11.4 0h0m.2-.1h0m-23 1.7h0m1 .1h0m.3-.5h0m.1 .3h0m4.9 .1h0m1.4-.5h0m.8-.2h0m1.8 .5h0m.4 .1h0m.5-.5h0m.8 .6h0m.2-.6h0m.3 .2h0m10.4 .2h0m.3 .3h0m.9-.8h0m-26.6 1.8h0m.3-.4h0m1.4-.5h0m.1 .4h0m10.8-.3h0m1 .8h0m0-.7h0m.4 .4h0m11.6-.2h0m2.3-.1h0m-31 1.3h0m1.2 .3h0m.3 .1h0m.3 0h0m1.4-.7h0m1.3 0h0m1.5 0h0m10.3 .1h0m.4-.2h0m.6 .3h0m.6-.5h0m.2 .9h0m.1-.7h0m.6 .4h0m12.2-.1h0m-33.4 1h0m.3 .3h0m2.4-.7h0m.4 .3h0m.2-.2h0m.6 .8h0m.3-.4h0m.3-.5h0m.1-.1h0m0 .6h0m14.5-.3h0m1 .1h0m.4 .6h0m.5-.4h0m.2 .2h0m9.7-.1h0m2 .1h0m-31.6 .6h0m1-.4h0m.5 .3h0m16.7 .2h0m.6 0h0m1.3 .5h0m10.6-.9h0m1.2 .8h0m-34.4 1.1h0m1.2-.9h0m1.1 .2h0m1.1-.1h0m1 0h0m.1-.1h0m17 .2h0m1.8 .1h0m8.2-.1h0m.7-.3h0m-31.6 1.9h0m.4-.9h0m.4 .8h0m0-.4h0m0 .2h0m.5 .3h0m.6-.6h0m.1-.2h0m18.2 .8h0m1-.8h0m.2 .1h0m.2 .7h0m10.1-.5h0m0-.3h0m-31.9 1.7h0m2.1-.7h0m19.6 0h0m.8 .3h0m8.5 .2h0m.8-.3h0m.7 .3h0m-32.8 1.3h0m.8-.6h0m19.7 .6h0m.6-.1h0m1.1-.7h0m.1 0h0m8.3 .1h0m.7 .7h0m-30.1 .8h0m21.3-.1h0m.1 .1h0m.3-.3h0m.2-.2h0m.5 .6h0m5.4-.4h0m1.6 .1h0m.7-.2h0m-8 1.6h0m1.8 .1h0m4.7-.5h0m.2 0h0m-7.2 .9h0m1-.2h0m.3 .1h0m.4 .6h0m1.4-.7h0m.4 .7h0m2.3-.4h0m1.6-.5h0m-6.7 1.4h0m1-.2h0m.4 0h0m.8 .3h0m.4 0h0m1.3-.1h0m1.8 0h0m.3 .5h0m-4 .6h0m2.5 .4h0m-27.3 6.8h0m-2.3 1h0m1-.2h0m1.6-.1h0m0 .4h0m-1.2 .6h0m1.6-.1h0m.6 .5h0m.3-.2h0m.3 .3h0m-1.6 .2h0m1.4 1.1h0" stroke="#24a4e4" stroke-width="1.44" stroke-linecap="round" fill="none" opacity="1.0"/><path d="M240.9 276.0h0m11.6 1.7h0m.6 0h0m2.5-.1h0m-12.3 1.1h0m1.2 .2h0m0-.8h0m6.6 .2h0m2.1 .1h0m1-.3h0m.4 .1h0m.3 .6h0m1.4-.1h0m-21.6 .8h0m8.7 .4h0m5.8-.6h0m.9-.2h0m.4 .1h0m1 .7h0m.3-.3h0m.6-.3h0m.2 .3h0m2.1-.1h0m.1-.5h0m.5 .1h0m.3 .7h0m0-.6h0m0-.2h0m.8 .3h0m-18.1 1.5h0m1.7-.1h0m10.1-.3h0m.3-.1h0m.1 0h0m.7 .2h0m.1 .4h0m.7-.4h0m.8 0h0m.7-.2h0m.7 0h0m.6 .3h0m1.3-.2h0m.3 .1h0m-20.8 .6h0m1.9 .3h0m.5 .4h0m13-.3h0m.1 .2h0m.2 .3h0m.4-.3h0m1.6 .1h0m.3-.6h0m.2-.1h0m.5 0h0m1.3 .3h0m.3-.1h0m.9 .3h0m-16.3 1.3h0m5-.8h0m4.7 .3h0m1.2-.1h0m.1 .6h0m0-.3h0m.1-.2h0m.6 0h0m3.9 .1h0m.5-.5h0m-3.7 1.2h0m0 0h0m.5 .4h0m.3-.3h0m.8 .1h0m.2-.1h0m.1 .3h0m.6 .1h0m.5 .1h0m-13.7 .2h0m3.8 .8h0m3.2-.8h0m1.1 .8h0m.3-.3h0m0 .1h0m.9 .2h0m.2-.2h0m0-.3h0m3.3 .1h0m.1-.4h0m.2 .1h0m1 .7h0m-22 .4h0m.3 .7h0m9.6-.7h0m.9 .2h0m.2 .1h0m.5 .4h0m.9 0h0m4.1-.5h0m1.6-.3h0m1 .6h0m1.4 0h0m.1-.1h0m.6 .3h0m.2-.8h0m-19.6 1.6h0m.1-.1h0m3.8 0h0m.5 .1h0m2.2-.1h0m.5 .2h0m3.9 .1h0m2.4-.1h0m.5 .1h0m.4-.4h0m.9-.3h0m1.3 .6h0m0 .2h0m1-.2h0m.9-.4h0m0 .4h0m.2-.7h0m-21.4 1.1h0m16.8-.1h0m.1 .4h0m1.1-.3h0m0-.2h0m1.4 .2h0m.2 .7h0m.2-.6h0m1.1-.1h0m.3-.1h0m.3 .7h0m.1-.7h0m.3 .5h0m-22 1.4h0m3-.6h0m6.5 .6h0m3.4-.5h0m4.3-.1h0m.7 .3h0m.4-.3h0m.9 .2h0m.3 .1h0m1.1-.3h0m-11.5 1.3h0m3.7 .1h0m5.4 0h0m.6-.2h0m1.6 .1h0m-9.7 1h0m2.6-.2h0m1.3-.2h0m-5 .7h0m2 .3h0m-7.8 .9h0m1 .1h0m1.5 .6h0m11-.2h0m-16.2 .7h0m2.1 .3h0m10.9-.6h0m3.6 .7h0m-17 .4h0m3.5 .4h0m-1.6 .6h0m3.6-.1h0m12.1 .3h0m-16.4 .6h0m9.2 .7h0m5-.3h0m0-.2h0m-13 .8h0m6.5 .8h0m2.6-.6h0m.3 .2h0m1.2 .4h0m-8.1 .3h0m1.4 .4h0m4.8-.1h0m-5.7 2.5h0m3.1-.3h0m10.3-.2h0m-12.4 1.3h0m3 1.5h0m7.9 1.7h0m-1.6 1.2h0" stroke="#f3716b" stroke-width="1.44" stroke-linecap="round" fill="none" opacity="1.0"/><path d="M290.6 279.0h0m1.7 4h0m8.7 15h0" stroke="#a3a436" stroke-width="1.44" stroke-linecap="round" fill="none" opacity="1.0"/><path d="M336.2 240.9h0m.3 0h0m1.4-.2h0m.1 .2h0m1.4 0h0m.1-.3h0m.6 .3h0m.3-.1h0m.2-.6h0m.2 .6h0m.3-.5h0m-7 1.6h0m.5 .1h0m.5-.1h0m0 0h0m.8-.4h0m0 .2h0m.2-.5h0m.3 .4h0m1.9 0h0m.7 .2h0m.1 0h0m1-.2h0m.5-.4h0m2 .8h0m-8.5 1h0m.5 0h0m.2-.7h0m.3 .4h0m.4-.3h0m.1 .3h0m.4-.3h0m.9-.1h0m.2 0h0m.1-.2h0m.1 .5h0m3.5 .1h0m0-.5h0m.2 .1h0m1 .3h0m.4-.2h0m-8.2 .8h0m.8 .5h0m.4-.7h0m.1 .4h0m.2 .3h0m.8-.2h0m.2 0h0m.6-.1h0m1 .4h0m.1-.6h0m1.5 .3h0m.8 .3h0m.5-.2h0m.3 .4h0m.1 0h0m.1-.6h0m.2 .3h0m.3 .3h0m.3-.3h0m.7 .2h0m.3-.2h0m-11.8 .9h0m.6-.1h0m.2-.3h0m.2 .1h0m.4 .7h0m.1-.8h0m.3-.1h0m.3 .7h0m.2-.1h0m.4-.1h0m.6-.4h0m.9 0h0m.1 .4h0m.5 0h0m.2-.1h0m.7 .4h0m.3-.1h0m.1-.6h0m.9 .3h0m0-.2h0m.2 0h0m.6-.2h0m.1 .9h0m0-.8h0m.1 .8h0m.4-.1h0m1-.2h0m.2-.3h0m.6 0h0m.2-.2h0m.4 0h0m.4-.1h0m-11.7 1.9h0m.4-.7h0m2-.2h0m.9 .7h0m.8 0h0m.3-.6h0m.7 .6h0m.1 .2h0m0-.2h0m.8-.4h0m.1-.1h0m.6-.2h0m.2 0h0m.2 .7h0m.4-.6h0m.4 0h0m.5 .5h0m.4-.3h0m.3 .4h0m.1-.3h0m.4 .1h0m.3-.2h0m.5 .3h0m1.1 .1h0m.2 0h0m-11.6 .5h0m1.1 .4h0m.5-.3h0m.1-.2h0m.4 .1h0m0 .4h0m0-.4h0m0 .3h0m1-.1h0m.6 .3h0m.7-.6h0m.4-.2h0m.4 .4h0m.3-.4h0m.7 .3h0m1.6 0h0m.8-.2h0m1.4 .1h0m.3 .4h0m.1-.2h0m.1 .1h0m0 .5h0m.3-.7h0m-11.3 1.2h0m.3 .4h0m.6-.9h0m.8 .6h0m0-.5h0m.2 0h0m.1 .7h0m.1-.4h0m.3-.1h0m.1 .6h0m.2-.2h0m.3 .1h0m.1-.5h0m.3-.1h0m.1-.2h0m.3 .1h0m.1 .3h0m.7 .3h0m0-.1h0m.1-.1h0m.5 .3h0m.8 .1h0m0-.1h0m1.9 0h0m.4-.4h0m.2-.3h0m.4 .1h0m.1 0h0m0 .1h0m.7 .4h0m.1-.1h0m0-.1h0m.2 0h0m.3 .3h0m1.1 0h0m.5-.3h0m-12.3 .6h0m.1 .1h0m.9 .6h0m1.8 0h0m.1 0h0m.1-.1h0m.5 .3h0m.2-.2h0m.9-.4h0m.1 0h0m.1-.3h0m1.1 .8h0m.1-.8h0m.5 0h0m.4 .9h0m.4-.4h0m1 .3h0m0-.9h0m.6 .7h0m.2-.6h0m.1 .1h0m1.7 .3h0m.3 .1h0m.1-.1h0m-11.5 .8h0m.3-.2h0m.4 .3h0m.5 .2h0m0 .3h0m0-.2h0m.6-.7h0m.1 .4h0m.5 .1h0m.1 .3h0m1.1 0h0m.5 0h0m.2 .2h0m.8-.4h0m0 0h0m1-.3h0m0 .3h0m.6 .3h0m0-.9h0m.4 .7h0m.2-.3h0m.5 .5h0m.5 .1h0m.7-.4h0m.2-.4h0m.2 .4h0m.1-.2h0m.1-.4h0m.8 .3h0m1.1 .2h0m-12.8 1.4h0m.9-.7h0m.4 .6h0m1.3-.7h0m.2 .3h0m.4-.3h0m0 0h0m.1 .4h0m1.1 .1h0m.8 .2h0m1.4-.8h0m.4 .5h0m1.4 0h0m.4-.3h0m1.4 .4h0m.1-.4h0m.1 .2h0m.8 .5h0m.5 0h0m-11.3 .7h0m.4 .2h0m.5-.1h0m2.5-.6h0m.2 .3h0m.5 .4h0m.7-.2h0m.1-.5h0m.4 .2h0m.9 .6h0m1.9-.7h0m.4 .2h0m.9-.2h0m1.3 0h0m.1 .6h0m0 .1h0m.1-.7h0m.1 .6h0m.5-.2h0m.2-.4h0m.7 .5h0m-13.4 1h0m.5 .2h0m.3-.3h0m.8-.3h0m.1 .5h0m.3 0h0m0-.2h0m.3 .3h0m.5-.3h0m.1-.1h0m.1 .1h0m.4 0h0m.5-.4h0m2 .4h0m.1-.5h0m0 .4h0m.2 .5h0m0-.8h0m.5-.2h0m1.4 .9h0m.4-.1h0m.5-.2h0m0-.5h0m.1 .7h0m.2-.3h0m.8-.2h0m1.1 0h0m.3-.2h0m.2 .5h0m.5-.5h0m-12.8 1.7h0m0-.3h0m.1 0h0m.8-.2h0m.6 0h0m1.2 .5h0m.6 0h0m.6-.4h0m.1 .2h0m.1 0h0m.3-.4h0m.4-.2h0m.2 .8h0m.3 .1h0m.7-.1h0m.4-.7h0m0 .7h0m.1-.5h0m.8 .5h0m.6-.3h0m1.4 0h0m.4-.1h0m.7 .2h0m.9-.2h0m.6-.1h0m.4 .4h0m.3-.1h0m.1-.4h0m.4 .8h0m-13.6 1h0m.2-.7h0m.4 .3h0m.1 .2h0m.2 .1h0m.1-.5h0m.2-.2h0m1.2 .4h0m.1 .2h0m.3-.3h0m0 0h0m.1-.5h0m.8 .6h0m.1-.1h0m.6-.4h0m.4 .7h0m.3 .1h0m.2-.5h0m.3 0h0m.3-.3h0m1.2 .5h0m.6-.4h0m.3 .6h0m.7-.6h0m.1 .5h0m.1 0h0m1.5 .3h0m1.5-.2h0m.3-.2h0m0 .2h0m.7-.2h0m-12.8 .7h0m0-.1h0m.4 .1h0m0 0h0m1.4-.3h0m.6 .6h0m.4 .4h0m0-.3h0m1 .2h0m1.1-.2h0m.7-.2h0m.3 .1h0m1.3-.1h0m.3-.1h0m.5-.4h0m.2 .3h0m1.7 .3h0m.8-.1h0m.2 .2h0m1.4-.4h0m1 .4h0m-14.1 1h0m.3-.1h0m.3-.5h0m1.1 .5h0m1.1-.1h0m.2 .2h0m.4 .1h0m0-.6h0m.8 .7h0m.1 0h0m.5-.2h0m.9-.4h0m.3 .5h0m0-.6h0m.4 .7h0m.5-.7h0m.2 .3h0m.8 .2h0m1.4-.4h0m0-.2h0m.2 .6h0m.1-.2h0m1.3-.2h0m0 .5h0m.1 0h0m.5 .2h0m.1-.9h0m0 .9h0m.4-.4h0m.5-.3h0m.3 .5h0m1 0h0m-14 1h0m.2-.8h0m.9 .6h0m.2 .3h0m.3-.1h0m.7-.1h0m.3 .2h0m.2-.4h0m.4 0h0m0 .1h0m.5-.1h0m.4 .1h0m.2 .1h0m.2-.5h0m.7 .3h0m.6-.1h0m0 0h0m2.9 .3h0m.5 0h0m.3 .2h0m.9-.8h0m.7 .2h0m.4 .3h0m.5-.1h0m.1-.4h0m.4 .3h0m.5 0h0m.1-.3h0m.1 0h0m-12.6 1.7h0m.6-.5h0m.1-.1h0m0 .3h0m.3-.4h0m.4 .1h0m.1 .4h0m.6 0h0m.5-.4h0m.2 .2h0m.4-.3h0m1.4 .4h0m.1-.2h0m1 .4h0m.4-.3h0m.4-.1h0m.4 .6h0m.6-.4h0m.1 .1h0m.1 .2h0m.1 .1h0m.1-.2h0m0-.5h0m.6 .7h0m.2-.6h0m0 0h0m.4 .2h0m.1 .2h0m.1 .2h0m1.4-.5h0m0 .2h0m.5-.2h0m.7 0h0m1.6-.4h0m-14.6 1.6h0m.3-.2h0m.1 .6h0m.7-.6h0m.2 .4h0m.6 .1h0m.1-.3h0m.2-.4h0m.2 .8h0m.5-.4h0m.4 .3h0m.2-.7h0m.3 0h0m1.8 .8h0m2-.6h0m.1-.2h0m.9 .1h0m.4 .1h0m0 .4h0m1-.5h0m1 .5h0m.5-.6h0m.1 .7h0m.1-.6h0m1.3 .4h0m0-.3h0m.7-.3h0m.5 .2h0m-13.7 .9h0m.2 .1h0m.9 .6h0m.1 0h0m.7-.1h0m.7-.6h0m.2 .4h0m.2-.4h0m0-.1h0m.4 .6h0m.2 0h0m.3 .3h0m.5-.2h0m.6-.2h0m0 .3h0m.5-.2h0m.1-.5h0m.1 .1h0m1 .1h0m.3 .1h0m.5-.1h0m.7 .2h0m.7-.3h0m0 .6h0m.1-.6h0m.5 .5h0m.1-.6h0m.8-.2h0m.6 1h0m1.1-.3h0m.1 0h0m-13.6 1.3h0m0-.4h0m.2-.4h0m.3 .6h0m.2-.3h0m.1 0h0m0 .1h0m.1-.1h0m0-.1h0m1.1 0h0m.6-.3h0m1.6 .1h0m.2-.1h0m0 .7h0m.9-.2h0m.2 .4h0m.6-.2h0m.1 0h0m0 0h0m1.2-.6h0m1 .5h0m.9-.4h0m.4 .3h0m1.3 0h0m.2-.4h0m.4 .3h0m.1-.3h0m.2 0h0m1.9 .3h0m.7 .3h0m.4-.6h0m.2 .4h0m.5-.2h0m-15.4 1.4h0m.7 .1h0m1.8 0h0m.3-.3h0m.4 0h0m.1-.4h0m.2 .3h0m1 0h0m.2-.4h0m0 .3h0m.1-.4h0m.1 .2h0m.1 .3h0m1.8 .3h0m0-.3h0m0 .5h0m1.3-.4h0m.1-.1h0m.9 .2h0m.1-.3h0m1.5 .4h0m1 .2h0m.2-.1h0m1.1 .1h0m1.3-.9h0m.1 .3h0m.1-.1h0m.7-.1h0m.1 .3h0m-15.4 .6h0m.6 0h0m1.4 .7h0m.3-.7h0m1.4-.1h0m.5 .6h0m.2-.5h0m.6 .7h0m0-.1h0m.1-.4h0m0-.3h0m.1 .2h0m.9-.1h0m.2 .1h0m.1 .2h0m.2 .3h0m.6-.6h0m.4 0h0m.3 .4h0m.1 0h0m.9 .3h0m.3-.3h0m1.4-.1h0m1.7 .4h0m0-.1h0m0 .2h0m.7-.6h0m.2 .2h0m.1-.5h0m.4 .3h0m0-.3h0m.9 .4h0m1.1 0h0m-16.4 1h0m.7-.1h0m1.3-.1h0m.6-.1h0m.3 .6h0m0-.1h0m.5-.2h0m0 .5h0m1.4 0h0m1.1-.5h0m.3-.1h0m.6 .5h0m.1-.8h0m.3 .5h0m.6 .3h0m.1-.4h0m.2 .3h0m0 0h0m.4-.3h0m.4-.2h0m0 0h0m.2 .5h0m.7-.6h0m.3 .1h0m.5-.1h0m.8 .8h0m.3-.1h0m.1-.3h0m1.2 .2h0m.3-.1h0m.3 .3h0m.3 0h0m.6-.6h0m.6 .2h0m.5 .4h0m-15.8 .4h0m.4-.1h0m0 .4h0m.9 .3h0m.1-.7h0m.6 .5h0m.3-.1h0m.3-.3h0m1 .2h0m.4-.2h0m.4-.2h0m.7 .4h0m.1 .3h0m.2-.7h0m.8 .4h0m1.3-.4h0m.5-.1h0m.1 .6h0m.4-.3h0m0 .5h0m0 .1h0m.5-.8h0m.9 .1h0m.4 .7h0m.4-.9h0m1.1 .6h0m.4-.4h0m.4-.1h0m1.5 .4h0m1.3-.4h0m.7 .8h0m.1-.3h0m-15.7 1.4h0m.8-.2h0m0-.4h0m.2-.4h0m1.3 .7h0m1.4-.5h0m2-.1h0m.2 .8h0m.3-.5h0m0-.4h0m.5 .9h0m.6 0h0m.5-.3h0m.4-.3h0m.5 .2h0m.8-.4h0m1.6 .3h0m0 .4h0m.1-.8h0m.7 .9h0m.5-.1h0m.6-.8h0m.3 .3h0m.4 .3h0m.2-.4h0m2 .2h0m-16.8 1.3h0m.9-.4h0m.2 .1h0m.7 .3h0m.3 0h0m.3 .2h0m.1-.6h0m1.1 0h0m.5 .2h0m.2-.4h0m.8 .7h0m0-.1h0m.4-.1h0m.3 .1h0m.1-.7h0m0 .7h0m1-.1h0m.4-.5h0m.4 .6h0m.3-.7h0m.3 .7h0m1 .3h0m.3-.6h0m.6 .4h0m0-.6h0m.3 .7h0m.4-.7h0m.3 .6h0m.5-.3h0m.3 .4h0m.1 0h0m.2-.7h0m.8-.1h0m.1 .8h0m.5-.9h0m.3 .9h0m.3 0h0m0-.5h0m.1-.2h0m1.5 0h0m.4 .5h0m.2-.6h0m-16.4 1.4h0m0-.1h0m0-.3h0m0 .6h0m.2-.5h0m1 .2h0m.2 .1h0m.6-.3h0m.3 .2h0m.2 .4h0m.3 .1h0m.2-.2h0m.5-.3h0m.4 0h0m.3 .1h0m.1 .2h0m.6 .2h0m.1-.3h0m1.4 .3h0m.2-.1h0m0-.5h0m.6-.1h0m.2 .4h0m.3-.1h0m1.1 .2h0m.4-.6h0m.3 .6h0m0-.7h0m.7 .2h0m2.3-.2h0m.8 0h0m.4 .5h0m.1-.2h0m.4-.1h0m.2 .1h0m.2-.1h0m.3 .6h0m.3 .1h0m.1-.6h0m0-.1h0m.1-.1h0m1.3 .6h0m0-.6h0m-16.9 1.5h0m1.3-.3h0m.4-.2h0m.1 .7h0m.7-.5h0m.2 .6h0m.9 0h0m.6-.6h0m.2 .1h0m.1 .3h0m.5-.6h0m.2 .8h0m.5-.2h0m.5-.1h0m.2 .4h0m.1-.4h0m.2-.4h0m.5 0h0m.3 .5h0m1 .2h0m1-.5h0m.1 0h0m.1-.4h0m.1 .2h0m.4 .6h0m1.1 .1h0m0-.5h0m.1-.2h0m.6 .7h0m.5-.1h0m.7-.4h0m1.2-.3h0m1.1 .7h0m-15.4 .9h0m.4-.5h0m.9 .7h0m.6-.6h0m0 .4h0m0-.2h0m.2-.4h0m.2 .9h0m.6-.1h0m.2-.3h0m.9 .2h0m0 .2h0m.1-.4h0m.7-.5h0m.1 .4h0m1.9-.2h0m.9 .2h0m.2-.2h0m0 .5h0m.5 .1h0m.1-.5h0m1.2 .1h0m.1 .3h0m.8-.8h0m.3 .6h0m.8 .1h0m.1 .3h0m.2-.2h0m.2 .2h0m.6-.1h0m.3-.7h0m.7 .7h0m.3-.1h0m.4-.1h0m.4-.1h0m.2 .3h0m.3-.3h0m-14.4 .4h0m0 .7h0m.2-.6h0m.4-.1h0m0 .2h0m.1 .8h0m.7-1h0m.3 .9h0m.4-.8h0m.2 0h0m.8 .5h0m2.2-.5h0m6.5 .3h0m.5-.3h0m.2 .1h0m.6-.1h0m.8 .2h0m.6-.1h0m-15.8 1.1h0m.3-.2h0" stroke="#2cb274" stroke-width="1.44" stroke-linecap="round" fill="none" opacity="1.0"/><path d="M327.2 271.9h0m1.7-.4h0m.7 .1h0m0-.2h0m1.3 .3h0m1.2-.4h0m.2 .2h0m.2-.1h0m.7 .6h0m.4-.8h0m.5 .8h0m.4-.1h0m.4 .1h0m.3-.3h0m.1 .3h0m.5-.5h0m-11.7 1.3h0m.1-.1h0m1.1-.3h0m1.8-.1h0m.1 .2h0m.1-.4h0m.3 .1h0m.2-.1h0m1.9 .6h0m0 .2h0m0 0h0m.3-.2h0m.1 .1h0m.4 .1h0m.2-.7h0m.1-.1h0m.3 .2h0m.2 .2h0m.4-.2h0m.1 .4h0m.1 .1h0m1.1-.2h0m.4 0h0m.4-.2h0m.3 0h0m.3 0h0m.9 .5h0m.6-.7h0m-12.2 1.6h0m.7 .2h0m.2-.3h0m1.3-.4h0m.2-.3h0m.2 .6h0m.4-.3h0m.2 .4h0m.6 .2h0m.6-.8h0m1.2 .1h0m.1 .3h0m.4 .2h0m.2 .1h0m.4 .1h0m.8-.3h0m.5 .4h0m.5-.4h0m.6 .3h0m0-.2h0m.3-.6h0m.4 .4h0m.5-.3h0m0 .7h0m.9-.7h0m1-.2h0m.3 .8h0m.3-.1h0m-13.7 .9h0m.6-.1h0m.2 .3h0m0-.3h0m0 .2h0m1.3 .1h0m1.2-.6h0m.3 .2h0m0 .4h0m.5-.4h0m.3 .4h0m2.3-.1h0m.4 .3h0m.1-.6h0m.1 .4h0m.1 .1h0m1.1 .1h0m.5 0h0m.4-1h0m0 .8h0m0-.4h0m.9-.1h0m.1-.3h0m.3 .5h0m0 .5h0m.3-.1h0m.2-.2h0m1.3 .1h0m.5-.6h0m.2 .7h0m.5-.3h0m-13.7 .8h0m.2-.1h0m.2 .7h0m.1-.9h0m0 .9h0m.2-.2h0m.2 .2h0m.7-.7h0m.5 .4h0m.6-.3h0m.2 .5h0m.8-.7h0m.1 .5h0m.1 0h0m.5 0h0m0 .2h0m.2-.1h0m.7-.7h0m0 .5h0m.5 .1h0m1 0h0m.1 .3h0m.2-.2h0m.5 0h0m.1 0h0m0 0h0m.5-.3h0m.1-.3h0m.2 .3h0m.5 .5h0m0-.5h0m.8-.2h0m.2 .2h0m.3-.4h0m.9 0h0m.2 .3h0m.2 .2h0m.1-.4h0m.4 .5h0m0 0h0m.1-.6h0m.1 .2h0m.4 .6h0m.3-.1h0m.3 .2h0m.2-.1h0m.3 .1h0m0-.8h0m-13.6 1.7h0m.1-.6h0m.5 .1h0m.2-.2h0m1.1 .5h0m1.5 .2h0m.9-.3h0m0 .3h0m.3-.7h0m.6 0h0m.3-.1h0m.3 0h0m.5 .2h0m0 .7h0m.4-.5h0m.4 .3h0m.1-.2h0m.2 .3h0m.1-.6h0m.1 .7h0m.7-.3h0m.3 .3h0m.3-.6h0m.1 .1h0m.4 0h0m.4 .5h0m.6-1h0m.1 .8h0m.4 .1h0m.1-.6h0m.4 .7h0m.2-.9h0m.1 .2h0m.3 .1h0m.3 0h0m.5-.4h0m.4 1h0m.1-.3h0m.6 .1h0m.1 .1h0m-14 1h0m.1 0h0m.5-.6h0m.2-.2h0m.5 .8h0m.4-.6h0m.9 .4h0m.2 0h0m.3-.6h0m.3 .8h0m.2-.2h0m1-.5h0m.4 .2h0m.1-.3h0m1 .8h0m.4-.1h0m.5-.2h0m1.2-.2h0m.2 .6h0m.1-.1h0m.5-.3h0m0-.4h0m1 0h0m.4 .4h0m.7 .3h0m.3-.7h0m.5 .1h0m1.7 .3h0m.2-.1h0m.5 .5h0m-15.4 .8h0m.1-.6h0m.1-.1h0m.9 .6h0m1 0h0m.2-.3h0m.9-.2h0m.2 .8h0m.3-.7h0m.1 .5h0m.6-.5h0m1.7 .3h0m.7 .4h0m.1-.2h0m.4-.4h0m.9-.3h0m0 .8h0m.1-.2h0m0-.4h0m.3 .2h0m0 .1h0m1.7-.5h0m.8 .5h0m0-.3h0m.1 .6h0m.2 0h0m.7-.6h0m1.7 .5h0m.3-.2h0m-13.9 .9h0m.6-.4h0m.3 .2h0m.2 .2h0m.9 .4h0m.1-.8h0m.4 .4h0m.6 .5h0m0-.9h0m.4 .2h0m.2 .2h0m.4 0h0m1.6 .4h0m.2 0h0m.1-.8h0m.1 0h0m.3 .8h0m.4-.4h0m.2 .3h0m.2-.2h0m.1-.5h0m.2-.1h0m.2 .3h0m.3 .2h0m0 .2h0m.3-.2h0m.5 .4h0m1-.7h0m0 .2h0m.1 .2h0m.2 0h0m.1 .4h0m.3-.8h0m.3 .5h0m.2-.6h0m.4 .2h0m1.1 .1h0m0-.4h0m.5 .1h0m.5-.1h0m.5 .9h0m.5-.4h0m.2-.5h0m0 .8h0m0-.2h0m.1-.4h0m.4 .2h0m-15.4 .9h0m.4-.2h0m.9 .7h0m.2-.8h0m.1 .2h0m0-.1h0m.1 0h0m0 .1h0m.3 .5h0m.1-.3h0m.2 .5h0m.5-.2h0m.1-.4h0m.3 .1h0m.4 .1h0m.3 .1h0m.4-.3h0m0-.3h0m.4 .9h0m.2-.1h0m.9-.6h0m0 .3h0m.1 .3h0m.3-.4h0m1.1-.2h0m.3 .1h0m.2-.2h0m.3 .7h0m.7-.3h0m1.8 .4h0m.1-.7h0m.1 .5h0m.3-.2h0m.1-.1h0m.2-.1h0m.3 .6h0m.4-.4h0m.4 .2h0m0-.5h0m1.1-.2h0m.1 .3h0m.3 0h0m.9 .2h0m-14.7 1h0m.6 .1h0m.6 .1h0m.1 0h0m0-.1h0m.1-.1h0m.6-.4h0m1.1 .3h0m.2-.2h0m.2 .5h0m1 0h0m.2-.5h0m1.1 0h0m0 .4h0m.1 .2h0m.2-.6h0m0 .1h0m.5 .2h0m.2-.5h0m.2 .6h0m.1 .2h0m.2-.3h0m.1 .1h0m.2-.3h0m1 .3h0m.8 .3h0m.4-.6h0m.5 .1h0m.7 .6h0m.2-.9h0m.5 .9h0m.7-.2h0m.5-.5h0m.7 .2h0m.4-.3h0m-13.6 1.3h0m.5 .2h0m.1 .2h0m.1-.9h0m.2 .4h0m.2-.4h0m.1 .3h0m.7 0h0m.1-.2h0m.6 .7h0m.4 .1h0m.9-.9h0m.1 0h0m.5 .1h0m.1 .6h0m.1-.2h0m.5 .4h0m.4-.4h0m.4 .4h0m.1-.4h0m.5 .5h0m.1-.8h0m.1-.2h0m.2 .5h0m.1 0h0m.6-.2h0m.5 0h0m.1 .4h0m.4 0h0m1.3 .2h0m.1-.4h0m.2 0h0m1.2-.4h0m.3 .1h0m.2 0h0m.2 .7h0m0-.1h0m.7-.6h0m.1 .1h0m.5 .3h0m.1 .4h0m0-.4h0m.1 .2h0m.6-.5h0m-14.3 .8h0m.3 .1h0m.5 .6h0m.2-.6h0m.1 .4h0m1.9-.5h0m.9 .5h0m.5 .4h0m.4 0h0m.1-.4h0m.4 .1h0m.1-.1h0m.1 0h0m.1-.2h0m.6 .3h0m.1 0h0m0-.6h0m.7 .3h0m.1 .1h0m0 0h0m.3-.4h0m0 .2h0m.4-.1h0m.1 0h0m0 .8h0m.3-.7h0m1.6 0h0m.7 .1h0m1.4-.2h0m.4 .1h0m.1 .5h0m.6-.3h0m.1 .1h0m.2-.3h0m.4 .3h0m.1-.2h0m.3-.2h0m0-.2h0m.1 .1h0m-14.1 1.9h0m.8-.3h0m.5 .1h0m.1 .1h0m.1-.8h0m.9 .5h0m0 .4h0m.1-.6h0m.1 .5h0m.5-.3h0m.3-.5h0m.2-.1h0m1.3 .6h0m.6-.6h0m.2 .8h0m.2-.2h0m.2-.3h0m0 .1h0m.3 .6h0m.3-.3h0m1.1 .1h0m.7 0h0m.3 0h0m0-.6h0m.2 .8h0m.9-.9h0m.4 .6h0m1.5 0h0m.6-.5h0m.2 0h0m.7 .5h0m0 .1h0m.3 .1h0m.3-.6h0m.4 .3h0m-14.7 1.1h0m.5-.3h0m.2-.1h0m0-.2h0m1.8 .1h0m0 .5h0m.1 .1h0m.2-.7h0m.1 .7h0m.4-.3h0m2 .1h0m.4 0h0m.1 .3h0m.1 0h0m.1-.1h0m1.3-.7h0m.1 .6h0m.1-.2h0m0 .2h0m.5 .1h0m.7-.6h0m.8 .7h0m0-.2h0m1.6-.5h0m.4 .8h0m.9-.6h0m1.1-.3h0m.4 .4h0m0-.2h0m.2-.2h0m.3-.1h0m.7 1h0m-15.2 .2h0m.2-.1h0m.1 0h0m.4 .2h0m.4 .4h0m.1-.2h0m0-.1h0m1.2-.2h0m1.1 .2h0m.1 .3h0m.7-.1h0m0-.5h0m.1 .4h0m.3 .3h0m.2-.1h0m0-.4h0m.1 .5h0m.2-.2h0m.1 0h0m1-.4h0m.3-.1h0m.6 .2h0m.2 0h0m.3-.1h0m0 .3h0m.5 .1h0m.1-.4h0m.3 .1h0m1 0h0m.4 .3h0m0 0h0m0-.5h0m.9 .1h0m.4-.2h0m.8 .7h0m.3 0h0m.7-.4h0m.2-.1h0m.2 .4h0m.8-.3h0m.5-.1h0m.4-.1h0m.1 .3h0m0-.1h0m.2 .4h0m-15.3 .9h0m.2-.4h0m.2 .2h0m.6-.3h0m.5 .1h0m1 .6h0m.9-.2h0m.5-.4h0m0 .3h0m.1 .4h0m.6 .1h0m.1-.4h0m0 .2h0m.2-.3h0m.3 .1h0m0-.5h0m.2 .9h0m.1-.8h0m.2 .8h0m.5-.7h0m.1 0h0m.4 .2h0m.2-.5h0m.2 .5h0m.3-.3h0m0 0h0m.2-.1h0m.2 .2h0m.2-.2h0m.7 .7h0m.2 .1h0m.5-.6h0m.3 .5h0m0 0h0m.1-.1h0m.1-.3h0m.2-.1h0m0-.1h0m.3 .3h0m.9-.4h0m.1 .9h0m.4-.6h0m.2 .5h0m0-.1h0m.4-.3h0m.1 0h0m1.1-.1h0m.1-.3h0m.3 .7h0m.3-.6h0m.2 .3h0m.7-.3h0m.5 .1h0m.2 .6h0m-15.7 .2h0m.4 .7h0m.1 .1h0m.6 0h0m.4-.2h0m0-.2h0m1.1-.4h0m.1 .8h0m0-.1h0m.2-.2h0m.2 0h0m.3-.1h0m.1-.1h0m1.6 .5h0m.1-.6h0m0-.1h0m.5 .8h0m.7-.3h0m.3 .2h0m1-.3h0m1.2-.1h0m1.5-.2h0m0 .4h0m0-.4h0m.5-.1h0m.1 0h0m.1 .2h0m.8-.2h0m2 .7h0m0-.8h0m.7 .4h0m.2 .1h0m0-.4h0m.5 .5h0m.2-.4h0m-14.6 .9h0m0 .7h0m.5-.6h0m.7-.3h0m.1 .6h0m0 0h0m.5-.1h0m.2 .4h0m.5-.1h0m.4-.3h0m.4-.3h0m.1 .1h0m1 .2h0m.2-.3h0m.3 .2h0m0 .2h0m.1 .2h0m.1-.2h0m.1-.5h0m0 .6h0m0 .1h0m.1-.6h0m.2 .3h0m.1-.3h0m.1-.1h0m1.9 .4h0m.6 .3h0m.1-.8h0m0 .5h0m.1 0h0m0 0h0m1.7 0h0m.4-.2h0m1 .6h0m0-.2h0m.1-.5h0m.2 .6h0m.3 .1h0m1.9-.2h0m1.1 .2h0m-15.8 .5h0m.9 .1h0m1.2 .4h0m1.3-.1h0m.1-.3h0m.1 .4h0m.5-.6h0m.5 0h0m.7 0h0m.7 .1h0m.1 .3h0m.3-.2h0m.7-.1h0m.3 .3h0m.1 .1h0m0 0h0m.1-.1h0m.2 .2h0m.3-.3h0m.1-.5h0m.2 .3h0m0-.2h0m.1-.2h0m.1 .1h0m.8 .8h0m.6-.1h0m.1-.6h0m.8 .7h0m.3 .1h0m.1-.3h0m.1 .3h0m.1-.8h0m.5 .4h0m.4 .2h0m.4 0h0m0-.6h0m1.3 .2h0m.4 .4h0m.1-.5h0m.2 .6h0m.2-.4h0m.4 0h0m.3 .1h0m.6 .1h0m.1 .1h0m-15.6 .9h0m.6-.4h0m.5 .3h0m.2-.1h0m.1-.1h0m1.1 .3h0m.1-.7h0m.1 .5h0m.2-.4h0m.1 .6h0m.6-.2h0m.3 .4h0m.3-.3h0m.5 .3h0m0-.4h0m.2 0h0m.2-.4h0m.3-.1h0m.4 .3h0m.2 .1h0m.2 .1h0m0-.4h0m.2 .7h0m.7-.1h0m.4 .2h0m.2 0h0m.2-.5h0m1.9-.3h0m.2 .3h0m.7-.4h0m.4 .7h0m0 .2h0m.7-.1h0m.1-.3h0m0-.2h0m.6-.1h0m.2 .2h0m.3 .2h0m0-.4h0m1.2 .1h0m.4-.1h0m.5 .7h0m.2-.7h0m.1 0h0m.3 .5h0m.5 .2h0m-16.3 .6h0m1-.4h0m.8 .3h0m0 0h0m.3 .2h0m.1-.1h0m0 .5h0m1.2-.6h0m.1-.2h0m.3 0h0m.2 .1h0m.2 .1h0m1.4-.4h0m.2 .1h0m.5 .9h0m1-.2h0m.5 .1h0m0-.5h0m.2 .2h0m.9 0h0m.1-.3h0m.2 .6h0m.1-.5h0m1.2 .4h0m1.7-.7h0m.1-.1h0m.7 .8h0m.1-.5h0m.4 .6h0m.1 0h0m.2-.7h0m0 .6h0m1.3-.8h0m1.3 .9h0m.2-.5h0m.1 .1h0m-16.9 .8h0m.3 .6h0m.1-.5h0m1-.1h0m.2 .1h0m1.1 .1h0m.1 .2h0m.2-.3h0m1.7-.3h0m.6 .5h0m0-.3h0m.2 .5h0m.1-.7h0m0 .1h0m.2 .5h0m.3 .2h0m.3-.1h0m.1-.7h0m.2 .7h0m.2-.2h0m.1 .1h0m.2-.4h0m.1 .5h0m0 0h0m.5 0h0m.8-.6h0m0 .5h0m1-.7h0m.4 .3h0m.5 .6h0m.1 0h0m.3-.6h0m0 .2h0m.3-.3h0m.1 .5h0m.5 0h0m.8 .2h0m.1-.9h0m.3 .6h0m.2-.6h0m.3 .6h0m0 .1h0m.1-.2h0m0 .2h0m.1-.1h0m.3 0h0m.4 .3h0m0-.7h0m.2-.1h0m.2 .7h0m.3 0h0m.2-.3h0m.6 .3h0m1-.4h0m.1 .4h0m-16.7 .5h0m.2 0h0m.3 .2h0m.8-.1h0m2 .2h0m.1-.4h0m.1 0h0m0-.2h0m.6 .6h0m0 .3h0m.3-.2h0m.3-.6h0m.3 .9h0m0-.5h0m.8-.2h0m.5 .7h0m.5-.9h0m.1 .3h0m.1 .2h0m.3-.1h0m.7 .1h0m0 .2h0m.2-.2h0m.3 .2h0m0-.7h0m.5 .1h0m0-.2h0m.2 .6h0m.3-.5h0m.4 .2h0m1.4 .3h0m.1-.2h0m.2 .4h0m0-.3h0m.1-.2h0m.8 .4h0m.1-.6h0m.2 .5h0m.5 .1h0m.8 .3h0m.5-.2h0m.7-.3h0m.2 .1h0m1.5-.4h0m.3 .7h0m-15.9 .6h0m.3 .1h0m.1 .3h0m.3-.2h0m.3 0h0m.1-.6h0m.1 .2h0m.1 .7h0m0-.9h0m.8 .2h0m.5 .4h0m1.9-.2h0m.5 .3h0m.5-.8h0m.2 1h0m1.4-1h0m.2 .8h0m.2-.7h0m.3 .5h0m1.2-.1h0m.3 .2h0m.4-.3h0m.3-.2h0m.1 .1h0m.1 .5h0m.1-.3h0m.9 .3h0m.7-.6h0m.4 .3h0m1.1-.1h0m.5 .6h0m.3-.4h0m.6-.3h0m.3 .6h0m.2 0h0m.2-.7h0m.1 0h0m0-.2h0m.3 .1h0m.5 .3h0m-17.2 .6h0m.1 .2h0m.4 .2h0m.5 .1h0m.1-.2h0m.4 .4h0m.8-.5h0m.3 .4h0m.4-.1h0m1.9 .4h0m.2 0h0m.1-.1h0m.1 .1h0m0-.2h0m1.4 0h0m1.5 0h0m.1-.4h0m.3 .3h0m.5 .3h0m.7-.4h0m.1-.2h0m.4 .2h0m0 .3h0m1.3-.3h0m.3 .4h0m.7-.4h0m0-.1h0m.2 .5h0m.3-.8h0m.2 .7h0m.6-.6h0m.2 .8h0m.1-.3h0m.3-.1h0m.3 .2h0m0-.4h0m.7 .4h0m.7-.8h0m.1 .4h0m.6 .1h0m-16.4 1.1h0m.1-.5h0m.3 .3h0m1.4 0h0m.2 .5h0m.1-.2h0m.3 .1h0m.5-.6h0m.2 .7h0m1.1-.1h0m.4-.1h0m.3-.2h0m1.1 .2h0m1.3 .1h0m.2 .2h0m.8-.3h0m.6-.7h0m.6 1h0m.6-.8h0m.1 .3h0m0-.5h0m1.1 .2h0m.4 .1h0m.5-.2h0m.1 0h0m.4 .9h0m.6-.8h0m0 .2h0m.4-.1h0m.1 .4h0m1 .1h0m.3-.2h0m.5-.2h0m.1 .1h0m.2 .4h0m.6-.5h0m.2 .3h0m.1 .3h0m.6-.4h0m-17.3 .4h0m.9 .3h0m0 .1h0m0 .1h0m1-.2h0m0 .2h0m.3-.3h0m.6 .1h0m.5 .5h0m.2-.5h0m.7 .3h0m.2 .4h0m1.2-.1h0m.2-.2h0m0 .3h0m.2-.2h0m.1-.7h0m.4 .3h0m.2-.2h0m.7 .1h0m1.1 .3h0m.8 .3h0m.7-.4h0m.5 0h0m.2 .3h0m1.4-.2h0m0 .1h0m.2-.3h0m.3 0h0m.1 .2h0m0 .1h0m.7 .1h0m.2-.2h0m1.2 0h0m.1 .3h0m.8 .1h0m.6-.7h0m.1 .4h0m.4-.6h0m.2 .8h0m-16.7 .3h0m.9 .3h0m.5-.2h0m0-.1h0m.3 .3h0m.1-.1h0m1.5 .3h0m.7 .2h0m0-.3h0m.4-.1h0m.1 .3h0m1.2 .1h0m.1-.1h0m.1-.6h0m.2 .6h0m0 0h0m.7-.7h0m.1 .6h0m.6-.1h0m.2-.2h0m.7 .6h0m.8-.1h0m0 0h0m.5 0h0m.5-.2h0m.1-.3h0m.8 .3h0m1 .3h0m.4-.9h0m.1 .5h0m.2-.1h0m.2-.2h0m.6-.2h0m.6 .1h0m.6 .1h0m.9 .2h0m-13.5 .6h0m0 .7h0m.1-.6h0m.2 .4h0m.8-.1h0m1.3 0h0m0 0h0m.6-.5h0m1.2 .3h0m.3 .6h0m.4-.3h0m.5-.5h0m.5 .6h0m.1-.7h0m.8 .1h0m.4 .7h0m.1-.1h0m0-.4h0m.1 .4h0m0-.5h0m.2 .7h0m.4-.1h0m.4-.6h0m.5 .5h0m.2-.4h0m.2-.2h0m.8 .1h0m.2 .6h0m.5-.1h0m.4 .2h0m.6-.6h0m.1 .6h0m.1-.6h0m.1 .5h0m.2-.2h0m.4 .1h0m0-.7h0m.2 .1h0m.1 .4h0m0 .3h0m.2 .2h0m.1-1h0m.9 .2h0m.3 .4h0m.2-.3h0m.3 .3h0m.1 .1h0m-15.7 .3h0m0 .4h0m.2-.4h0m1.2 .7h0m.5 0h0m.3-.7h0m.2 .2h0m1.1 .2h0m.1 .5h0m.1 0h0m.9-.3h0m.3-.2h0m.1 .2h0m.2-.1h0m.3 .4h0m.1-.3h0m.4 0h0m.5 .3h0m.2-.6h0m.1-.2h0m.2 .9h0m.6-.7h0m.3 .1h0m.4 .4h0m1.2-.5h0m.4 .5h0m.8-.7h0m.2 .2h0m.3 .2h0m1.6 .4h0m.2-.6h0m1.5 .3h0m.2-.4h0m.6 0h0m.3 .2h0m-14.6 .8h0m.1 .4h0m.5-.5h0m.5 .7h0m0-.7h0m.7 .7h0m.3-.3h0m1.5-.2h0m.2-.2h0m0 .3h0m0 .2h0m.1 0h0m.1 .1h0m.3-.5h0m.1 .7h0m.9-.9h0m.3 .9h0m.4-.4h0m0-.5h0m.3 .7h0m.5 0h0m.3-.4h0m.3 .7h0m.6-.4h0m.1-.1h0m.1-.4h0m.1 0h0m.4 .8h0m1.4-.2h0m.2-.2h0m.1-.3h0m.2 .2h0m.2-.3h0m.8 0h0m0 .3h0m1.2 .3h0m.2-.5h0m1.1 .1h0m0 .6h0m0-.2h0m.7-.4h0m.1 .2h0m-13.6 1.5h0m1.9-.6h0m.1 .5h0m.2-.2h0m.2 .1h0m.5-.7h0m.4 0h0m.4 .2h0m.2 .5h0m0-.2h0m.4 .4h0m.3-.7h0m.7 .4h0m.2-.5h0m.4 0h0m.5 .1h0m.3 0h0m.2 .3h0m.3 .3h0m.2-.6h0m.4 .2h0m.6-.4h0m1.4 .6h0m.4-.5h0m.3 .8h0m1.1-.8h0m.9 .4h0m.1 .1h0m-12.2 .8h0m1.1 .1h0m.5-.1h0m.1 .4h0m0 0h0m1-.9h0m.5 .1h0m.4 .5h0m.1 .3h0m.6-.2h0m.1-.1h0m.1-.5h0m.4 .2h0m.2-.1h0m0-.2h0m0 0h0m.2 .9h0m.3-.7h0m.1 .1h0m.4 .1h0m0 0h0m.1-.2h0m1.2 .8h0m.4-.5h0m.1 .1h0m.4 .3h0m.1-.5h0m.2 0h0m.4 .4h0m.1-.3h0m.1-.2h0m.3 0h0m.1-.3h0m.7 .5h0m.7-.3h0m.4 .4h0m.6 .3h0m.3 0h0m.1-.4h0m0-.2h0m.4 .2h0m-11.3 1.5h0m.1 0h0m0-1h0m.2 .1h0m.2-.1h0m1.1 .1h0m.4 .8h0m.3 0h0m.4-.3h0m.2-.6h0m0 .2h0m0 .2h0m.2 .4h0m.1-.3h0m.1 0h0m.2 .4h0m.2-.5h0m2.3 .3h0m0-.4h0m.2 .3h0m.3-.4h0m1.6 .5h0m.1 0h0m0-.4h0m.8-.2h0m.8-.1h0m0 .9h0m.3-.4h0m.7-.1h0m.1 0h0m.3-.3h0m.1 .8h0m.3-.9h0m.6 .5h0m-11.8 .9h0m.1 .1h0m.3-.1h0m.2-.1h0m.5 0h0m.1-.3h0m.5 .8h0m.4-.4h0m0 .4h0m.2-.6h0m.1 .2h0m0 0h0m2.2 0h0m.5-.1h0m0 .6h0m.1-.1h0m.7-.6h0m.5-.2h0m0 .3h0m.3-.1h0m.2-.1h0m1.1 .2h0m.3 .1h0m.1 .3h0m.2-.5h0m.3 0h0m.1 .7h0m0-.1h0m.3-.3h0m.2 .1h0m.7 .4h0m.4-.9h0m.6 .8h0m.1 0h0m.4-.2h0m.2-.3h0m.4 0h0m-10.2 .7h0m.4 .4h0m0-.4h0m.7 .4h0m.5 .3h0m.4-.5h0m.5 .5h0m.1-.2h0m1-.5h0m.2 .8h0m.4 0h0m.1-.5h0m0-.3h0m.3 .2h0m.1 .1h0m.1-.1h0m.1 .4h0m0-.6h0m.6 .2h0m.3 .2h0m.6-.4h0m.2 .9h0m.4-.6h0m.3 .1h0m.2-.3h0m0 .8h0m.3-.9h0m.3 .7h0m.9 0h0m.4-.4h0m.1 .3h0m.4-.3h0m.3 .6h0m.2-.7h0m-7.9 .8h0m1.6 .6h0m.7-.5h0m.1 .7h0m.3-.1h0m1.3-.5h0m.1 .2h0m.2 .3h0m.2-.1h0m.3 0h0m0 .1h0m.6-.5h0m.1-.1h0m.1 .2h0m.4 .3h0m.6-.3h0m.2 0h0m0-.1h0m.3 .7h0m.2-.9h0m.8 .2h0m-6.1 .9h0m1 .2h0m.1 0h0m.4-.3h0m1.2 .3h0m.4 .3h0m.6 0h0m.9 .2h0m.3 .1h0m.7-.4h0m.3 .2h0m.9-.2h0m.1 .2h0m0-.2h0m.3-.3h0m.1-.1h0m.7 .6h0m.2 0h0m.4-.4h0m-6.5 1.3h0m.2-.4h0m.1 .3h0m1.5 0h0m0-.2h0m.3-.2h0m.5 .2h0m.1-.3h0m.4 .3h0m.2-.2h0m.7 .1h0m.4 .5h0m2-.3h0m.3-.5h0m.3 .6h0m.5 0h0m-5.7 .5h0m.4 .6h0m0 0h0m.1-.5h0m.6 .6h0m2-.5h0m.3-.1h0m.3 .3h0m1.4 .4h0m-2.8 .2h0m.3 0h0m.4 .8h0m.2-.4h0m1.2 .3h0m.2 .2h0m.3 0h0m1.4-.7h0m.1-.1h0m0 .5h0m0-.3h0m.2 .5h0m-3 .2h0m.1 .4h0m.2 .3h0m.4-.2h0" stroke="#f3716b" stroke-width="1.44" stroke-linecap="round" fill="none" opacity="1.0"/><path d="M350.1 237.7h0m.1 .2h0m1-.5h0m.9 .4h0m-3.5 .5h0m.1 .7h0m.2-.3h0m.3-.3h0m.1 0h0m.6-.2h0m1.4 .6h0m0-.7h0m.3 .3h0m.4 .5h0m.3-.2h0m1-.5h0m.2 0h0m.2 .6h0m.1 .2h0m.2-.2h0m.1 .1h0m-6.6 .7h0m.3 .1h0m.1 .2h0m.2-.4h0m.6-.4h0m.4 .4h0m.6 0h0m.1 0h0m.1 .1h0m.4-.4h0m.1 .1h0m0 .1h0m.1 .2h0m.1-.5h0m0 .9h0m.4-.9h0m.3 .3h0m.1 .4h0m.5-.7h0m.5 .9h0m.6-.4h0m0-.1h0m0-.4h0m1.5 .7h0m0-.1h0m-8.6 1.2h0m1-.5h0m.1 .1h0m.3 .5h0m.5-.4h0m.1-.5h0m.6 .7h0m.1-.5h0m.2 .2h0m.5 .2h0m.9-.6h0m.2 .4h0m.9-.4h0m.1 .8h0m.1-.9h0m.4 .1h0m.5 .7h0m.6-.5h0m.5 .3h0m.3-.2h0m.4 .6h0m.1-.9h0m.3 .1h0m-9.9 1.7h0m.5-.6h0m1 .5h0m1.4-.5h0m.5 .2h0m0 0h0m.3 .5h0m.4-.8h0m.9 .8h0m.1-.4h0m.9 0h0m.4 .1h0m.5 0h0m0-.1h0m.8-.3h0m.1-.2h0m.3 .5h0m.8-.6h0m.2 .4h0m.4 .2h0m.5 0h0m.1-.3h0m-10.5 1.4h0m.4-.1h0m.8-.6h0m.5 .7h0m.2-.6h0m.4 .6h0m.1 0h0m0-.3h0m.9 .3h0m1.2 .2h0m.2-.8h0m.8 .7h0m.3-.7h0m.2 .4h0m0 .2h0m.9 .1h0m.5-.6h0m0-.1h0m0 0h0m.2 .7h0m0-.2h0m.7-.5h0m.1 .8h0m.1-.4h0m.2-.4h0m.5 0h0m.5 .8h0m.3 .1h0m.3-.3h0m-10.6 .8h0m.4 0h0m.4 .3h0m.4 0h0m.1-.8h0m.3 .9h0m.2-.3h0m.2-.2h0m0 .4h0m.1-.2h0m.4 .1h0m.4-.5h0m.3-.1h0m.1 .1h0m0 .2h0m.2 .5h0m.7-.3h0m.8 .2h0m.2 0h0m.5 .2h0m.1-.4h0m.6 0h0m.3 .1h0m.1-.2h0m.2-.1h0m0 0h0m1.4 .4h0m.4-.6h0m.2-.1h0m0 .4h0m1.6 .1h0m-11.5 .7h0m.5-.2h0m.1 .1h0m.1 .7h0m.1-.7h0m.1 .4h0m0-.3h0m.4 .6h0m1.8-.2h0m.1 0h0m.7-.2h0m1.2-.3h0m.1-.2h0m.1 0h0m0 .4h0m1.1-.2h0m.2 .6h0m.1-.7h0m.1 .7h0m.3-.3h0m0-.2h0m.1-.2h0m.5 .1h0m1.6 .4h0m.3-.1h0m.5 .2h0m1.2-.5h0m.5 .3h0m.2-.2h0m-12 1.7h0m.5-.8h0m1.2 0h0m.2 .3h0m0 .3h0m.7-.3h0m0-.3h0m1.1 .7h0m.1 0h0m.4-.6h0m.1 .7h0m.5-.6h0m0 .6h0m.1-.8h0m0 0h0m1.6 .6h0m.6-.6h0m.2 .1h0m.1-.1h0m.6 .6h0m.4-.2h0m0-.4h0m1.4 .7h0m.2-.8h0m1 .9h0m.3-.9h0m.6 .4h0m-11.9 1.2h0m0-.7h0m1.4 .5h0m.5 .1h0m.1-.6h0m0 .3h0m.1 .2h0m1.2-.5h0m.1 .3h0m.1 0h0m.8 .6h0m.4 0h0m.3-.4h0m.5-.2h0m1-.2h0m.3 .1h0m.4-.1h0m.3 .6h0m.5-.1h0m.2-.4h0m.8 .4h0m.1-.1h0m1 0h0m.1-.2h0m.2 .5h0m.1-.1h0m.7-.2h0m.1 .1h0m-11.4 .6h0m.8 .5h0m0-.5h0m.5-.2h0m.6 .3h0m.4 .4h0m.3 .1h0m.4-.2h0m1.4 .3h0m0-.2h0m.4-.5h0m1.9-.2h0m.6 .1h0m.5-.1h0m.5 .8h0m1.9-.6h0m0 .1h0m0-.1h0m.3 .3h0m0-.2h0m.5-.2h0m1.1-.1h0m-11.2 1.1h0m1.2 .2h0m.2 .6h0m.1-.7h0m.6 .2h0m1 .4h0m0-.4h0m1.1 .5h0m.2-.1h0m.8-.4h0m.8 0h0m.2 .4h0m.8-.6h0m.1 .3h0m0 .2h0m.3-.5h0m1.5 .4h0m.3-.4h0m-10.1 1.4h0m.3-.4h0m.3 .3h0m.2 0h0m0 .1h0m1.4-.5h0m.5 .5h0m.2-.3h0m.5 0h0m.1 .1h0m.3 0h0m1.9 .4h0m1.4-.1h0m.2-.3h0m.8-.2h0m-7.6 1h0m.2 .4h0m1.1-.6h0m.3 .3h0m0 .4h0m.1-.5h0m.3 .7h0m0-.6h0m.1-.1h0m0 .7h0m.2-.4h0m.5-.3h0m.2 .4h0m.3-.1h0m.1 .1h0m.1 .2h0m.1-.1h0m0-.2h0m.2-.5h0m.8 .1h0m.1 .7h0m.8-.4h0m.1 0h0m.4 0h0m.1-.2h0m-6.6 1.2h0m.2 .5h0m.1-.4h0m0 0h0m1.3-.4h0m1 .6h0m.1-.6h0m.5 .7h0m.6 .1h0m1.1-.9h0m-4.5 2h0m.2-.3h0m1.8-.5h0m.1 .3h0m-2 .5h0" stroke="#bf71bc" stroke-width="1.44" stroke-linecap="round" fill="none" opacity="1.0"/><path d="M381.8 277.4h0m-1 .7h0m.3 .5h0m.2-.2h0m.9 .6h0m-.7 .8h0m.6 .1h0m.6-.2h0m-1.9 1.1h0m.4-.7h0m.1 .1h0m1.5 .6h0m.1-.1h0m-2.4 .5h0m.4 .1h0m.4 .4h0m.5-.1h0m.1 .1h0m.5-.4h0m.4-.1h0m.5 .3h0m-2.7 1.2h0m0-.1h0m.1-.3h0m.9-.2h0m.3 .1h0m.8 .2h0m.3 .2h0m.5 .3h0m-2.6 1.1h0m.2-1h0m.1 .9h0m.2-.8h0m0 .7h0m.6-.7h0m.5 .1h0m.1 .4h0m1.2-.1h0m.3-.2h0m1 .2h0m.3 .4h0m1.2-.2h0m2.5 .1h0m.8 0h0m.1-.2h0m1 0h0m.2-.6h0m-10.2 1.7h0m.2 0h0m1.6-.3h0m0-.3h0m1.1-.1h0m.1 .9h0m0-.7h0m1.2 .1h0m.1 .3h0m.3-.3h0m.1 .7h0m3-.8h0m1 .2h0m.1-.2h0m.8 .3h0m.5-.1h0m.1-.2h0m0 .6h0m0-.3h0m.3 .5h0m0-.2h0m.9 .2h0m.5-.1h0m-11.9 .3h0m.7-.2h0m.4 .4h0m.1 .1h0m.5 0h0m.1 .1h0m.2-.5h0m.2 .6h0m.4-.1h0m.3 .2h0m.8 0h0m.8 .2h0m.2-.4h0m.5-.6h0m.1 .7h0m1.2 .1h0m.3-.1h0m.7-.2h0m.5-.1h0m.1-.2h0m.7 .1h0m.5 .6h0m.7-.2h0m.1 .2h0m.6-.4h0m.6-.3h0m.3 .1h0m.7 .3h0m-11.9 .5h0m1.9 .6h0m.6-.6h0m1.5 .5h0m.4 .1h0m.3-.5h0m.8 .5h0m.6-.4h0m1.5 .7h0m.1-.3h0m0-.5h0m.2 .7h0m.1-.8h0m.5 .8h0m1 0h0m.3-.6h0m.9 .6h0m0-.2h0m.1-.4h0m.2 .2h0m0 .2h0m.2-.6h0m.1 .9h0m-8.7 0h0m.1 0h0m.5 .9h0m0-.1h0m1.4 0h0m1.6-.6h0m.2 .7h0m.1-.6h0m.3-.1h0m.2 .5h0m.5-.1h0m.4-.2h0m.4 .5h0m.6-.9h0m.7 .1h0m.7 .7h0m.1-.8h0m.1 .2h0m1.5 .7h0m.1-.1h0m.2-.5h0m-10.8 1.4h0m0-.2h0m.1 0h0m.5 .2h0m.5 .2h0m.6-.2h0m.4 0h0m.5-.7h0m.1 .3h0m.3-.2h0m1.2 .6h0m.4-.6h0m.1 .7h0m.6 .1h0m.4-.1h0m.3-.5h0m1.3-.1h0m.3 .3h0m.6 .2h0m.9-.1h0m.7-.2h0m.2-.3h0m.5 .9h0m.1-.9h0m.6 .2h0m-10.8 1.4h0m.3-.3h0m.2-.3h0m1.9 .4h0m.6 0h0m.2 0h0m.7-.5h0m.5 .9h0m1.8-.7h0m0 .2h0m.2 .3h0m1.1 .3h0m.5-.1h0m.1-.9h0m.8 .9h0m.2-.5h0m.1-.2h0m.1 .2h0m0 .5h0m.1-.9h0m.9 .5h0m.2 .1h0m1 .1h0m-11.6 1.2h0m.8-.8h0m1.1 .3h0m.9 .6h0m.1-.9h0m1.2 .1h0m.7 .8h0m.5-.4h0m.1-.4h0m.2 .7h0m.5-.4h0m0-.5h0m.1 .9h0m1-.5h0m.7 .1h0m.1 .1h0m.5-.2h0m.2 .4h0m.8-.4h0m.4 .1h0m.3 .2h0m.1-.4h0m1 .3h0m.2-.5h0m.1 .7h0m.1-.8h0m-11.5 1.6h0m0-.2h0m.5 .3h0m1-.1h0m.2-.3h0m0 .6h0m1.1-.3h0m.2-.3h0m.4 .5h0m.7-.7h0m.7 .5h0m.2-.2h0m.1-.1h0m0 .6h0m.8-.5h0m0-.4h0m.4 .3h0m.1 .1h0m.3-.1h0m1-.1h0m.2 .3h0m.3 .4h0m.3-.9h0m.6 .7h0m0-.3h0m.1-.2h0m.5 .2h0m.5-.2h0m.1 .2h0m.1 0h0m.7-.1h0m.3 .6h0m.5-.2h0m.2 .1h0m-11.6 .3h0m.8 .2h0m.3 0h0m1.2 .5h0m1.2-.8h0m.7 .1h0m.4 .2h0m.1-.1h0m.5-.1h0m.5 .6h0m.2-.7h0m.4 .1h0m.1 0h0m.2 .2h0m.2 .5h0m0-.2h0m.2-.3h0m.2-.2h0m.4 .8h0m.4-.1h0m1.2-.6h0m.9-.1h0m.4 .9h0m.6-.6h0m0 .3h0m-11.2 1.2h0m.6-.2h0m1.7 .2h0m1.4-.5h0m1.6 .2h0m.1 0h0m.7-.1h0m.4-.1h0m.1-.3h0m.8 .8h0m.4-.7h0m0 .4h0m.7 .3h0m.3-.5h0m1.8 0h0m.3 .2h0m-9.3 .8h0m0-.1h0m.3 .3h0m1.7-.1h0m.1-.1h0m.8 0h0m.8 .2h0m.9 0h0m.2 .1h0m.3-.5h0m.5 .5h0m.2 .1h0m.8-.4h0m.3-.1h0m.2-.2h0m1.7 .9h0m.5-.7h0m.6 .3h0m-13.5 .8h0m.2 .1h0m2.6-.2h0m.1 0h0m.3 .6h0m1.7-.8h0m.9 .2h0m.6 .2h0m.4 .4h0m.4 0h0m.4-.1h0m.1-.3h0m.2-.4h0m.1 .2h0m.5 .6h0m1.1-.3h0m0 .3h0m.1-.9h0m0 .2h0m.3 .3h0m.3 .2h0m.3-.1h0m.3-.5h0m.5 .6h0m.1-.1h0m0-.2h0m.3-.4h0m.2 1h0m.2-.5h0m.5 .4h0m.2 .1h0m.8-.6h0m0-.1h0m.4 .1h0m-13.8 1.3h0m.6-.2h0m1.4-.4h0m.1 .2h0m.7 .6h0m.7-.1h0m1-.3h0m.3-.2h0m.5 0h0m.5-.2h0m.4 .5h0m.3-.5h0m.1 .5h0m.8-.4h0m.6 0h0m.3 .5h0m.3-.3h0m0-.2h0m.2-.1h0m.1 .6h0m.2 .2h0m.2 .1h0m.2-.1h0m.1-.4h0m.9 .2h0m.8 .3h0m.4-.2h0m.2-.4h0m.3 .1h0m.2 .5h0m.1-.4h0m1.3 .2h0m-15.7 .9h0m.5 .3h0m.2-.2h0m.5-.3h0m.2-.1h0m.5 .4h0m1.8-.3h0m.8 .2h0m0-.2h0m0-.3h0m.4 .5h0m1.2-.6h0m.5 .2h0m.1-.2h0m1.1 .5h0m0 .1h0m2.3 0h0m.2-.7h0m.8 .6h0m.9-.3h0m.6 .2h0m.2 .4h0m1.3 0h0m.6-.4h0m.3 .2h0m0-.2h0m.4 .3h0m-15.4 .9h0m.6 .2h0m0-.8h0m.1 .5h0m.5 .2h0m.7 .1h0m.8-.1h0m.3 .1h0m.1-.1h0m1.6-.5h0m.4-.1h0m.7 .1h0m.5 .1h0m.7 .3h0m0-.5h0m.3 0h0m.2-.1h0m.5 .7h0m.2-.5h0m.4 .5h0m.4 0h0m.4-.2h0m.2-.1h0m0-.2h0m.1 .1h0m.1-.3h0m.2 .8h0m.1-.5h0m1.3-.2h0m1.1 .5h0m.5 .1h0m.5 .1h0m.1-.1h0m.1-.7h0m.3 .3h0m.2 .2h0m-13.5 1h0m.4 .4h0m.3-.1h0m.3 0h0m1.4-.8h0m.5 .7h0m.5-.7h0m.7 .6h0m0 .1h0m.1-.6h0m1.7 .5h0m.6 .3h0m1.4-.2h0m.1 .1h0m.3-.2h0m.1-.2h0m.5-.1h0m.4 .3h0m1.5-.1h0m1.8 .1h0m.8-.2h0m.3 .1h0m.3-.5h0m.1 .4h0m-12.7 1.4h0m.8 .1h0m1.4-.4h0m.3 .4h0m1.6-.1h0m.1-.1h0m1.1-.3h0m1-.1h0m1.3 .5h0m1-.5h0m.3 .5h0m.6-.1h0m1.2-.5h0m-9.6 .7h0m.6 .1h0m.3 .6h0m.9-.5h0m.1 .3h0m.8-.4h0m.1 .8h0m1.3-.8h0m.9 .3h0m.2 .3h0m.4-.4h0m.2 .1h0m2.2-.1h0m1.1 .6h0m.3-.7h0m.2 .8h0m.1-1h0m.2 1h0m-8.6 .4h0m2.3 0h0m0-.3h0m.4 .1h0m.2 .2h0m1.1-.2h0m.7 .3h0m.4-.4h0m1.1 .3h0m0 .5h0m.1-.1h0m.6-.1h0m.2-.3h0m.4 0h0m-6 .8h0m.5-.2h0m.1 .1h0m.5 0h0m.1 .2h0m1.1 0h0m.6 .3h0m.6-.3h0m0 .2h0m.8-.3h0m.8 .1h0m-2.5 1.2h0m.1-.2h0" stroke="#a3a436" stroke-width="1.44" stroke-linecap="round" fill="none" opacity="1.0"/><path d="M346.3 260.3h0m.6 .5h0m-1.7 .2h0m1.7 .1h0m-.3 1h0m0 .5h0m.4 .3h0m.2-.7h0m0 .4h0m.2 .3h0m-1.4 .5h0m.8 1.4h0m.4-.6h0m.2-.1h0" stroke="#2cb274" stroke-width="1.44" stroke-linecap="round" fill="none" opacity="1.0"/><path d="M359.8 260.8h0m11.5 3.8h0m-7.6 3.4h0m10.5 1.4h0m1.3 1.1h0m1.5 .8h0m1 .5h0m-5.2 2h0m-22.5 1h0m30.2-.1h0m-13.5 1h0m4.3 .9h0m-5.3 3.4h0m1.5 1h0m1.5 .7h0m1.4 .2h0m-27.8 11.6h0m.9 1h0m1 1h0m1.3 1h0m-2.3 1h0m1 .5h0" stroke="#24a4e4" stroke-width="1.44" stroke-linecap="round" fill="none" opacity="1.0"/><path d="M325.1 258.0h0m25.9 18h0m-2.6 2.6h0m-5.2 7.8h0" stroke="#f3716b" stroke-width="1.44" stroke-linecap="round" fill="none" opacity="1.0"/><path d="M252.1 356.7h0m-1.3 .7h0m-3.4 1.4h0m2.1-.8h0m1.5 1h0m-3 1h0m1.4 .1h0m-2.7 1.4h0m1.8 .5h0m-3 1h0m-.8 1.2h0m1.3 2.6h0m11 11.1h0m.2 .1h0m.2-.9h0m.6 0h0m.5 .9h0m-2.5 .4h0m.1 .6h0m.3-.6h0m.6-.2h0m-2.4 1.7h0m.3-.3h0m.7 .2h0m-.3 .4h0m-1.1 .9h0m.1 .5h0m.5-.4h0" stroke="#2cb274" stroke-width="1.44" stroke-linecap="round" fill="none" opacity="1.0"/><path d="M262.9 352.0h0m-2.7 3.4h0m1.3 .2h0m2.1 1.1h0m-7.4 .7h0m1.3 2h0m-4.7 .7h0m12.1 .7h0m3.4 12.1h0m.7 1.1h0" stroke="#bf71bc" stroke-width="1.44" stroke-linecap="round" fill="none" opacity="1.0"/><path d="M254.1 382.3h0m1.4 12.1h0m-8.8 14.2h0" stroke="#f3716b" stroke-width="1.44" stroke-linecap="round" fill="none" opacity="1.0"/><path d="M273.5 377.5h0m-3.5 1h0m9.1-.3h0m3.3 .2h0m-11.5 1.4h0m.2 .1h0m3.5 0h0m0-.8h0m.5 .8h0m.5-.4h0m.2 .5h0m1.6-.8h0m1.3 .3h0m.8 0h0m1.7 .2h0m.2-.2h0m.6 .2h0m1 .1h0m.1 .2h0m1.8-.2h0m-13.1 .5h0m.5 .5h0m1.2-.5h0m.2 .2h0m.6 .2h0m.1-.3h0m.6 .6h0m.2-.3h0m.2-.3h0m1.4-.1h0m.8-.2h0m.2 .7h0m.7-.5h0m.4-.1h0m1.4 .2h0m.9-.3h0m.1 .1h0m2.4-.1h0m1.4 .5h0m1.9 .1h0m-19.2 1h0m1.5 .1h0m.1-.5h0m.4-.3h0m2 .8h0m.8-.2h0m3.1-.2h0m.5 .1h0m.3 .1h0m.3-.4h0m0-.1h0m.4 .5h0m4.3-.6h0m3 .4h0m.8 .2h0m.1-.2h0m.3-.2h0m.6-.1h0m.6 .3h0m-19.4 .9h0m.1 0h0m.4-.1h0m7.8 .7h0m10.2-.2h0m.1 .1h0m0-.5h0m.3 .1h0m.3 .2h0m.8-.2h0m-20.5 .8h0m9.1-.2h0m.6 .6h0m9.3-.5h0m.7 .4h0m.3-.2h0m0 .6h0m.5-.8h0m-20.9 1.1h0m9.7 .7h0m.2-.1h0m5.8 .1h0m.5-.3h0m.4 0h0m2.9 .3h0m.6-.1h0m.2-.3h0m.4 .3h0m0-.4h0m.3-.2h0m.2 .6h0m.2 0h0m.3 .2h0m.2-.3h0m-13.5 .7h0m.4 .2h0m.4-.4h0m.1 .2h0m.5-.1h0m1.1 .4h0m3 0h0m6.3 .1h0m.1-.3h0m.2-.4h0m0 .7h0m.9-.2h0m1.6-.4h0m.7-.2h0m1.2 .4h0m-27.9 1h0m12.8 .5h0m.4-.8h0m3 0h0m6.3 0h0m2.4 .6h0m2.4-.3h0m.1-.3h0m.1 .8h0m.4-.5h0m.1 .1h0m.2 .1h0m.2 .3h0m.1-.8h0m-16.4 1.5h0m.1 .1h0m.1-.4h0m.7-.2h0m.2 .1h0m.2-.2h0m3 .5h0m.3-.5h0m2.4 .3h0m.4 .5h0m4.3-.1h0m.2 .2h0m.2-.1h0m2.6-.6h0m.4 .2h0m-14.9 1.5h0m4.5-.9h0m.8 .5h0m.4-.2h0m5.4 .4h0m.3-.3h0m0 .1h0m.1 .2h0m.2-.7h0m.3 .3h0m.4 .5h0m.8-.5h0m.2 .2h0m.1 .1h0m1 .3h0m.3-.1h0m.5-.5h0m.6-.3h0m-12.1 1.4h0m.4 .4h0m.3 0h0m.4-.8h0m.3 .9h0m.3-.7h0m4.3 .8h0m.8-.2h0m0-.5h0m.6 .5h0m.5-.6h0m.7 .1h0m1.2 .3h0m-13.8 1.3h0m.2-.6h0m0 0h0m.4 .2h0m.3 .5h0m3-.9h0m.2 .7h0m7.1 0h0m.2-.4h0m1.3-.1h0m-13.2 1.3h0m.8-.2h0m1.1 .5h0m4.3-.8h0m1.6 .9h0m2.7-.1h0m.2-.3h0m.1-.3h0m.7 .7h0m-10.8 .4h0m.6-.3h0m8 .5h0m.7-.1h0m.7 .2h0m-9.3 .7h0m.3 0h0m.1 .2h0m6.6-.1h0m.2 .4h0m.3-.6h0m.6 .2h0m.1 .4h0m.8-.7h0m.1-.1h0m.4 0h0m-9.4 1.3h0m.6 .1h0m1.6 .4h0m1.5-.1h0m2.8-.2h0m.2-.3h0m.2 .5h0m.1 .1h0m.3-.8h0m.5 .1h0m.6 .3h0m.3-.4h0m-7 1h0m.1 .5h0m.1-.5h0m1.1 0h0m.1 .6h0m.4-.5h0m.4 .2h0m1.9 .5h0m.7-.8h0m.3 .1h0m-4.9 1h0m.6-.1h0m.4 .2h0m1.2 .4h0m.2-.4h0m.7 0h0m1.3-.1h0m-24.2 10.6h0" stroke="#24a4e4" stroke-width="1.44" stroke-linecap="round" fill="none" opacity="1.0"/><path d="M288.9 390.5h0m.4 .2h0m.6 .2h0m.7 0h0m.4-.1h0m-.5 .5h0m.5 0h0m.6-.1h0m.4 .2h0m-2.3 .9h0m.4 .1h0m2.5-.1h0m-1.4 1.3h0m1.7-.1h0m.3 .4h0m0-.4h0m.3-.1h0m-3.3 1.3h0m.1-.5h0m2.1 0h0m1 .3h0m.1-.1h0m.4 .6h0m.1-.5h0m-4.4 .7h0m.3 .1h0m.2 .6h0m.2 0h0m.3-.7h0m0 .4h0m.4-.5h0m2 .7h0m.1-.4h0m.6 .5h0m.3-.3h0m.2-.3h0m-4.2 1h0m.1 0h0m.6 .4h0m.4-.1h0m0-.4h0m.1 .7h0m.1-.4h0m2 .4h0m.3-.2h0m.7-.2h0m-3.6 1.2h0m.4-.5h0m.8 .5h0m.6-.5h0m.5-.2h0m.3 .1h0m-2.8 1.3h0m1.3 .2h0m1.6 .1h0m.5-.6h0m-3.4 1.2h0m.6 .6h0m.4-.7h0m.1 .6h0m2.3-.6h0m.7 .2h0m.4-.4h0m.5 .8h0m.3-.2h0m.3-.3h0m.6 .3h0m1-.3h0m-6.9 1.3h0m.9-.2h0m1.1 .3h0m.1-.1h0m0 0h0m.5-.2h0m1.8-.4h0m.6 .6h0m0-.3h0m.1-.1h0m.1 0h0m.4-.1h0m.6 .6h0m.3 .1h0m.3-.4h0m.2 .5h0m.3 0h0m.3-.8h0m0 .4h0m.5-.2h0m.5 0h0m3.5 .5h0m-11.7 .5h0m.1 .2h0m1.1-.4h0m.4 .2h0m.9 .3h0m.9 .2h0m.3-.7h0m.7 0h0m.5 .2h0m.4 .2h0m.2-.4h0m.1 0h0m1.3 .9h0m.2-.7h0m.5 .6h0m.2-.8h0m2.3 .9h0m.1-.3h0m.6-.6h0m2.3 .9h0m-13.1 .3h0m3.4 .4h0m1 0h0m0 0h0m.2-.5h0m.6-.1h0m.3 .7h0m0-.5h0m0-.2h0m.1 .4h0m0 .4h0m1.4-.4h0m.3-.4h0m.2 .1h0m.1 .8h0m.9-.3h0m.5-.4h0m3.3 .7h0m.1-.1h0m0-.2h0m.3-.6h0m.1 .2h0m-12.7 1.2h0m0-.1h0m.3 .6h0m.7-.2h0m.5-.3h0m.1 .4h0m.5-.2h0m.6-.3h0m.3 .2h0m.6-.3h0m.6 .2h0m1.1-.4h0m.7 .5h0m1-.5h0m0 .1h0m.1 .4h0m3.2-.6h0m.9 .3h0m.2 .1h0m.3-.1h0m.2 0h0m.4-.2h0m-12.2 1.4h0m.8 .2h0m.1 0h0m.9 .1h0m.1 .1h0m.9-.7h0m2.2 .3h0m1 .3h0m.4-.3h0m.4-.3h0m.1 .5h0m2.1 .2h0m.5 0h0m.8-.1h0m.2 .1h0m.4-.8h0m1.2 .9h0m.2-.6h0m0-.3h0m.6 .2h0m0 .7h0m-11.5 .5h0m1.9 .3h0m.4-.4h0m.9-.3h0m.5 .8h0m.4 .1h0m0-.1h0m.1-.9h0m1 .9h0m1.6-.3h0m0-.4h0m.8 .7h0m1 .1h0m1.9-.6h0m.7-.1h0m.8 .4h0m-13.4 .8h0m.6 .1h0m1.1-.1h0m1.1 .4h0m.5 0h0m.1 0h0m.4-.7h0m.1-.1h0m0 .9h0m1.6-.1h0m1.1-.2h0m.4-.2h0m1.1 .2h0m3.1 .2h0m.2-.8h0m.3 .2h0m.6 .5h0m1.6-.1h0m-13.8 .8h0m.2-.3h0m.9 0h0m2.1 .3h0m.5 .3h0m2.1-.7h0m.4 .3h0m.1 .4h0m.5-.3h0m.8 .3h0m.3-.1h0m1.8-.6h0m.5 .6h0m.4 .3h0m2.2 0h0m.1-.5h0m.1-.3h0m.4-.1h0m.2 .8h0m.6-.4h0m.1 .3h0m-14.2 .3h0m1.9-.1h0m1.7 .1h0m.5 .6h0m0-.5h0m.8 .7h0m.3-.3h0m.6-.2h0m.1 .5h0m0 0h0m0 0h0m1.2-.7h0m.2-.2h0m0 .8h0m.4-.6h0m.1-.2h0m2 .7h0m1.9-.6h0m1.1 .2h0m.4 0h0m.3 .2h0m.3-.3h0m.2 .5h0m-13.1 .9h0m1.7-.1h0m.7 .1h0m2 .4h0m.1-.9h0m0 .1h0m1.1 .7h0m.5-.8h0m.2 0h0m.4 .2h0m1.5-.2h0m.3 .9h0m1-.7h0m.6 .6h0m1.2-.8h0m1.5 .5h0m.2-.5h0m.4 .1h0m-13.7 1.6h0m.7-.4h0m2.1 .2h0m0 .2h0m.7-.1h0m.3 0h0m1.2-.4h0m.4-.1h0m.1 .1h0m.4-.1h0m.9 .3h0m.6 .4h0m.9-.8h0m0 .7h0m.1 .2h0m1.5-.6h0m.2 .4h0m1.1 .2h0m.1-.6h0m1.2-.4h0m.5 .5h0m.7 0h0m-12.6 .8h0m.6 .2h0m.4 .3h0m.1-.7h0m.4 .6h0m.5 .2h0m.5-.9h0m.2 .4h0m.9 .3h0m.2 .2h0m2.2 0h0m.4-.6h0m.8-.1h0m.3 .3h0m1.5-.3h0m.2 .6h0m1-.2h0m1.3-.5h0m.8 .1h0m-13.2 .8h0m1.3 .1h0m.6 .8h0m.2-.8h0m0 0h0m1.4 .6h0m.4-.1h0m.2-.4h0m.7 .2h0m.1-.2h0m1 .7h0m.8 0h0m2.4-.2h0m.7 .2h0m0-.6h0m2 .4h0m-12 .9h0m.4-.1h0m1.2-.3h0m1.2 .3h0m.4 .2h0m1.9-.3h0m.9 .2h0m.6 .3h0m.3-.4h0m0 0h0m.3-.2h0m.7 .3h0m.1 .3h0m0-.1h0m.3 .1h0m0-.2h0m.3 0h0m.3-.2h0m1.7-.3h0m.5-.1h0m.1 .2h0m.8-.3h0m-11.7 1.1h0m.2 .3h0m.8 .4h0m.4-.3h0m1 .5h0m.2-.8h0m.1 .4h0m.9 0h0m1.3 0h0m0-.6h0m.4 0h0m1.2 .7h0m.4-.5h0m1.1 0h0m.7-.1h0m0 .2h0m.1 .1h0m.9-.2h0m2.1 .7h0m0-.8h0m-11.2 1.4h0m.8-.1h0m.2 0h0m.2 .5h0m1-.1h0m1.3-.1h0m1.2 .2h0m0-.9h0m.9 .9h0m.3-.2h0m.5-.6h0m1.5 0h0m.8 .6h0m1.2-.3h0m.6-.1h0m0 .3h0m.7 .2h0m-10.2 .3h0m1.2 .7h0m1 .1h0m.6-.9h0m.8 .9h0m.4 0h0m.1-.5h0m.2 .3h0m3.3-.4h0m.9 .4h0m1.4-.4h0m0 .7h0m-9.4 .3h0m.2 .4h0m0-.4h0m.2-.2h0m.5 0h0m2.2 0h0m.1 .8h0m.1-.6h0m.7 .5h0m.4 0h0m.7-.5h0m.4 .4h0m.6 .2h0m.2-.5h0m1.3 .4h0m0-.4h0m.4-.1h0m-5 1h0m2.2 .2h0m.3 .1h0m1.4-.6h0" stroke="#a3a436" stroke-width="1.44" stroke-linecap="round" fill="none" opacity="1.0"/><path d="M339.4 353.8h0m-2.3 1.1h0m.4-.4h0m1.5 .3h0m.6-.3h0m-2.3 .9h0m.7 .3h0m.7-.2h0m.9-.3h0m1.9 .3h0m-7 .9h0m.3 .4h0m1.9 .1h0m.6-.8h0m3.7 0h0m-7.5 .9h0m.9 .4h0m1.3 .1h0m.2 0h0m.6 .3h0m.1-.2h0m.8 .3h0m.1 0h0m0-.6h0m.7 0h0m.2 .1h0m0 0h0m.4 .1h0m.6 .4h0m0-.4h0m.5 .4h0m1.1-.6h0m-7.6 1.2h0m.3 .2h0m.1-.2h0m.7 0h0m0 .4h0m1.6-.4h0m.1 .2h0m.7 .2h0m1.4-.5h0m-6.6 .9h0m3.8 .1h0m.8 .5h0m.3-.1h0m.8-.1h0m.6-.3h0m.5 .5h0m0-.2h0m.4-.2h0m0 .5h0m.2-.9h0m3.2 .7h0m-11.2 .2h0m4.3 .1h0m.5 .1h0m.4 .5h0m.6 .2h0m.2-.9h0m.6 1h0m0-.2h0m.6-.3h0m.9 .4h0m2.6 0h0m-10.6 .2h0m7.2 .5h0m2 .3h0m.4 .1h0m.2-.2h0m-9.5 1h0m2.7-.1h0m.2-.2h0m5.2 .3h0m.6-.2h0m1.4 .2h0m-11.4 .3h0m2.4 .5h0m1.8-.6h0m3 .6h0m1.1 .1h0m.4-.5h0m1.2 .6h0m.2-.2h0m-9.3 1.3h0m.4-.9h0m0 .4h0m.2-.1h0m4.7 .1h0m2.3 .2h0m.4-.3h0m1-.1h0m1.7-.1h0m-10.2 1.5h0m2.4 0h0m2.2 0h0m.9 0h0m.4-.5h0m3.2 .2h0m.1 .4h0m-5.8 1.1h0m1.3 .1h0m0-.6h0m1.6 .7h0m.2-.8h0m.1 .2h0m-2.1 1.6h0m.5-.3h0m0-.2h0m.2 .4h0m.5-.8h0m.4 .3h0m.4 .3h0m-5.9 .6h0m1.7 .3h0m2.9 .2h0m.9-.1h0m.4-.4h0m1 .3h0m-8.6 1.2h0m4.2 0h0m1.9 0h0m2-.3h0m2.3-.4h0m-8.7 .9h0m2.6 .3h0m1 .2h0m1.1-.1h0m.3 .5h0m.2-.2h0m.3-.6h0m.6 .2h0m-9.9 1.5h0m1.3 .2h0m.8-.8h0m1.8 .3h0m.3-.2h0m1 .2h0m.7-.1h0m.7 .3h0m4.2-.4h0m-10.4 .9h0m.3 .2h0m.1 .3h0m6.6 .1h0m.3-.2h0m.8-.1h0m.7-.3h0m-10.5 1.5h0m.6-.5h0m.6 .8h0m.2-1h0m8.6 .5h0m-10.7 1.1h0m.7 .4h0m.2-1h0m.7 0h0m2.5 .3h0m.4 .2h0m.9 .4h0m.4-.6h0m1.7 .3h0m1.2-.3h0m2.3-.2h0m-5.5 1h0m.3 .8h0m1.6-.3h0m.7 .3h0m0-.3h0m.7 .4h0m2.4-.5h0m.7 .5h0m9.2-.3h0m-21.9 .8h0m2.2-.4h0m3.5 .9h0m.4-.4h0m.9-.4h0m1.1 .1h0m.1 .7h0m1.6-.1h0m.1-.7h0m.8 .4h0m.5 .4h0m0-.6h0m.6 .1h0m-10 .8h0m.3-.1h0m2.4 .1h0m1.7 .6h0m.8-.1h0m.3-.1h0m.3 .2h0m.4-.3h0m0 0h0m.4 .3h0m.7 0h0m.5-.1h0m.2-.4h0m1.6 .5h0m-10.7 .5h0m1 .3h0m4.6 0h0m3.3-.3h0m.2 .5h0m1.4-.2h0m-4.2 1.1h0m1.1 0h0m.8-.3h0m-9.2 1.2h0m5-.5h0m3.8 .6h0m.3-.7h0m.5 .2h0m-6.2 1.4h0m10.4 .1h0m2.3 1.7h0" stroke="#2cb274" stroke-width="1.44" stroke-linecap="round" fill="none" opacity="1.0"/><path d="M354.9 350.8h0m-1.6 1.1h0m-1.1 .7h0m.2-.5h0m.5 0h0m1.3 .1h0m0 .3h0m-4.2 1.1h0m.9-.2h0m2.4 .6h0m.1 0h0m.6-.6h0m.1 .2h0m.2-.6h0m.4 .9h0m.1-.4h0m-2.4 1.2h0m1.1-.3h0m.5 .4h0m.7-.5h0m-4.4 1.1h0m.4 .1h0m.3-.3h0m.6 .6h0m.8-.7h0m.3 .3h0m.1 .3h0m.1-.5h0m0 .1h0m0 .5h0m.3-.5h0m0 .3h0m.3 .1h0m.1-.3h0m.4 .6h0m.8-.6h0m.4 .1h0m-5.8 .7h0m3.1 .2h0m.3-.3h0m0 .1h0m.3 .6h0m.1-.6h0m0 .5h0m0-.5h0m.1 .8h0m0-.7h0m.1 0h0m.1 .4h0m.1-.4h0m.7 .1h0m.1-.2h0m.1 .7h0m.5-.6h0m.2 .7h0m.4-.9h0m1.1 0h0m-10.3 1.6h0m.3 0h0m5.4-.7h0m.1 .8h0m.2-.7h0m1 .2h0m.4 .2h0m.4 0h0m.1-.4h0m1.2 .4h0m.3-.4h0m.9 .8h0m0-.8h0m-10.6 1.1h0m.2-.1h0m.4 .1h0m4.5 .3h0m.6-.2h0m.4 .1h0m.4 .1h0m0 .3h0m1.7-.1h0m.7-.6h0m-9.6 1.9h0m.5-.5h0m.1 0h0m.3-.3h0m.7 .8h0m3.6-.9h0m.5 .4h0m.9 .5h0m.1-.8h0m.2-.2h0m0 .6h0m.1-.3h0m.2 .1h0m.2 .4h0m2.6-.7h0m-10.7 1.5h0m.2-.2h0m.2 .4h0m1.4 0h0m1 0h0m.3-.4h0m.3 .2h0m.1-.3h0m.6-.2h0m1.8 .4h0m.1 0h0m.5-.5h0m.2 .1h0m.4 .9h0m.6-.6h0m1.2 .4h0m1.9 0h0m0-.6h0m.3 .3h0m0 .3h0m-9.6 1.2h0m.7-.5h0m.4-.5h0m4 .2h0m1.2-.1h0m2.6 .4h0m-8.5 .7h0m.7 .7h0m.6-.7h0m.5 .2h0m1.2 .1h0m2-.4h0m.8 .8h0m2-.7h0m-11.5 .9h0m1.5 .7h0m2.8-.2h0m1.6-.2h0m1.8 .1h0m.7 0h0m2.6 0h0m-4.2 1.1h0m.9-.4h0m.7 .3h0m.8 .1h0m-9.1 1.1h0m0-.4h0m.5 .4h0m.3 .2h0m1.8 0h0m3.5-.6h0m-7 1h0m.1-.1h0m.7 .1h0m1 0h0m.8 .4h0m0-.4h0m.6 .7h0m-2.3 .6h0m.2 .1h0m.1-.1h0m1 .3h0m.3-.1h0m.2 0h0m.9-.1h0" stroke="#bf71bc" stroke-width="1.44" stroke-linecap="round" fill="none" opacity="1.0"/><path d="M323.5 382.4h0m.7 1.1h0m1 2.2h0m0 4.4h0m1.1 .7h0m1.1 .4h0m-5 16.7h0m.8 1.3h0m.9 1.4h0m3.3 5h0m.8 1.4h0m.9 1.4h0" stroke="#f3716b" stroke-width="1.44" stroke-linecap="round" fill="none" opacity="1.0"/><path d="M359.8 373.8h0m.9 .8h0m10.6 3h0m-7.6 3.4h0m10.5 1.4h0m1.3 1.1h0m1.5 .8h0m1 .5h0m-5.2 2h0m7.7 .9h0m-13.5 1h0m4.3 .9h0m-5.3 3.4h0m1.5 1h0m1.5 .7h0m1.4 .2h0m-27.4 13.5h0m.6 1.1h0m.8 1.1h0m.8 1.1h0" stroke="#24a4e4" stroke-width="1.44" stroke-linecap="round" fill="none" opacity="1.0"/><path d="M381.1 390.7h0m.1 .8h0m-.6 1.2h0m1.1-.5h0m.1 .5h0m-1.5 .7h0m1.1 .5h0m.4-.3h0m.1 .3h0m.5-.2h0m.1-.1h0m-2.1 .8h0m.2-.1h0m.1 .1h0m1.5 .3h0m.3 .2h0m.4-.5h0m-2.7 .6h0m.4 .1h0m.5 .6h0m1.5 0h0m.2 .2h0m.1-.4h0m.4-.3h0m-2.8 1.2h0m.6 .3h0m.3 .2h0m1.8-.6h0m-2.4 1h0m1.8 .6h0m2.5-.1h0m.5 .1h0m.9 .1h0m5-.3h0m.1 .3h0m-10.5 .3h0m.6 0h0m.6-.2h0m1.1 .4h0m.2 .1h0m.2 .3h0m.5-.7h0m1.3 .2h0m.3 0h0m.6 .3h0m0 .1h0m0-.3h0m.7-.2h0m1.8 .3h0m0 0h0m.3-.4h0m.8 .1h0m.2-.1h0m.2 0h0m0 .3h0m1.6 .4h0m.2-.4h0m-11 1.1h0m0 .2h0m.6-.8h0m1.4 .8h0m.6-.2h0m.2-.4h0m.4 0h0m.2 .7h0m.8-.5h0m.1 0h0m.9 0h0m.1 .3h0m.5-.1h0m.1 .2h0m.2-.4h0m.7 .4h0m.8-.6h0m.5 .5h0m1.8 0h0m.3-.3h0m.4 0h0m0 .3h0m.2-.6h0m0 .6h0m.4 .1h0m.4 0h0m.1 0h0m.3 .1h0m-11.7 .4h0m2.7 .5h0m.3-.4h0m.7 .3h0m.4-.2h0m.3-.3h0m.7 0h0m.2 .5h0m.1-.7h0m1.2 .9h0m.1-.6h0m.9-.1h0m2.3-.1h0m.1 .4h0m.2-.2h0m.9-.3h0m.4 .2h0m.2 .3h0m-11.1 .7h0m.3 0h0m.8-.1h0m.2 .8h0m.1-.3h0m.3 .3h0m.3-.8h0m.4 .5h0m.8 .2h0m.4-.5h0m.1 .6h0m.7 0h0m1 0h0m.3-.5h0m.7 .5h0m1.3 .1h0m2-.5h0m.1-.3h0m.1 0h0m.2 .7h0m.2-.2h0m.2-.5h0m0-.1h0m0 .3h0m.4 .1h0m.3 .3h0m.4 .1h0m-10.3 .9h0m.2-.3h0m.9 .1h0m.6-.6h0m.5 .2h0m1 0h0m.2 .6h0m1.5 .1h0m.6-.2h0m.8-.6h0m.2 .3h0m.3 .2h0m.9-.3h0m1 .6h0m.5-.9h0m-9.7 1.2h0m.3 .6h0m.3-.8h0m1.6 .2h0m2.2 .7h0m.5-.6h0m0 0h0m0 .5h0m.1-.5h0m0 .1h0m.8 .3h0m.2-.5h0m.1 0h0m.2 .6h0m.1-.2h0m.1 .1h0m.1-.3h0m.1-.1h0m.3 0h0m.4 .4h0m1.9-.1h0m0 .3h0m.1-.8h0m.5 .4h0m0 .4h0m.1-.8h0m.6 .1h0m.5 .5h0m.4 0h0m0 0h0m-8.6 .4h0m.5 .3h0m.1 .1h0m1.6-.5h0m0 .3h0m.5-.1h0m1.2 .1h0m.3 .4h0m0-.5h0m.9 .7h0m.5-.1h0m.4-.1h0m.2 .1h0m.2-.3h0m1.2 .2h0m1 .2h0m.2-.3h0m-11.6 .5h0m.1 .6h0m.2 0h0m.8-.5h0m.5 .8h0m.1-.9h0m.4 .3h0m.4 .2h0m.3-.5h0m.3 .2h0m.1 .3h0m.2-.2h0m.1 .5h0m.8-.1h0m1.4-.3h0m1.4 .2h0m.5 0h0m.1-.5h0m.1-.2h0m.2 .6h0m.4-.1h0m.7 .3h0m.8-.8h0m.2 .9h0m0-.9h0m.1 .2h0m.3 0h0m.5 .3h0m.5-.2h0m.2 .7h0m.4-1h0m.1 .5h0m-12.1 1.1h0m.1 .4h0m.5-.6h0m1.2 .4h0m1.4-.7h0m.3 .5h0m.2-.5h0m.4 0h0m1.8 .2h0m.8 .5h0m0-.8h0m.5 .8h0m.2 0h0m.7 0h0m.4-.2h0m1.4-.6h0m.1 .9h0m.3-.8h0m.1 .6h0m.5-.7h0m1.3 .4h0m.1-.4h0m-12.5 1h0m.1 1h0m.1-.7h0m0 0h0m1.5 .7h0m.2-.7h0m.8 0h0m.4-.3h0m.4 .9h0m0-.2h0m1.3-.1h0m.8-.2h0m.2-.2h0m.6 .5h0m.1 .1h0m.1-.4h0m.3 .4h0m.1 .1h0m.5-.3h0m1.1-.5h0m.4-.1h0m.5 .5h0m-8.5 1.2h0m.1-.2h0m.3 .3h0m.4 0h0m.4 .1h0m.3 .1h0m.3-.9h0m.1 .2h0m.1 .2h0m.4 .4h0m.1-.5h0m.3 .1h0m2.5-.3h0m.7 .8h0m.8-.3h0m2.1-.6h0m0 .4h0m1.4-.1h0m.2 .2h0m-12.6 1.2h0m.5-.7h0m.8 .4h0m0-.1h0m.3-.1h0m.5 .1h0m.2 .3h0m0 0h0m.5 .1h0m.4-.2h0m.4 0h0m.8-.2h0m.2-.2h0m.3 .7h0m1.4 .1h0m.4 0h0m.2-.8h0m.2-.1h0m1.1 .2h0m.5 .6h0m1.4 0h0m.3 0h0m.1-.5h0m.1 .1h0m.7-.2h0m.4 .4h0m0 .2h0m.1-.5h0m.2-.1h0m.1 .2h0m0 .3h0m.3-.4h0m1.7 .2h0m-14.4 .9h0m1.3-.2h0m.4-.2h0m.4 .1h0m.1 .1h0m.6 .5h0m.2-.6h0m.1 0h0m.6 .1h0m.4-.2h0m.3 .3h0m.5 .2h0m0 0h0m.2 .3h0m.1 0h0m.1 .1h0m.5-1h0m.3 .1h0m.5 .9h0m.5-.4h0m1-.2h0m.1 .4h0m.2-.1h0m0 .2h0m.1-.7h0m.1 .5h0m.7 .1h0m.4 .1h0m2.4-.5h0m.5 .3h0m.1-.4h0m0 .6h0m.1-.2h0m0-.5h0m.6 .7h0m1.2-.5h0m-15.6 .9h0m.1-.1h0m.2 .4h0m.2 .2h0m0-.7h0m.4 .9h0m.4-.4h0m.3 .2h0m.4-.2h0m.6 .2h0m.5-.6h0m.6 .6h0m.5-.3h0m0 .4h0m1.1-.1h0m1-.8h0m.3 .5h0m.2-.1h0m.9 .5h0m.1-.3h0m.8-.6h0m0 .5h0m0-.3h0m.5 .2h0m.9-.3h0m.6 0h0m.2 .2h0m1.8 .1h0m.2 .3h0m.4-.2h0m1.2-.1h0m.4 .5h0m.6-.8h0m-15.9 1.5h0m.7-.1h0m.2 .2h0m.1 .2h0m0-.9h0m.8 .1h0m.6 .4h0m.6-.5h0m.5 .9h0m.2 0h0m.9-.1h0m1.2-.7h0m1.2 .1h0m1.2 .4h0m0-.3h0m.4 .4h0m0 .3h0m.6-.1h0m.6-.2h0m.7 0h0m.3 .1h0m.6-.3h0m.1 .1h0m1.3-.1h0m0 0h0m.3 .2h0m1 .1h0m0-.1h0m1-.2h0m-14.3 .9h0m.5-.2h0m.2 .3h0m0-.1h0m1.1-.3h0m.5 .2h0m.1 .4h0m.6 0h0m.2-.1h0m.1-.1h0m.7-.5h0m0 .2h0m1.3 .1h0m1.1 .6h0m.3-.3h0m.8 0h0m.6 .3h0m.3-.3h0m.8 .4h0m.4-.8h0m.1 .6h0m1.8-.5h0m.4 .3h0m.4-.5h0m.2 .1h0m0 .2h0m0-.1h0m.1 .2h0m.8 .1h0m-13.2 .4h0m1.2 .5h0m.5 .2h0m0 .1h0m.9-.4h0m0 .2h0m1.4 .3h0m.1-.5h0m.2 .1h0m2.3 0h0m.6-.2h0m.1 .7h0m.1-.2h0m.4-.2h0m.7 .3h0m.8-.8h0m.3 .8h0m2.1 0h0m1.1 0h0m.3-.4h0m.4 0h0m-9.5 .7h0m.1 .5h0m.1 .1h0m0-.1h0m.1-.2h0m.5 .1h0m0-.1h0m1.5-.1h0m.5 .5h0m.9-.9h0m.2 1h0m.5-.1h0m2 0h0m1.6-.5h0m.3 .3h0m.2-.5h0m.2 .2h0m.2-.1h0m-9.3 .9h0m.5 .6h0m.7-.6h0m.8-.1h0m.3 .5h0m.3 .1h0m.3-.5h0m.8 0h0m0 0h0m.1 .7h0m.1-.8h0m0 .2h0m1.1 .7h0m1.3-.9h0m1.4 .6h0m0-.7h0m-6.6 1.3h0m1.2 .2h0m.3 0h0m1.1 .2h0m.8-.4h0m.2 .5h0m.4 .1h0m.5-.4h0m.2-.1h0m.3 0h0m.1 .1h0m-2.7 .7h0m.5 .1h0m1-.1h0m1.1 0h0m.2-.1h0m.1-.1h0m-1.4 1.1h0" stroke="#a3a436" stroke-width="1.44" stroke-linecap="round" fill="none" opacity="1.0"/></g>
<g font-size="7.65" fill="#231f20"><circle cx="424.6" cy="312.4" r="2.4" fill="#f3716b"/><text transform="rotate(0.05 428.6 315.0)" x="428.6" y="315.0">Polypoidization MK</text><circle cx="424.6" cy="321.6" r="2.4" fill="#2cb274"/><text transform="rotate(0.05 428.6 324.2)" x="428.6" y="324.2">HSC niche MK</text><circle cx="424.6" cy="330.7" r="2.4" fill="#bf71bc"/><text transform="rotate(0.05 428.6 333.3)" x="428.6" y="333.3">Platelet generation MK</text><circle cx="424.6" cy="339.5" r="2.4" fill="#24a4e4"/><text transform="rotate(0.05 428.6 342.1)" x="428.6" y="342.1">Immune MK 1</text><circle cx="424.6" cy="348.3" r="2.4" fill="#a3a436"/><text transform="rotate(0.05 428.6 350.9)" x="428.6" y="350.9">Immune MK 2</text></g>
<g><path d="M70.8 475.8H304.4" stroke="#4d4d4d" stroke-width="0.9"/><path d="M70.8 568.5H385.7" stroke="#4d4d4d" stroke-width="0.9"/><text transform="rotate(0.05 159 471.6)" x="159" y="471.6" font-size="8.4" fill="#231f20" textLength="89.4" lengthAdjust="spacingAndGlyphs">Antigen presentation</text><text transform="rotate(0.05 201 564.6)" x="201" y="564.6" font-size="8.4" fill="#231f20" textLength="54.8" lengthAdjust="spacingAndGlyphs">Phagocytosis</text><path d="M51.5 486.2V639" stroke="#4d4d4d" stroke-width="0.9"/><text transform="translate(47.9,557) rotate(-89.95)" font-size="8.4" fill="#231f20" text-anchor="middle" textLength="40.6" lengthAdjust="spacingAndGlyphs">Immune MK</text><text transform="translate(61.9,556.3) rotate(-89.95)" font-size="8.4" fill="#231f20" text-anchor="middle" textLength="54" lengthAdjust="spacingAndGlyphs">Expression Level</text><rect x="70.1" y="489.2" width="41.7" height="53.4" fill="none" stroke="#231f20" stroke-width="1.0"/><text transform="rotate(0.05 75.5 485.9)" x="75.5" y="485.9" font-size="8.2" font-style="italic" fill="#231f20" textLength="32.3" lengthAdjust="spacingAndGlyphs">H2-Ab1</text><path d="M82.0 542.6V545.6" stroke="#231f20" stroke-width="0.8"/><path d="M102.0 542.6V545.6" stroke="#231f20" stroke-width="0.8"/><rect x="118.5" y="489.2" width="41.6" height="53.4" fill="none" stroke="#231f20" stroke-width="1.0"/><text transform="rotate(0.05 123.8 485.9)" x="123.8" y="485.9" font-size="8.2" font-style="italic" fill="#231f20" textLength="31.7" lengthAdjust="spacingAndGlyphs">H2-Eb1</text><path d="M130.4 542.6V545.6" stroke="#231f20" stroke-width="0.8"/><path d="M150.3 542.6V545.6" stroke="#231f20" stroke-width="0.8"/><rect x="165.4" y="489.2" width="41.5" height="53.4" fill="none" stroke="#231f20" stroke-width="1.0"/><text transform="rotate(0.05 168.8 485.9)" x="168.8" y="485.9" font-size="8.2" font-style="italic" fill="#231f20" textLength="35.3" lengthAdjust="spacingAndGlyphs">H2-DMa</text><path d="M177.2 542.6V545.6" stroke="#231f20" stroke-width="0.8"/><path d="M197.1 542.6V545.6" stroke="#231f20" stroke-width="0.8"/><rect x="214.5" y="489.2" width="41.9" height="53.4" fill="none" stroke="#231f20" stroke-width="1.0"/><text transform="rotate(0.05 216 485.9)" x="216" y="485.9" font-size="8.2" font-style="italic" fill="#231f20" textLength="40.8" lengthAdjust="spacingAndGlyphs">H2-DMb1</text><path d="M226.4 542.6V545.6" stroke="#231f20" stroke-width="0.8"/><path d="M246.6 542.6V545.6" stroke="#231f20" stroke-width="0.8"/><rect x="266.3" y="489.2" width="41.9" height="53.4" fill="none" stroke="#231f20" stroke-width="1.0"/><text transform="rotate(0.05 276.5 485.9)" x="276.5" y="485.9" font-size="8.2" font-style="italic" fill="#231f20" textLength="22.6" lengthAdjust="spacingAndGlyphs">Cd74</text><path d="M278.2 542.6V545.6" stroke="#231f20" stroke-width="0.8"/><path d="M298.4 542.6V545.6" stroke="#231f20" stroke-width="0.8"/><path d="M81.8 493.2 L81.7 493.3 L81.4 493.4 L81.1 493.5 L80.8 493.7 L80.5 493.8 L80.2 494.0 L80.0 494.2 L79.8 494.3 L79.6 494.5 L79.4 494.7 L79.2 494.9 L79.0 495.2 L78.8 495.6 L78.6 496.0 L78.4 496.5 L78.2 497.0 L78.0 497.5 L77.8 498.0 L77.7 498.5 L77.6 498.9 L77.6 499.3 L77.5 499.8 L77.5 500.3 L77.5 500.8 L77.6 501.4 L77.8 501.9 L78.0 502.5 L78.2 503.2 L78.4 503.8 L78.5 504.5 L78.7 505.2 L78.9 506.0 L79.1 506.7 L79.3 507.5 L79.4 508.3 L79.5 509.1 L79.6 509.9 L79.7 510.6 L79.8 511.4 L79.8 512.2 L79.8 512.9 L79.8 513.7 L79.9 514.5 L79.9 515.2 L79.8 516.0 L79.8 516.8 L79.7 517.5 L79.6 518.3 L79.5 519.1 L79.4 519.8 L79.2 520.6 L79.0 521.4 L78.8 522.1 L78.5 522.9 L78.3 523.7 L78.1 524.4 L77.8 525.2 L77.6 526.0 L77.3 526.7 L77.0 527.5 L76.8 528.3 L76.4 529.1 L76.1 529.9 L75.8 530.7 L75.5 531.5 L75.2 532.2 L75.0 532.9 L74.8 533.5 L74.6 534.2 L74.4 534.8 L74.2 535.4 L74.0 535.9 L73.9 536.4 L73.7 536.9 L73.5 537.4 L73.3 537.9 L73.1 538.3 L73.0 538.6 L73.0 538.9 L73.0 539.1 L73.0 539.2 L73.1 539.3 L73.2 539.4 L73.2 539.5 L73.4 539.6 L73.6 539.7 L73.8 539.7 L74.0 539.7 L74.2 539.8 L74.3 539.8 L89.3 539.8 L89.5 539.8 L89.7 539.7 L89.9 539.7 L90.1 539.7 L90.3 539.6 L90.4 539.5 L90.5 539.4 L90.6 539.3 L90.7 539.2 L90.7 539.1 L90.7 538.9 L90.6 538.6 L90.6 538.3 L90.4 537.9 L90.2 537.4 L90.0 536.9 L89.8 536.4 L89.6 535.9 L89.5 535.4 L89.3 534.8 L89.1 534.2 L88.9 533.5 L88.7 532.9 L88.4 532.2 L88.2 531.5 L87.9 530.7 L87.6 529.9 L87.2 529.1 L86.9 528.3 L86.6 527.5 L86.4 526.7 L86.1 526.0 L85.9 525.2 L85.6 524.4 L85.4 523.7 L85.1 522.9 L84.9 522.1 L84.7 521.4 L84.5 520.6 L84.3 519.8 L84.2 519.1 L84.0 518.3 L84.0 517.5 L83.9 516.8 L83.9 516.0 L83.8 515.2 L83.8 514.5 L83.8 513.7 L83.9 512.9 L83.9 512.2 L83.9 511.4 L84.0 510.6 L84.1 509.9 L84.1 509.1 L84.3 508.3 L84.4 507.5 L84.6 506.7 L84.8 506.0 L85.0 505.2 L85.1 504.5 L85.3 503.8 L85.5 503.2 L85.7 502.5 L85.9 501.9 L86.1 501.4 L86.1 500.8 L86.2 500.3 L86.2 499.8 L86.1 499.3 L86.1 498.9 L86.0 498.5 L85.8 498.0 L85.7 497.5 L85.5 497.0 L85.3 496.5 L85.1 496.0 L84.9 495.6 L84.6 495.2 L84.5 494.9 L84.3 494.7 L84.1 494.5 L83.9 494.3 L83.7 494.2 L83.4 494.0 L83.2 493.8 L82.9 493.7 L82.6 493.5 L82.3 493.4 L82.0 493.3 L81.8 493.2Z" fill="#1b5592" stroke="#231f20" stroke-width="0.6" stroke-linejoin="round"/><path d="M102.2 502.2V539.4" stroke="#231f20" stroke-width="0.75"/><rect x="93.9" y="539.05" width="16.1" height="0.70" fill="#7a8a7a" stroke="#231f20" stroke-width="0.6"/><path d="M101.3 534.4L102.2 535.6L103.1 534.4Z" fill="#231f20"/><path d="M130.8 492.3 L130.6 492.4 L130.4 492.5 L130.1 492.7 L129.8 492.9 L129.5 493.1 L129.3 493.3 L129.1 493.5 L128.9 493.8 L128.7 494.1 L128.6 494.4 L128.4 494.8 L128.3 495.2 L128.2 495.7 L128.1 496.2 L128.0 496.8 L127.9 497.5 L127.9 498.2 L127.9 498.9 L128.0 499.7 L128.2 500.6 L128.4 501.6 L128.6 502.6 L128.8 503.6 L129.0 504.5 L129.1 505.4 L129.3 506.3 L129.4 507.3 L129.5 508.2 L129.6 509.1 L129.7 510.0 L129.7 510.9 L129.8 511.8 L129.8 512.7 L129.8 513.7 L129.7 514.6 L129.7 515.5 L129.6 516.4 L129.6 517.4 L129.5 518.4 L129.4 519.3 L129.2 520.2 L129.1 521.1 L128.9 521.9 L128.8 522.7 L128.6 523.5 L128.4 524.2 L128.2 524.9 L127.9 525.7 L127.6 526.5 L127.2 527.2 L126.9 528.0 L126.5 528.8 L126.1 529.5 L125.7 530.3 L125.3 531.1 L125.0 531.9 L124.6 532.7 L124.2 533.5 L123.9 534.2 L123.6 534.9 L123.3 535.6 L123.1 536.2 L122.9 536.8 L122.7 537.3 L122.5 537.8 L122.4 538.2 L122.3 538.5 L122.3 538.8 L122.3 538.9 L122.4 539.1 L122.4 539.2 L122.5 539.3 L122.6 539.4 L122.7 539.5 L122.9 539.6 L123.1 539.6 L123.2 539.7 L123.3 539.7 L138.3 539.7 L138.4 539.7 L138.5 539.6 L138.7 539.6 L138.9 539.5 L139.0 539.4 L139.1 539.3 L139.2 539.2 L139.2 539.1 L139.3 538.9 L139.3 538.8 L139.3 538.5 L139.2 538.2 L139.1 537.8 L138.9 537.3 L138.7 536.8 L138.5 536.2 L138.3 535.6 L138.0 534.9 L137.7 534.2 L137.4 533.5 L137.0 532.7 L136.6 531.9 L136.3 531.1 L135.9 530.3 L135.5 529.5 L135.1 528.8 L134.7 528.0 L134.4 527.2 L134.0 526.5 L133.7 525.7 L133.4 524.9 L133.2 524.2 L133.0 523.5 L132.8 522.7 L132.7 521.9 L132.5 521.1 L132.4 520.2 L132.2 519.3 L132.1 518.4 L132.0 517.4 L132.0 516.4 L131.9 515.5 L131.9 514.6 L131.8 513.7 L131.8 512.7 L131.8 511.8 L131.9 510.9 L131.9 510.0 L132.0 509.1 L132.1 508.2 L132.2 507.3 L132.3 506.3 L132.5 505.4 L132.6 504.5 L132.8 503.6 L133.0 502.6 L133.2 501.6 L133.4 500.6 L133.6 499.7 L133.7 498.9 L133.7 498.2 L133.7 497.5 L133.6 496.8 L133.5 496.2 L133.4 495.7 L133.3 495.2 L133.2 494.8 L133.0 494.4 L132.9 494.1 L132.7 493.8 L132.5 493.5 L132.3 493.3 L132.1 493.1 L131.8 492.9 L131.5 492.7 L131.2 492.5 L131.0 492.4 L130.8 492.3Z" fill="#1b5592" stroke="#231f20" stroke-width="0.6" stroke-linejoin="round"/><path d="M150.3 502.2V539.4" stroke="#231f20" stroke-width="0.75"/><rect x="142.3" y="539.05" width="17.1" height="0.70" fill="#7a8a7a" stroke="#231f20" stroke-width="0.6"/><path d="M149.4 533.4L150.3 534.6L151.2 533.4Z" fill="#231f20"/><path d="M177.0 495.2 L176.8 495.2 L176.6 495.3 L176.4 495.4 L176.1 495.5 L175.8 495.6 L175.6 495.8 L175.4 496.1 L175.2 496.4 L175.0 496.7 L174.9 497.1 L174.7 497.5 L174.5 498.0 L174.3 498.5 L174.1 499.1 L173.9 499.7 L173.7 500.3 L173.5 501.0 L173.3 501.7 L173.1 502.4 L173.0 503.1 L172.9 503.9 L172.8 504.7 L172.7 505.5 L172.6 506.3 L172.5 507.2 L172.5 508.1 L172.4 509.0 L172.4 510.0 L172.4 511.0 L172.3 511.9 L172.2 512.8 L172.2 513.7 L172.1 514.7 L172.0 515.6 L171.9 516.5 L171.8 517.4 L171.7 518.3 L171.6 519.2 L171.5 520.1 L171.3 521.1 L171.2 522.0 L171.1 522.9 L171.0 523.8 L170.8 524.8 L170.7 525.7 L170.6 526.6 L170.5 527.6 L170.4 528.5 L170.4 529.4 L170.3 530.4 L170.3 531.4 L170.3 532.3 L170.3 533.2 L170.2 534.0 L170.0 534.7 L169.8 535.3 L169.6 535.8 L169.3 536.3 L169.1 536.8 L168.9 537.2 L168.8 537.6 L168.6 538.0 L168.5 538.3 L168.5 538.6 L168.4 538.9 L168.4 539.1 L168.4 539.3 L168.5 539.4 L168.7 539.5 L168.8 539.6 L168.9 539.6 L169.0 539.7 L185.0 539.7 L185.1 539.6 L185.2 539.6 L185.3 539.5 L185.5 539.4 L185.6 539.3 L185.6 539.1 L185.6 538.9 L185.5 538.6 L185.5 538.3 L185.4 538.0 L185.2 537.6 L185.1 537.2 L184.9 536.8 L184.7 536.3 L184.4 535.8 L184.2 535.3 L184.0 534.7 L183.8 534.0 L183.7 533.2 L183.7 532.3 L183.7 531.4 L183.7 530.4 L183.6 529.4 L183.6 528.5 L183.5 527.6 L183.4 526.6 L183.3 525.7 L183.2 524.8 L183.0 523.8 L182.9 522.9 L182.8 522.0 L182.7 521.1 L182.5 520.1 L182.4 519.2 L182.3 518.3 L182.2 517.4 L182.1 516.5 L182.0 515.6 L181.9 514.7 L181.8 513.7 L181.8 512.8 L181.7 511.9 L181.6 511.0 L181.6 510.0 L181.6 509.0 L181.5 508.1 L181.5 507.2 L181.4 506.3 L181.3 505.5 L181.2 504.7 L181.1 503.9 L181.0 503.1 L180.9 502.4 L180.7 501.7 L180.5 501.0 L180.3 500.3 L180.1 499.7 L179.9 499.1 L179.7 498.5 L179.5 498.0 L179.3 497.5 L179.1 497.1 L179.0 496.7 L178.8 496.4 L178.6 496.1 L178.4 495.8 L178.2 495.6 L177.9 495.5 L177.6 495.4 L177.4 495.3 L177.2 495.2 L177.0 495.2Z" fill="#1b5592" stroke="#231f20" stroke-width="0.6" stroke-linejoin="round"/><path d="M197.2 507.7V539.4" stroke="#231f20" stroke-width="0.75"/><rect x="189.3" y="539.05" width="16.6" height="0.70" fill="#7a8a7a" stroke="#231f20" stroke-width="0.6"/><path d="M196.3 523.3L197.2 524.5L198.1 523.3Z" fill="#231f20"/><path d="M196.3 526.5L197.2 527.7L198.1 526.5Z" fill="#231f20"/><path d="M196.3 530.8L197.2 532.0L198.1 530.8Z" fill="#231f20"/><path d="M226.5 493.8 L226.4 494.4 L226.2 495.3 L226.0 496.3 L225.7 497.4 L225.5 498.6 L225.3 499.9 L225.2 501.3 L225.1 502.7 L224.9 504.3 L224.8 505.9 L224.7 507.5 L224.7 509.1 L224.6 510.6 L224.5 512.2 L224.5 513.7 L224.5 515.2 L224.4 516.8 L224.4 518.3 L224.4 519.9 L224.3 521.5 L224.3 523.2 L224.3 524.8 L224.2 526.2 L224.2 527.5 L224.1 528.6 L224.1 529.4 L224.0 530.2 L223.9 530.9 L223.9 531.4 L223.8 532.0 L223.8 532.5 L223.8 532.8 L223.8 533.1 L223.8 533.4 L223.7 533.6 L223.5 534.0 L223.2 534.4 L222.8 534.9 L222.4 535.4 L221.9 535.9 L221.4 536.4 L221.0 536.8 L220.6 537.2 L220.1 537.6 L219.6 538.1 L219.1 538.4 L218.7 538.8 L218.4 539.1 L218.1 539.4 L217.9 539.6 L217.8 539.8 L217.7 539.9 L217.6 540.1 L217.6 540.2 L217.7 540.3 L217.8 540.4 L218.0 540.5 L218.2 540.5 L218.4 540.6 L218.5 540.6 L234.5 540.6 L234.6 540.6 L234.8 540.5 L235.0 540.5 L235.2 540.4 L235.3 540.3 L235.4 540.2 L235.4 540.1 L235.3 539.9 L235.2 539.8 L235.1 539.6 L234.9 539.4 L234.6 539.1 L234.3 538.8 L233.9 538.4 L233.4 538.1 L232.9 537.6 L232.4 537.2 L232.0 536.8 L231.6 536.4 L231.1 535.9 L230.6 535.4 L230.2 534.9 L229.8 534.4 L229.5 534.0 L229.3 533.6 L229.2 533.4 L229.2 533.1 L229.2 532.8 L229.2 532.5 L229.2 532.0 L229.1 531.4 L229.1 530.9 L229.0 530.2 L228.9 529.4 L228.9 528.6 L228.8 527.5 L228.8 526.2 L228.7 524.8 L228.7 523.2 L228.7 521.5 L228.6 519.9 L228.6 518.3 L228.6 516.8 L228.5 515.2 L228.5 513.7 L228.5 512.2 L228.4 510.6 L228.3 509.1 L228.3 507.5 L228.2 505.9 L228.1 504.3 L227.9 502.7 L227.8 501.3 L227.7 499.9 L227.5 498.6 L227.3 497.4 L227.0 496.3 L226.8 495.3 L226.6 494.4 L226.5 493.8Z" fill="#1b5592" stroke="#231f20" stroke-width="0.6" stroke-linejoin="round"/><path d="M246.2 508.6V540.3" stroke="#231f20" stroke-width="0.75"/><rect x="237.9" y="539.95" width="16.8" height="0.70" fill="#7a8a7a" stroke="#231f20" stroke-width="0.6"/><path d="M245.3 527.7L246.2 528.9L247.1 527.7Z" fill="#231f20"/><path d="M245.3 532.3L246.2 533.5L247.1 532.3Z" fill="#231f20"/><path d="M278.6 494.1 L278.4 494.2 L278.1 494.2 L277.7 494.3 L277.3 494.4 L276.9 494.5 L276.6 494.7 L276.3 494.9 L276.1 495.1 L275.8 495.3 L275.6 495.5 L275.3 495.8 L275.1 496.2 L274.8 496.7 L274.6 497.2 L274.3 497.9 L274.1 498.5 L273.9 499.2 L273.7 499.9 L273.6 500.6 L273.5 501.4 L273.5 502.1 L273.5 502.9 L273.5 503.7 L273.6 504.5 L273.7 505.3 L273.9 506.0 L274.1 506.8 L274.3 507.6 L274.6 508.3 L274.8 509.1 L275.1 509.9 L275.3 510.6 L275.6 511.4 L275.9 512.2 L276.1 512.9 L276.3 513.7 L276.4 514.5 L276.5 515.2 L276.5 516.0 L276.4 516.8 L276.4 517.5 L276.3 518.3 L276.2 519.1 L276.1 519.8 L275.9 520.6 L275.7 521.4 L275.5 522.1 L275.2 522.9 L274.9 523.7 L274.6 524.4 L274.2 525.2 L273.8 526.0 L273.5 526.7 L273.1 527.5 L272.7 528.3 L272.4 529.1 L272.0 529.9 L271.7 530.6 L271.4 531.4 L271.1 532.2 L270.9 533.0 L270.7 533.8 L270.6 534.6 L270.5 535.4 L270.4 536.1 L270.3 536.8 L270.2 537.4 L270.2 537.9 L270.2 538.4 L270.2 538.9 L270.3 539.3 L270.4 539.6 L270.6 539.9 L270.9 540.1 L271.3 540.2 L271.6 540.3 L271.9 540.4 L272.1 540.5 L285.1 540.5 L285.3 540.4 L285.6 540.3 L285.9 540.2 L286.3 540.1 L286.6 539.9 L286.8 539.6 L286.9 539.3 L287.0 538.9 L287.0 538.4 L287.0 537.9 L287.0 537.4 L286.9 536.8 L286.8 536.1 L286.7 535.4 L286.6 534.6 L286.5 533.8 L286.3 533.0 L286.1 532.2 L285.8 531.4 L285.5 530.6 L285.2 529.9 L284.8 529.1 L284.5 528.3 L284.1 527.5 L283.7 526.7 L283.4 526.0 L283.0 525.2 L282.6 524.4 L282.3 523.7 L282.0 522.9 L281.7 522.1 L281.5 521.4 L281.3 520.6 L281.1 519.8 L281.0 519.1 L280.9 518.3 L280.8 517.5 L280.8 516.8 L280.7 516.0 L280.7 515.2 L280.8 514.5 L280.9 513.7 L281.1 512.9 L281.3 512.2 L281.6 511.4 L281.9 510.6 L282.2 509.9 L282.4 509.1 L282.6 508.3 L282.9 507.6 L283.1 506.8 L283.3 506.0 L283.5 505.3 L283.6 504.5 L283.7 503.7 L283.7 502.9 L283.7 502.1 L283.7 501.4 L283.6 500.6 L283.5 499.9 L283.3 499.2 L283.1 498.5 L282.9 497.9 L282.6 497.2 L282.4 496.7 L282.1 496.2 L281.9 495.8 L281.6 495.5 L281.4 495.3 L281.1 495.1 L280.9 494.9 L280.6 494.7 L280.3 494.5 L279.9 494.4 L279.5 494.3 L279.1 494.2 L278.8 494.2 L278.6 494.1Z" fill="#1b5592" stroke="#231f20" stroke-width="0.6" stroke-linejoin="round"/><path d="M297.7 507.2V540" stroke="#231f20" stroke-width="0.75"/><path d="M297.7 531.4 L297.6 531.5 L297.4 531.6 L297.2 531.8 L297.0 532.0 L296.8 532.2 L296.6 532.4 L296.4 532.6 L296.2 532.9 L296.1 533.1 L295.9 533.4 L295.8 533.6 L295.7 533.9 L295.7 534.2 L295.7 534.4 L295.8 534.7 L295.9 534.9 L296.0 535.2 L296.1 535.4 L296.2 535.6 L296.4 535.9 L296.6 536.1 L296.8 536.3 L296.9 536.5 L297.0 536.7 L297.0 536.9 L297.0 537.0 L296.9 537.2 L296.8 537.3 L296.7 537.4 L296.6 537.6 L296.5 537.8 L296.3 538.0 L296.1 538.2 L295.9 538.4 L295.6 538.6 L295.3 538.8 L295.0 539.0 L294.6 539.1 L294.1 539.3 L293.7 539.4 L293.2 539.6 L292.7 539.7 L292.1 539.8 L291.4 539.9 L290.6 540.0 L290.0 540.1 L289.4 540.1 L289.1 540.2 L289.1 540.3 L289.3 540.3 L289.7 540.4 L290.1 540.4 L290.5 540.5 L290.7 540.5 L304.7 540.5 L304.9 540.5 L305.3 540.4 L305.7 540.4 L306.1 540.3 L306.3 540.3 L306.3 540.2 L306.0 540.1 L305.4 540.1 L304.8 540.0 L304.0 539.9 L303.3 539.8 L302.7 539.7 L302.2 539.6 L301.7 539.4 L301.3 539.3 L300.8 539.1 L300.4 539.0 L300.1 538.8 L299.8 538.6 L299.5 538.4 L299.3 538.2 L299.1 538.0 L298.9 537.8 L298.8 537.6 L298.7 537.4 L298.6 537.3 L298.5 537.2 L298.4 537.0 L298.4 536.9 L298.4 536.7 L298.5 536.5 L298.6 536.3 L298.8 536.1 L299.0 535.9 L299.2 535.6 L299.3 535.4 L299.4 535.2 L299.5 534.9 L299.6 534.7 L299.7 534.4 L299.7 534.2 L299.7 533.9 L299.6 533.6 L299.5 533.4 L299.3 533.1 L299.2 532.9 L299.0 532.6 L298.8 532.4 L298.6 532.2 L298.4 532.0 L298.2 531.8 L298.0 531.6 L297.8 531.5 L297.7 531.4Z" fill="#3db54a" stroke="#231f20" stroke-width="0.6" stroke-linejoin="round"/><rect x="69.6" y="588.2" width="42.1" height="51.6" fill="none" stroke="#231f20" stroke-width="1.0"/><text transform="rotate(0.05 79.6 583.3)" x="79.6" y="583.3" font-size="8.8" fill="#231f20" textLength="22.6" lengthAdjust="spacingAndGlyphs">C1qa</text><path d="M81.8 639.6V642.7" stroke="#231f20" stroke-width="0.8"/><path d="M101.8 639.6V642.7" stroke="#231f20" stroke-width="0.8"/><rect x="116.2" y="588.2" width="41.6" height="51.6" fill="none" stroke="#231f20" stroke-width="1.0"/><text transform="rotate(0.05 128 583.3)" x="128" y="583.3" font-size="8.8" fill="#231f20" textLength="23.0" lengthAdjust="spacingAndGlyphs">C1qb</text><path d="M128.3 639.6V642.7" stroke="#231f20" stroke-width="0.8"/><path d="M148.0 639.6V642.7" stroke="#231f20" stroke-width="0.8"/><rect x="163.3" y="588.2" width="42.1" height="51.6" fill="none" stroke="#231f20" stroke-width="1.0"/><text transform="rotate(0.05 175 583.3)" x="175" y="583.3" font-size="8.8" fill="#231f20" textLength="22.0" lengthAdjust="spacingAndGlyphs">C1qc</text><path d="M175.5 639.6V642.7" stroke="#231f20" stroke-width="0.8"/><path d="M195.5 639.6V642.7" stroke="#231f20" stroke-width="0.8"/><rect x="210.3" y="588.2" width="41.7" height="51.6" fill="none" stroke="#231f20" stroke-width="1.0"/><text transform="rotate(0.05 223 583.3)" x="223" y="583.3" font-size="8.8" fill="#231f20" textLength="20.0" lengthAdjust="spacingAndGlyphs">Ctsb</text><path d="M222.4 639.6V642.7" stroke="#231f20" stroke-width="0.8"/><path d="M242.2 639.6V642.7" stroke="#231f20" stroke-width="0.8"/><rect x="258.5" y="588.2" width="41.6" height="51.6" fill="none" stroke="#231f20" stroke-width="1.0"/><text transform="rotate(0.05 267.3 583.3)" x="267.3" y="583.3" font-size="8.8" fill="#231f20" textLength="19.7" lengthAdjust="spacingAndGlyphs">Ctsd</text><path d="M270.6 639.6V642.7" stroke="#231f20" stroke-width="0.8"/><path d="M290.3 639.6V642.7" stroke="#231f20" stroke-width="0.8"/><rect x="304.4" y="588.2" width="41.9" height="51.6" fill="none" stroke="#231f20" stroke-width="1.0"/><text transform="rotate(0.05 316 583.3)" x="316" y="583.3" font-size="8.8" fill="#231f20" textLength="16.5" lengthAdjust="spacingAndGlyphs">Ctsl</text><path d="M316.6 639.6V642.7" stroke="#231f20" stroke-width="0.8"/><path d="M336.5 639.6V642.7" stroke="#231f20" stroke-width="0.8"/><rect x="351.6" y="588.2" width="41.5" height="51.6" fill="none" stroke="#231f20" stroke-width="1.0"/><text transform="rotate(0.05 358.5 583.3)" x="358.5" y="583.3" font-size="8.8" fill="#231f20" textLength="23.4" lengthAdjust="spacingAndGlyphs">Fcgr3</text><path d="M363.6 639.6V642.7" stroke="#231f20" stroke-width="0.8"/><path d="M383.3 639.6V642.7" stroke="#231f20" stroke-width="0.8"/><path d="M81.6 593.8V636.0" stroke="#231f20" stroke-width="0.8"/><path d="M81.6 591.8 L81.5 592.0 L81.4 592.1 L81.2 592.4 L81.1 592.7 L80.9 593.0 L80.8 593.3 L80.7 593.6 L80.7 593.9 L80.6 594.3 L80.6 594.7 L80.6 595.2 L80.6 595.9 L80.6 596.7 L80.7 597.8 L80.8 598.9 L80.8 600.1 L80.9 601.1 L81.0 602.0 L81.1 602.7 L81.1 603.3 L81.2 603.9 L81.3 604.3 L81.4 604.7 L81.4 605.0 L81.8 605.0 L81.8 604.7 L81.9 604.3 L82.0 603.9 L82.1 603.3 L82.1 602.7 L82.2 602.0 L82.3 601.1 L82.4 600.1 L82.4 598.9 L82.5 597.8 L82.6 596.7 L82.6 595.9 L82.6 595.2 L82.6 594.7 L82.6 594.3 L82.5 593.9 L82.5 593.6 L82.4 593.3 L82.3 593.0 L82.1 592.7 L82.0 592.4 L81.8 592.1 L81.7 592.0 L81.6 591.8Z" fill="#1b5592" stroke="#231f20" stroke-width="0.5" stroke-linejoin="round"/><path d="M81.6 629.2L83.2 631.0L81.6 632.8L80.0 631.0Z" fill="#1b5592" stroke="#231f20" stroke-width="0.5" stroke-linejoin="round"/><path d="M81.3 634.4 L80.4 635.2 L78.1 636.0 L75.1 636.6 L72.6 637.0 L73.5 637.5 L89.7 637.5 L90.6 637.0 L88.1 636.6 L85.1 636.0 L82.8 635.2 L81.9 634.4Z" fill="#1b5592" stroke="#231f20" stroke-width="0.5" stroke-linejoin="round"/><path d="M101.4 614.4V636.8" stroke="#231f20" stroke-width="0.8"/><path d="M101.4 596.5 L101.1 596.8 L100.6 597.2 L100.0 597.7 L99.5 598.1 L98.9 598.6 L98.3 599.1 L97.6 599.7 L97.0 600.2 L96.3 600.7 L95.6 601.3 L94.9 601.8 L94.3 602.2 L93.9 602.7 L93.5 603.0 L93.2 603.4 L93.0 603.7 L92.8 604.0 L92.7 604.2 L92.6 604.4 L92.6 604.7 L92.6 605.1 L92.7 605.5 L92.9 605.9 L93.1 606.3 L93.3 606.7 L93.5 607.1 L93.8 607.5 L94.1 607.9 L94.5 608.3 L95.0 608.7 L95.4 609.1 L95.9 609.5 L96.4 609.9 L96.8 610.3 L97.3 610.7 L97.8 611.1 L98.2 611.5 L98.7 611.9 L99.1 612.3 L99.5 612.7 L99.8 613.1 L100.2 613.6 L100.5 614.0 L100.7 614.3 L100.9 614.7 L100.9 615.0 L101.0 615.2 L101.0 615.4 L101.8 615.4 L101.8 615.2 L101.9 615.0 L101.9 614.7 L102.1 614.3 L102.3 614.0 L102.6 613.6 L103.0 613.1 L103.3 612.7 L103.7 612.3 L104.1 611.9 L104.6 611.5 L105.0 611.1 L105.5 610.7 L106.0 610.3 L106.4 609.9 L106.9 609.5 L107.4 609.1 L107.8 608.7 L108.3 608.3 L108.7 607.9 L109.0 607.5 L109.3 607.1 L109.5 606.7 L109.7 606.3 L109.9 605.9 L110.1 605.5 L110.2 605.1 L110.2 604.7 L110.2 604.4 L110.1 604.2 L110.0 604.0 L109.8 603.7 L109.6 603.4 L109.3 603.0 L108.9 602.7 L108.5 602.2 L107.9 601.8 L107.2 601.3 L106.5 600.7 L105.8 600.2 L105.2 599.7 L104.5 599.1 L103.9 598.6 L103.3 598.1 L102.8 597.7 L102.2 597.2 L101.7 596.8 L101.4 596.5Z" fill="#3db54a" stroke="#231f20" stroke-width="0.75" stroke-linejoin="round"/><path d="M128.1 594.0V636.2" stroke="#231f20" stroke-width="0.8"/><path d="M128.1 592.0 L128.0 592.1 L127.8 592.3 L127.7 592.5 L127.5 592.7 L127.3 593.1 L127.2 593.5 L127.1 594.0 L127.1 594.6 L127.0 595.3 L127.0 596.1 L127.0 597.0 L127.0 598.0 L127.0 599.3 L127.1 600.9 L127.2 602.6 L127.3 604.3 L127.4 605.8 L127.4 607.0 L127.5 607.9 L127.6 608.6 L127.7 609.1 L127.8 609.4 L127.8 609.7 L127.9 610.0 L128.3 610.0 L128.4 609.7 L128.4 609.4 L128.5 609.1 L128.6 608.6 L128.7 607.9 L128.8 607.0 L128.8 605.8 L128.9 604.3 L129.0 602.6 L129.1 600.9 L129.2 599.3 L129.2 598.0 L129.2 597.0 L129.2 596.1 L129.2 595.3 L129.1 594.6 L129.1 594.0 L129.0 593.5 L128.9 593.1 L128.7 592.7 L128.5 592.5 L128.4 592.3 L128.2 592.1 L128.1 592.0Z" fill="#1b5592" stroke="#231f20" stroke-width="0.5" stroke-linejoin="round"/><path d="M128.1 629.8L129.9 631.9L128.1 634.0L126.3 631.9Z" fill="#1b5592" stroke="#231f20" stroke-width="0.5" stroke-linejoin="round"/><path d="M127.8 634.6 L126.9 635.4 L124.6 636.2 L121.6 636.8 L118.8 637.2 L119.7 637.7 L136.5 637.7 L137.4 637.2 L134.6 636.8 L131.6 636.2 L129.3 635.4 L128.4 634.6Z" fill="#1b5592" stroke="#231f20" stroke-width="0.5" stroke-linejoin="round"/><path d="M147.7 608.8V637.7" stroke="#231f20" stroke-width="0.8"/><path d="M147.7 594.5 L147.4 594.7 L146.9 595.1 L146.4 595.5 L145.8 595.8 L145.3 596.2 L144.7 596.7 L144.1 597.1 L143.4 597.5 L142.8 597.9 L142.1 598.4 L141.5 598.8 L140.9 599.2 L140.5 599.5 L140.1 599.8 L139.9 600.1 L139.6 600.4 L139.4 600.6 L139.3 600.8 L139.2 601.0 L139.2 601.2 L139.2 601.5 L139.4 601.8 L139.5 602.2 L139.7 602.5 L139.9 602.8 L140.1 603.1 L140.4 603.5 L140.7 603.8 L141.1 604.1 L141.5 604.4 L142.0 604.7 L142.4 605.1 L142.9 605.4 L143.3 605.7 L143.8 606.0 L144.2 606.4 L144.6 606.7 L145.1 607.0 L145.5 607.3 L145.8 607.6 L146.2 608.0 L146.5 608.3 L146.8 608.6 L147.0 608.9 L147.2 609.2 L147.3 609.5 L147.3 609.7 L147.4 609.8 L148.0 609.8 L148.1 609.7 L148.1 609.5 L148.2 609.2 L148.4 608.9 L148.6 608.6 L148.9 608.3 L149.2 608.0 L149.6 607.6 L149.9 607.3 L150.3 607.0 L150.8 606.7 L151.2 606.4 L151.6 606.0 L152.1 605.7 L152.5 605.4 L153.0 605.1 L153.4 604.7 L153.9 604.4 L154.3 604.1 L154.7 603.8 L155.0 603.5 L155.3 603.1 L155.5 602.8 L155.7 602.5 L155.9 602.2 L156.0 601.8 L156.2 601.5 L156.2 601.2 L156.2 601.0 L156.1 600.8 L156.0 600.6 L155.8 600.4 L155.5 600.1 L155.3 599.8 L154.9 599.5 L154.5 599.2 L153.9 598.8 L153.3 598.4 L152.6 597.9 L151.9 597.5 L151.3 597.1 L150.7 596.7 L150.1 596.2 L149.6 595.8 L149.0 595.5 L148.5 595.1 L148.0 594.7 L147.7 594.5Z" fill="#3db54a" stroke="#231f20" stroke-width="0.75" stroke-linejoin="round"/><path d="M175.8 595.8V635.8" stroke="#231f20" stroke-width="0.8"/><path d="M175.8 593.8 L175.7 594.0 L175.6 594.2 L175.5 594.5 L175.4 594.8 L175.2 595.1 L175.2 595.3 L175.1 595.5 L175.1 595.6 L175.0 595.7 L175.0 595.8 L175.0 596.0 L175.0 596.3 L175.0 596.7 L175.1 597.3 L175.1 598.0 L175.2 598.7 L175.3 599.4 L175.3 600.0 L175.4 600.6 L175.4 601.2 L175.5 601.7 L175.5 602.2 L175.6 602.7 L175.6 603.0 L176.0 603.0 L176.0 602.7 L176.1 602.2 L176.1 601.7 L176.2 601.2 L176.2 600.6 L176.3 600.0 L176.3 599.4 L176.4 598.7 L176.5 598.0 L176.5 597.3 L176.6 596.7 L176.6 596.3 L176.6 596.0 L176.6 595.8 L176.6 595.7 L176.5 595.6 L176.5 595.5 L176.4 595.3 L176.4 595.1 L176.2 594.8 L176.1 594.5 L176.0 594.2 L175.9 594.0 L175.8 593.8Z" fill="#1b5592" stroke="#231f20" stroke-width="0.5" stroke-linejoin="round"/><path d="M175.8 629.3L177.2 630.9L175.8 632.5L174.4 630.9Z" fill="#1b5592" stroke="#231f20" stroke-width="0.5" stroke-linejoin="round"/><path d="M175.5 634.2 L174.6 635.0 L172.3 635.8 L169.3 636.4 L167.2 636.8 L168.0 637.2 L183.6 637.2 L184.5 636.8 L182.3 636.4 L179.3 635.8 L177.0 635.0 L176.1 634.2Z" fill="#1b5592" stroke="#231f20" stroke-width="0.5" stroke-linejoin="round"/><path d="M194.8 611.9V637.2" stroke="#231f20" stroke-width="0.8"/><path d="M194.8 596.0 L194.5 596.3 L194.0 596.7 L193.4 597.1 L192.9 597.6 L192.3 598.1 L191.7 598.6 L191.1 599.1 L190.4 599.6 L189.8 600.1 L189.0 600.6 L188.4 601.1 L187.8 601.6 L187.4 602.0 L187.0 602.4 L186.7 602.7 L186.5 603.0 L186.3 603.3 L186.2 603.5 L186.1 603.7 L186.1 604.0 L186.1 604.3 L186.2 604.6 L186.4 605.0 L186.6 605.3 L186.8 605.7 L187.0 606.0 L187.3 606.3 L187.6 606.7 L188.0 607.0 L188.5 607.3 L188.9 607.7 L189.4 608.0 L189.8 608.3 L190.3 608.7 L190.8 609.0 L191.2 609.3 L191.7 609.7 L192.1 610.0 L192.5 610.3 L192.9 610.7 L193.2 611.0 L193.6 611.4 L193.9 611.7 L194.1 612.0 L194.3 612.3 L194.4 612.5 L194.4 612.8 L194.5 612.9 L195.2 612.9 L195.2 612.8 L195.2 612.5 L195.3 612.3 L195.5 612.0 L195.7 611.7 L196.0 611.4 L196.4 611.0 L196.7 610.7 L197.1 610.3 L197.5 610.0 L197.9 609.7 L198.4 609.3 L198.8 609.0 L199.3 608.7 L199.8 608.3 L200.2 608.0 L200.7 607.7 L201.1 607.3 L201.6 607.0 L202.0 606.7 L202.3 606.3 L202.6 606.0 L202.8 605.7 L203.0 605.3 L203.2 605.0 L203.4 604.6 L203.5 604.3 L203.6 604.0 L203.5 603.7 L203.4 603.5 L203.3 603.3 L203.1 603.0 L202.9 602.7 L202.6 602.4 L202.2 602.0 L201.8 601.6 L201.2 601.1 L200.6 600.6 L199.8 600.1 L199.2 599.6 L198.5 599.1 L197.9 598.6 L197.3 598.1 L196.7 597.6 L196.2 597.1 L195.6 596.7 L195.1 596.3 L194.8 596.0Z" fill="#3db54a" stroke="#231f20" stroke-width="0.75" stroke-linejoin="round"/><path d="M222.0 592.1 L221.8 592.6 L221.4 593.3 L221.0 594.1 L220.6 594.9 L220.2 595.8 L219.8 596.7 L219.5 597.5 L219.2 598.4 L218.8 599.3 L218.5 600.2 L218.3 601.1 L218.0 602.0 L217.7 602.9 L217.5 603.8 L217.3 604.7 L217.1 605.6 L216.9 606.5 L216.7 607.4 L216.5 608.3 L216.4 609.2 L216.2 610.0 L216.1 610.9 L216.0 611.8 L216.0 612.7 L216.0 613.6 L216.1 614.5 L216.3 615.4 L216.4 616.3 L216.5 617.2 L216.6 618.1 L216.7 619.0 L216.7 619.9 L216.7 620.8 L216.7 621.6 L216.7 622.5 L216.6 623.4 L216.4 624.3 L216.2 625.2 L215.9 626.1 L215.6 627.0 L215.4 627.9 L215.1 628.8 L214.9 629.7 L214.6 630.7 L214.4 631.6 L214.2 632.5 L214.0 633.3 L213.8 634.1 L213.6 634.8 L213.5 635.4 L213.3 636.0 L213.2 636.4 L213.1 636.9 L213.1 637.2 L213.1 637.4 L213.2 637.5 L213.3 637.6 L213.4 637.6 L213.4 637.6 L213.5 637.6 L230.5 637.6 L230.6 637.6 L230.6 637.6 L230.7 637.6 L230.8 637.5 L230.9 637.4 L230.9 637.2 L230.9 636.9 L230.8 636.4 L230.7 636.0 L230.5 635.4 L230.4 634.8 L230.2 634.1 L230.0 633.3 L229.8 632.5 L229.6 631.6 L229.4 630.7 L229.1 629.7 L228.9 628.8 L228.6 627.9 L228.4 627.0 L228.1 626.1 L227.8 625.2 L227.6 624.3 L227.4 623.4 L227.3 622.5 L227.3 621.6 L227.3 620.8 L227.3 619.9 L227.3 619.0 L227.4 618.1 L227.5 617.2 L227.6 616.3 L227.7 615.4 L227.9 614.5 L228.0 613.6 L228.0 612.7 L228.0 611.8 L227.9 610.9 L227.8 610.0 L227.6 609.2 L227.5 608.3 L227.3 607.4 L227.1 606.5 L226.9 605.6 L226.7 604.7 L226.5 603.8 L226.3 602.9 L226.0 602.0 L225.7 601.1 L225.5 600.2 L225.2 599.3 L224.8 598.4 L224.5 597.5 L224.2 596.7 L223.8 595.8 L223.4 594.9 L223.0 594.1 L222.6 593.3 L222.2 592.6 L222.0 592.1Z" fill="#1b5592" stroke="#231f20" stroke-width="0.6" stroke-linejoin="round"/><path d="M241.4 613.5V630.6" stroke="#231f20" stroke-width="0.8"/><path d="M241.4 591.2 L241.1 591.5 L240.6 592.0 L240.1 592.5 L239.5 593.0 L239.0 593.6 L238.4 594.1 L237.7 594.7 L237.1 595.3 L236.5 595.9 L235.8 596.5 L235.1 597.0 L234.6 597.6 L234.1 598.0 L233.8 598.5 L233.5 598.9 L233.3 599.2 L233.1 599.5 L233.0 599.7 L232.9 600.0 L232.8 600.3 L232.9 600.8 L233.0 601.3 L233.2 601.9 L233.4 602.4 L233.6 603.0 L233.8 603.5 L234.1 604.0 L234.4 604.6 L234.8 605.1 L235.2 605.6 L235.6 606.2 L236.1 606.7 L236.5 607.2 L237.0 607.8 L237.5 608.3 L237.9 608.8 L238.3 609.4 L238.7 609.9 L239.1 610.4 L239.5 611.0 L239.9 611.5 L240.2 612.1 L240.5 612.6 L240.7 613.1 L240.9 613.5 L241.0 613.9 L241.0 614.3 L241.1 614.5 L241.7 614.5 L241.8 614.3 L241.8 613.9 L241.9 613.5 L242.1 613.1 L242.3 612.6 L242.6 612.1 L242.9 611.5 L243.3 611.0 L243.7 610.4 L244.1 609.9 L244.5 609.4 L244.9 608.8 L245.3 608.3 L245.8 607.8 L246.3 607.2 L246.7 606.7 L247.2 606.2 L247.6 605.6 L248.0 605.1 L248.4 604.6 L248.7 604.0 L249.0 603.5 L249.2 603.0 L249.4 602.4 L249.6 601.9 L249.8 601.3 L249.9 600.8 L250.0 600.3 L249.9 600.0 L249.8 599.7 L249.7 599.5 L249.5 599.2 L249.3 598.9 L249.0 598.5 L248.7 598.0 L248.2 597.6 L247.7 597.0 L247.0 596.5 L246.3 595.9 L245.7 595.3 L245.1 594.7 L244.4 594.1 L243.8 593.6 L243.3 593.0 L242.7 592.5 L242.2 592.0 L241.7 591.5 L241.4 591.2Z" fill="#3db54a" stroke="#231f20" stroke-width="0.75" stroke-linejoin="round"/><path d="M270.1 590.9 L270.0 591.0 L270.0 591.0 L269.9 591.1 L269.8 591.2 L269.7 591.5 L269.6 592.0 L269.6 592.7 L269.5 593.6 L269.5 594.7 L269.5 595.8 L269.5 597.0 L269.5 598.0 L269.5 599.0 L269.5 600.0 L269.4 601.0 L269.4 602.0 L269.4 602.9 L269.3 603.8 L269.2 604.6 L269.1 605.4 L269.0 606.1 L268.9 606.9 L268.7 607.6 L268.5 608.3 L268.3 609.0 L268.0 609.8 L267.8 610.5 L267.5 611.2 L267.2 612.0 L266.8 612.7 L266.4 613.4 L265.9 614.2 L265.5 615.0 L265.0 615.7 L264.5 616.5 L264.1 617.2 L263.7 618.0 L263.3 618.7 L263.0 619.5 L262.6 620.3 L262.4 621.0 L262.1 621.6 L261.9 622.1 L261.7 622.6 L261.6 623.1 L261.5 623.5 L261.4 623.9 L261.4 624.3 L261.5 624.8 L261.6 625.2 L261.8 625.6 L262.0 626.1 L262.3 626.5 L262.5 627.0 L262.8 627.5 L263.1 627.9 L263.4 628.4 L263.7 628.9 L263.9 629.3 L264.1 629.7 L264.1 630.1 L264.0 630.4 L263.8 630.7 L263.6 630.9 L263.5 631.2 L263.6 631.5 L263.9 631.8 L264.5 632.1 L265.1 632.4 L265.7 632.6 L266.3 632.9 L266.8 633.2 L267.2 633.5 L267.5 633.8 L267.8 634.1 L268.1 634.4 L268.2 634.7 L268.3 635.0 L268.2 635.3 L268.1 635.5 L267.8 635.7 L267.5 636.0 L267.2 636.2 L267.0 636.4 L266.8 636.6 L266.7 636.8 L266.6 637.0 L266.4 637.2 L266.4 637.4 L266.3 637.5 L266.3 637.6 L266.3 637.7 L266.4 637.8 L266.5 637.8 L266.6 637.9 L266.6 637.9 L273.6 637.9 L273.6 637.9 L273.7 637.8 L273.8 637.8 L273.9 637.7 L273.9 637.6 L273.9 637.5 L273.8 637.4 L273.8 637.2 L273.7 637.0 L273.5 636.8 L273.4 636.6 L273.2 636.4 L273.0 636.2 L272.7 636.0 L272.4 635.7 L272.1 635.5 L272.0 635.3 L271.9 635.0 L272.0 634.7 L272.1 634.4 L272.4 634.1 L272.7 633.8 L273.0 633.5 L273.4 633.2 L273.9 632.9 L274.5 632.6 L275.1 632.4 L275.7 632.1 L276.3 631.8 L276.6 631.5 L276.7 631.2 L276.6 630.9 L276.5 630.7 L276.2 630.4 L276.1 630.1 L276.1 629.7 L276.3 629.3 L276.5 628.9 L276.8 628.4 L277.1 627.9 L277.4 627.5 L277.7 627.0 L277.9 626.5 L278.2 626.1 L278.4 625.6 L278.6 625.2 L278.7 624.8 L278.8 624.3 L278.8 623.9 L278.7 623.5 L278.6 623.1 L278.5 622.6 L278.3 622.1 L278.1 621.6 L277.9 621.0 L277.6 620.3 L277.2 619.5 L276.9 618.7 L276.5 618.0 L276.1 617.2 L275.7 616.5 L275.2 615.7 L274.7 615.0 L274.3 614.2 L273.8 613.4 L273.4 612.7 L273.0 612.0 L272.7 611.2 L272.4 610.5 L272.2 609.8 L271.9 609.0 L271.7 608.3 L271.5 607.6 L271.3 606.9 L271.2 606.1 L271.1 605.4 L271.0 604.6 L270.9 603.8 L270.8 602.9 L270.8 602.0 L270.8 601.0 L270.7 600.0 L270.7 599.0 L270.7 598.0 L270.7 597.0 L270.7 595.8 L270.7 594.7 L270.7 593.6 L270.6 592.7 L270.6 592.0 L270.5 591.5 L270.4 591.2 L270.3 591.1 L270.2 591.0 L270.2 591.0 L270.1 590.9Z" fill="#1b5592" stroke="#231f20" stroke-width="0.6" stroke-linejoin="round"/><path d="M289.4 619.8V631.9" stroke="#231f20" stroke-width="0.8"/><path d="M289.4 594.0 L289.1 594.5 L288.6 595.1 L288.0 595.9 L287.5 596.7 L286.9 597.5 L286.3 598.3 L285.6 599.2 L285.0 600.0 L284.3 600.9 L283.6 601.8 L282.9 602.6 L282.4 603.4 L281.9 604.1 L281.6 604.7 L281.3 605.3 L281.0 605.8 L280.8 606.2 L280.7 606.6 L280.6 607.0 L280.6 607.4 L280.7 607.9 L280.8 608.4 L280.9 608.9 L281.1 609.4 L281.3 609.9 L281.6 610.4 L281.9 610.9 L282.2 611.4 L282.6 611.9 L283.0 612.4 L283.5 612.9 L283.9 613.4 L284.4 613.9 L284.9 614.4 L285.3 614.9 L285.8 615.4 L286.2 615.9 L286.7 616.4 L287.1 616.9 L287.5 617.4 L287.8 618.0 L288.2 618.5 L288.5 619.0 L288.7 619.5 L288.9 619.9 L288.9 620.3 L289.0 620.6 L289.0 620.8 L289.8 620.8 L289.8 620.6 L289.9 620.3 L289.9 619.9 L290.1 619.5 L290.3 619.0 L290.6 618.5 L291.0 618.0 L291.3 617.4 L291.7 616.9 L292.1 616.4 L292.6 615.9 L293.0 615.4 L293.5 614.9 L293.9 614.4 L294.4 613.9 L294.9 613.4 L295.3 612.9 L295.8 612.4 L296.2 611.9 L296.6 611.4 L296.9 610.9 L297.2 610.4 L297.5 609.9 L297.7 609.4 L297.9 608.9 L298.0 608.4 L298.1 607.9 L298.2 607.4 L298.2 607.0 L298.1 606.6 L298.0 606.2 L297.8 605.8 L297.5 605.3 L297.2 604.7 L296.9 604.1 L296.4 603.4 L295.9 602.6 L295.2 601.8 L294.5 600.9 L293.8 600.0 L293.2 599.2 L292.5 598.3 L291.9 597.5 L291.3 596.7 L290.8 595.9 L290.2 595.1 L289.7 594.5 L289.4 594.0Z" fill="#3db54a" stroke="#231f20" stroke-width="0.75" stroke-linejoin="round"/><path d="M316.5 601.2 L316.4 601.4 L316.4 601.5 L316.3 601.8 L316.2 602.1 L316.1 602.5 L316.0 603.0 L316.0 603.6 L315.9 604.4 L315.9 605.2 L315.9 606.1 L315.9 607.2 L315.8 608.3 L315.7 609.6 L315.6 611.0 L315.5 612.5 L315.4 614.1 L315.3 615.7 L315.2 617.2 L315.1 618.7 L315.0 620.3 L314.9 621.9 L314.9 623.5 L314.8 624.9 L314.7 626.1 L314.6 627.1 L314.6 628.0 L314.6 628.7 L314.5 629.4 L314.4 630.0 L314.3 630.6 L314.1 631.2 L314.0 631.6 L313.8 632.1 L313.6 632.5 L313.3 632.8 L313.0 633.2 L312.7 633.5 L312.3 633.9 L311.8 634.2 L311.4 634.4 L310.9 634.7 L310.5 635.0 L310.1 635.3 L309.6 635.6 L309.1 636.0 L308.7 636.3 L308.3 636.6 L308.0 636.8 L307.8 637.0 L307.7 637.2 L307.6 637.3 L307.6 637.5 L307.6 637.6 L307.6 637.7 L307.6 637.8 L307.7 637.9 L307.8 638.0 L307.9 638.0 L307.9 638.1 L308.0 638.1 L325.0 638.1 L325.1 638.1 L325.1 638.0 L325.2 638.0 L325.3 637.9 L325.4 637.8 L325.4 637.7 L325.4 637.6 L325.4 637.5 L325.4 637.3 L325.3 637.2 L325.2 637.0 L325.0 636.8 L324.7 636.6 L324.3 636.3 L323.9 636.0 L323.4 635.6 L322.9 635.3 L322.5 635.0 L322.1 634.7 L321.6 634.4 L321.2 634.2 L320.7 633.9 L320.3 633.5 L320.0 633.2 L319.7 632.8 L319.4 632.5 L319.2 632.1 L319.0 631.6 L318.9 631.2 L318.7 630.6 L318.6 630.0 L318.5 629.4 L318.4 628.7 L318.4 628.0 L318.4 627.1 L318.3 626.1 L318.2 624.9 L318.1 623.5 L318.1 621.9 L318.0 620.3 L317.9 618.7 L317.8 617.2 L317.7 615.7 L317.6 614.1 L317.5 612.5 L317.4 611.0 L317.3 609.6 L317.2 608.3 L317.1 607.2 L317.1 606.1 L317.1 605.2 L317.1 604.4 L317.0 603.6 L317.0 603.0 L316.9 602.5 L316.8 602.1 L316.7 601.8 L316.6 601.5 L316.6 601.4 L316.5 601.2Z" fill="#1b5592" stroke="#231f20" stroke-width="0.6" stroke-linejoin="round"/><path d="M335.7 594.9V601.5" stroke="#231f20" stroke-width="0.8"/><path d="M335.7 624.2V637.7" stroke="#231f20" stroke-width="0.8"/><path d="M335.7 600.5 L335.4 600.8 L334.9 601.3 L334.3 601.9 L333.7 602.5 L333.1 603.1 L332.5 603.7 L331.9 604.4 L331.2 605.0 L330.5 605.6 L329.8 606.3 L329.1 606.9 L328.5 607.5 L328.0 608.0 L327.7 608.5 L327.4 608.9 L327.1 609.3 L327.0 609.6 L326.8 609.9 L326.7 610.1 L326.7 610.5 L326.8 611.0 L326.9 611.5 L327.0 612.1 L327.2 612.7 L327.5 613.3 L327.7 613.8 L328.0 614.4 L328.3 614.9 L328.7 615.5 L329.2 616.0 L329.6 616.6 L330.1 617.1 L330.6 617.7 L331.1 618.2 L331.5 618.8 L332.0 619.3 L332.5 619.9 L332.9 620.4 L333.3 621.0 L333.7 621.5 L334.1 622.1 L334.4 622.7 L334.7 623.2 L335.0 623.7 L335.1 624.2 L335.2 624.6 L335.3 625.0 L335.3 625.2 L336.1 625.2 L336.1 625.0 L336.2 624.6 L336.3 624.2 L336.4 623.7 L336.7 623.2 L337.0 622.7 L337.3 622.1 L337.7 621.5 L338.1 621.0 L338.5 620.4 L338.9 619.9 L339.4 619.3 L339.9 618.8 L340.3 618.2 L340.8 617.7 L341.3 617.1 L341.8 616.6 L342.2 616.0 L342.7 615.5 L343.1 614.9 L343.4 614.4 L343.7 613.8 L343.9 613.3 L344.2 612.7 L344.4 612.1 L344.5 611.5 L344.6 611.0 L344.7 610.5 L344.7 610.1 L344.6 609.9 L344.4 609.6 L344.2 609.3 L344.0 608.9 L343.7 608.5 L343.4 608.0 L342.9 607.5 L342.3 606.9 L341.6 606.3 L340.9 605.6 L340.2 605.0 L339.5 604.4 L338.9 603.7 L338.3 603.1 L337.7 602.5 L337.1 601.9 L336.5 601.3 L336.0 600.8 L335.7 600.5Z" fill="#3db54a" stroke="#231f20" stroke-width="0.75" stroke-linejoin="round"/><path d="M363.5 597.1 L363.4 597.3 L363.2 597.5 L363.1 597.8 L362.9 598.1 L362.7 598.5 L362.5 599.0 L362.3 599.6 L362.2 600.3 L362.0 601.1 L361.8 601.9 L361.7 602.8 L361.5 603.8 L361.3 604.9 L361.1 606.1 L360.9 607.3 L360.8 608.6 L360.6 609.8 L360.6 611.0 L360.7 612.1 L360.8 613.1 L361.0 614.2 L361.2 615.2 L361.4 616.2 L361.5 617.2 L361.5 618.2 L361.5 619.3 L361.5 620.4 L361.5 621.4 L361.4 622.4 L361.3 623.4 L361.2 624.4 L361.1 625.3 L360.9 626.2 L360.7 627.1 L360.5 628.0 L360.3 628.8 L360.0 629.6 L359.7 630.4 L359.3 631.2 L358.9 631.9 L358.6 632.6 L358.2 633.2 L357.8 633.8 L357.5 634.3 L357.1 634.7 L356.7 635.1 L356.4 635.5 L356.1 635.9 L355.8 636.3 L355.6 636.6 L355.3 636.9 L355.1 637.2 L355.0 637.5 L354.9 637.7 L354.9 637.9 L354.9 638.0 L355.0 638.0 L355.1 638.0 L355.2 638.1 L355.3 638.1 L371.7 638.1 L371.8 638.1 L371.9 638.0 L372.0 638.0 L372.1 638.0 L372.1 637.9 L372.1 637.7 L372.0 637.5 L371.9 637.2 L371.7 636.9 L371.4 636.6 L371.2 636.3 L370.9 635.9 L370.6 635.5 L370.3 635.1 L369.9 634.7 L369.5 634.3 L369.2 633.8 L368.8 633.2 L368.4 632.6 L368.1 631.9 L367.7 631.2 L367.3 630.4 L367.0 629.6 L366.7 628.8 L366.5 628.0 L366.3 627.1 L366.1 626.2 L365.9 625.3 L365.8 624.4 L365.7 623.4 L365.6 622.4 L365.5 621.4 L365.5 620.4 L365.5 619.3 L365.5 618.2 L365.5 617.2 L365.6 616.2 L365.8 615.2 L366.0 614.2 L366.2 613.1 L366.3 612.1 L366.4 611.0 L366.4 609.8 L366.2 608.6 L366.1 607.3 L365.9 606.1 L365.7 604.9 L365.5 603.8 L365.3 602.8 L365.2 601.9 L365.0 601.1 L364.8 600.3 L364.7 599.6 L364.5 599.0 L364.3 598.5 L364.1 598.1 L363.9 597.8 L363.8 597.5 L363.6 597.3 L363.5 597.1Z" fill="#1b5592" stroke="#231f20" stroke-width="0.6" stroke-linejoin="round"/><path d="M383.2 595.8V600.4" stroke="#231f20" stroke-width="0.8"/><path d="M383.2 622.0V638.1" stroke="#231f20" stroke-width="0.8"/><path d="M383.2 599.4 L382.9 599.8 L382.4 600.3 L381.8 600.9 L381.2 601.5 L380.6 602.1 L380.0 602.8 L379.3 603.5 L378.6 604.1 L377.9 604.8 L377.2 605.5 L376.5 606.1 L375.9 606.8 L375.5 607.3 L375.1 607.8 L374.8 608.2 L374.6 608.6 L374.4 609.0 L374.2 609.3 L374.1 609.6 L374.1 609.9 L374.2 610.3 L374.3 610.8 L374.4 611.4 L374.6 611.9 L374.9 612.4 L375.1 612.8 L375.4 613.3 L375.7 613.8 L376.1 614.3 L376.6 614.8 L377.1 615.3 L377.6 615.8 L378.0 616.3 L378.5 616.8 L379.0 617.3 L379.5 617.8 L379.9 618.3 L380.4 618.7 L380.8 619.2 L381.2 619.7 L381.6 620.2 L381.9 620.7 L382.2 621.2 L382.5 621.7 L382.6 622.1 L382.7 622.5 L382.8 622.8 L382.8 623.0 L383.6 623.0 L383.6 622.8 L383.7 622.5 L383.8 622.1 L383.9 621.7 L384.2 621.2 L384.5 620.7 L384.8 620.2 L385.2 619.7 L385.6 619.2 L386.0 618.7 L386.5 618.3 L386.9 617.8 L387.4 617.3 L387.9 616.8 L388.4 616.3 L388.8 615.8 L389.3 615.3 L389.8 614.8 L390.3 614.3 L390.7 613.8 L391.0 613.3 L391.3 612.8 L391.5 612.4 L391.8 611.9 L392.0 611.4 L392.1 610.8 L392.2 610.3 L392.3 609.9 L392.3 609.6 L392.2 609.3 L392.0 609.0 L391.8 608.6 L391.6 608.2 L391.3 607.8 L390.9 607.3 L390.5 606.8 L389.9 606.1 L389.2 605.5 L388.5 604.8 L387.8 604.1 L387.1 603.5 L386.4 602.8 L385.8 602.1 L385.2 601.5 L384.6 600.9 L384.0 600.3 L383.5 599.8 L383.2 599.4Z" fill="#3db54a" stroke="#231f20" stroke-width="0.75" stroke-linejoin="round"/><rect x="389" y="516.8" width="14.7" height="6.7" fill="#3db54a" stroke="#231f20" stroke-width="0.6"/><rect x="389" y="530.4" width="14.7" height="7" fill="#1b5592" stroke="#231f20" stroke-width="0.6"/><text transform="rotate(0.05 406.8 522.8)" x="406.8" y="522.8" font-size="7.6" fill="#231f20" textLength="32.9" lengthAdjust="spacingAndGlyphs">Fetal lung</text><text transform="rotate(0.05 406.8 536.5)" x="406.8" y="536.5" font-size="7.6" fill="#231f20" textLength="44.2" lengthAdjust="spacingAndGlyphs">Bone marrow</text></g>
<rect x="0.5" y="0.5" width="519" height="649" fill="none" stroke="#000" stroke-width="1.2"/>
</svg></body></html>
